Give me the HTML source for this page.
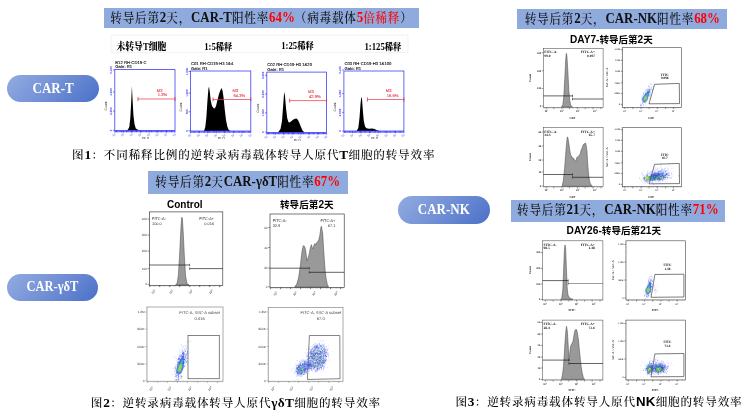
<!DOCTYPE html>
<html><head><meta charset="utf-8"><title>CAR transduction efficiency</title>
<style>
html,body{margin:0;padding:0;background:#fff;}
body{width:747px;height:420px;position:relative;overflow:hidden;font-family:"Liberation Serif","Noto Serif CJK SC",serif;}
svg{position:absolute;left:0;top:0;}
.sh{filter:blur(0.3px);}
.tx{filter:blur(0.15px);}
.ts{font-family:"Liberation Serif","Noto Serif CJK SC",serif;}
svg text{text-rendering:geometricPrecision;}
.tn{font-family:"Liberation Sans","Noto Sans CJK SC",sans-serif;}
.band{position:absolute;background:#8faadc;color:#111;text-align:center;white-space:nowrap;font-family:"Liberation Serif","Noto Serif CJK SC",serif;font-weight:500;}
.band b{font-weight:bold;letter-spacing:0;font-size:12.9px;}
.bt{display:inline-block;transform:scale(1,1.12);transform-origin:50% 55%;}
.r{color:#ff0000;}
.pill{position:absolute;border-radius:14px;background:linear-gradient(135deg,#92abe0 0%,#7592d6 45%,#4a70c8 100%);color:#fff;font-weight:bold;text-align:center;white-space:nowrap;font-family:"Liberation Serif","Noto Serif CJK SC",serif;}
.pt{display:inline-block;transform:scale(1,1.1);}
.sl{position:absolute;white-space:nowrap;font-family:"Liberation Serif","Noto Serif CJK SC",serif;font-weight:900;color:#000;line-height:14px;}
.sl i{font-style:normal;font-size:8.7px;font-weight:bold;}
.sl{transform:scale(1,1.1);transform-origin:0 50%;}
.bl i{font-style:normal;font-size:106%;}
.bl{position:absolute;white-space:nowrap;font-family:"Liberation Sans","Noto Sans CJK SC",sans-serif;font-weight:bold;color:#000;line-height:14px;}
.cap{position:absolute;white-space:nowrap;font-family:"Liberation Serif","Noto Serif CJK SC",serif;color:#000;line-height:16px;letter-spacing:0.8px;font-weight:500;}
.cap b{letter-spacing:0.3px;font-size:13.3px;font-weight:bold;}
.sn{font-family:"Liberation Sans","Noto Sans CJK SC",sans-serif;}
</style></head>
<body>
<svg width="747" height="420" viewBox="0 0 747 420">
<defs><filter id="bl" x="-50%" y="-50%" width="200%" height="200%"><feGaussianBlur stdDeviation="0.35"/></filter></defs>
<g class="sh">
<rect x="111" y="35" width="297" height="17.5" fill="#fefefe" stroke="#eeeef2" stroke-width="0.7"/>
<path d="M126.5 130.4L128 129.6L129.3 127L130.3 118L131.2 102L131.9 86L132.6 100L133.4 115L134.5 124L135.8 128.6L138 129.8L141 130.4Z" fill="#000" stroke="none" stroke-width="1" stroke-linejoin="round"/>
<rect x="114.8" y="69.6" width="60.2" height="60.8" stroke="#4040f3" stroke-width="0.8" fill="none"/>
<path d="M114.8 130.4L114.8 132.6M123.4 130.4L123.4 132.6M132 130.4L132 132.6M140.6 130.4L140.6 132.6M149.2 130.4L149.2 132.6M157.8 130.4L157.8 132.6M166.4 130.4L166.4 132.6M175 130.4L175 132.6" stroke="#4040f3" stroke-width="0.7" fill="none"/>
<path d="M114.8 131.5L175 131.5" stroke="#2a2af8" stroke-width="1.5" stroke-dasharray="0.9 0.35"/>
<path d="M113 130.4L114.8 130.4M113 111.1L114.8 111.1M113 91.9L114.8 91.9M113 69.9L114.8 69.9" stroke="#4040f3" stroke-width="0.7" fill="none"/>
<path d="M138 99L175 99" stroke="#e63548" stroke-width="0.7" fill="none"/>
<path d="M138 96.9L138 101.1M175 96.9L175 101.1" stroke="#e63548" stroke-width="0.8" fill="none"/>
<path d="M204 131L205.3 127L206.4 117L207.5 100L208.4 89L209 86.5L209.8 92L210.8 101L212 106L213.5 108L214.8 108.5L216 106L217.5 100L219 94L220.5 90L221.6 88L222.6 91L223.6 98L224.8 110L226 120L227.3 126.5L228.8 130L230.5 131Z" fill="#000" stroke="none" stroke-width="1" stroke-linejoin="round"/>
<rect x="190.4" y="71" width="60.4" height="60" stroke="#4040f3" stroke-width="0.8" fill="none"/>
<path d="M190.4 131L190.4 133.2M199.03 131L199.03 133.2M207.66 131L207.66 133.2M216.29 131L216.29 133.2M224.91 131L224.91 133.2M233.54 131L233.54 133.2M242.17 131L242.17 133.2M250.8 131L250.8 133.2" stroke="#4040f3" stroke-width="0.7" fill="none"/>
<path d="M190.4 132.1L250.8 132.1" stroke="#2a2af8" stroke-width="1.5" stroke-dasharray="0.9 0.35"/>
<path d="M188.6 130.8L190.4 130.8M188.6 111.8L190.4 111.8M188.6 93.1L190.4 93.1M188.6 71.5L190.4 71.5" stroke="#4040f3" stroke-width="0.7" fill="none"/>
<path d="M213 99.5L250.8 99.5" stroke="#e63548" stroke-width="0.7" fill="none"/>
<path d="M213 97.4L213 101.6M250.8 97.4L250.8 101.6" stroke="#e63548" stroke-width="0.8" fill="none"/>
<path d="M278 132.5L280.5 129L282 121L283.2 105L284.2 91.8L285 96L286 108L287.2 118L288.4 122L289.5 122.6L291 121.5L293 119.8L295 118.8L296.6 118.6L298 120L299.6 123.5L301 127L302.5 130.5L304.5 132.5Z" fill="#000" stroke="none" stroke-width="1" stroke-linejoin="round"/>
<rect x="266.8" y="72.1" width="59.7" height="60.4" stroke="#4040f3" stroke-width="0.8" fill="none"/>
<path d="M266.8 132.5L266.8 134.7M275.33 132.5L275.33 134.7M283.86 132.5L283.86 134.7M292.39 132.5L292.39 134.7M300.91 132.5L300.91 134.7M309.44 132.5L309.44 134.7M317.97 132.5L317.97 134.7M326.5 132.5L326.5 134.7" stroke="#4040f3" stroke-width="0.7" fill="none"/>
<path d="M266.8 133.6L326.5 133.6" stroke="#2a2af8" stroke-width="1.5" stroke-dasharray="0.9 0.35"/>
<path d="M265 132.1L266.8 132.1M265 112.8L266.8 112.8M265 94L266.8 94M265 75.3L266.8 75.3" stroke="#4040f3" stroke-width="0.7" fill="none"/>
<path d="M289.7 100.6L326.5 100.6" stroke="#e63548" stroke-width="0.7" fill="none"/>
<path d="M289.7 98.5L289.7 102.7M326.5 98.5L326.5 102.7" stroke="#e63548" stroke-width="0.8" fill="none"/>
<path d="M356.5 131L358.3 128L359.5 118L360.5 104L361.3 96.8L362 99L362.8 110L363.8 121L365 126.5L366.5 128.3L369 128.8L372 128.5L374.5 129L377 130.2L379.5 131Z" fill="#000" stroke="none" stroke-width="1" stroke-linejoin="round"/>
<rect x="343.9" y="71" width="60" height="60" stroke="#4040f3" stroke-width="0.8" fill="none"/>
<path d="M343.9 131L343.9 133.2M352.47 131L352.47 133.2M361.04 131L361.04 133.2M369.61 131L369.61 133.2M378.19 131L378.19 133.2M386.76 131L386.76 133.2M395.33 131L395.33 133.2M403.9 131L403.9 133.2" stroke="#4040f3" stroke-width="0.7" fill="none"/>
<path d="M343.9 132.1L403.9 132.1" stroke="#2a2af8" stroke-width="1.5" stroke-dasharray="0.9 0.35"/>
<path d="M342.1 131L343.9 131M342.1 112.4L343.9 112.4M342.1 93.6L343.9 93.6M342.1 70L343.9 70" stroke="#4040f3" stroke-width="0.7" fill="none"/>
<path d="M367.4 99.5L403.9 99.5" stroke="#e63548" stroke-width="0.7" fill="none"/>
<path d="M367.4 97.4L367.4 101.6M403.9 97.4L403.9 101.6" stroke="#e63548" stroke-width="0.8" fill="none"/>
<path d="M175.5 284.9L177 283.5L178.3 276L179.6 255L180.7 232L181.5 219L181.9 217.2L182.4 219L183.2 232L184.3 255L185.6 276L187 283.5L189 284.9Z" fill="#999999" stroke="#444" stroke-width="0.5" stroke-linejoin="round"/>
<rect x="149.3" y="211.9" width="73.5" height="73.5" stroke="#222" stroke-width="0.6" fill="none"/>
<path d="M149.3 265L189.6 265" stroke="#111" stroke-width="0.65" fill="none"/>
<path d="M189.6 268.6L222.8 268.6" stroke="#111" stroke-width="0.65" fill="none"/>
<path d="M189.6 263.8L189.6 266.2M189.6 267.4L189.6 269.8" stroke="#222" stroke-width="0.6" fill="none"/>
<path d="M147.6 219L149.3 219M147.6 235L149.3 235M147.6 251L149.3 251M147.6 268.6L149.3 268.6M147.6 284.3L149.3 284.3" stroke="#222" stroke-width="0.55" fill="none"/>
<path d="M149.7 285.4L149.7 287.1M159.7 285.4L159.7 287.1M169.7 285.4L169.7 287.1M179.7 285.4L179.7 287.1M189.7 285.4L189.7 287.1M199.7 285.4L199.7 287.1M209.7 285.4L209.7 287.1M219.7 285.4L219.7 287.1" stroke="#222" stroke-width="0.55" fill="none"/>
<path d="M149.3 285.95L222.8 285.95" stroke="#222" stroke-width="0.9" stroke-dasharray="0.4 0.85" opacity="0.65"/>
<path d="M294.71 287.07L296.85 283.85L298.57 277.85L299.85 269.28L301.14 258.57L302.21 250L303.28 245.71L304.35 246.14L305.42 248.93L306.28 255.35L307.14 260.71L308.21 257.5L309.28 253.85L310.35 247.85L311.42 244.64L312.28 247.43L313.14 248.93L314 245.28L314.85 243.57L315.71 244.85L316.78 242.5L317.85 241.85L318.92 239.28L319.78 235.43L320.42 231.14L320.85 227.71L321.28 226.21L321.71 227.71L322.14 230.28L322.78 233.93L323.42 245.71L324.28 258.57L325.14 270.35L325.99 277.85L327.28 284.28L328.57 287.07Z" fill="#999999" stroke="#444" stroke-width="0.5" stroke-linejoin="round"/>
<rect x="270" y="214" width="74.2" height="73.5" stroke="#222" stroke-width="0.6" fill="none"/>
<path d="M270 268.2L309.3 268.2" stroke="#111" stroke-width="0.65" fill="none"/>
<path d="M309.3 272.3L344.2 272.3" stroke="#111" stroke-width="0.65" fill="none"/>
<path d="M309.3 267L309.3 269.4M309.3 271.1L309.3 273.5" stroke="#222" stroke-width="0.6" fill="none"/>
<path d="M268.3 227.5L270 227.5M268.3 247.5L270 247.5M268.3 268L270 268M268.3 286.8L270 286.8" stroke="#222" stroke-width="0.55" fill="none"/>
<path d="M270.4 287.5L270.4 289.2M280.4 287.5L280.4 289.2M290.4 287.5L290.4 289.2M300.4 287.5L300.4 289.2M310.4 287.5L310.4 289.2M320.4 287.5L320.4 289.2M330.4 287.5L330.4 289.2M340.4 287.5L340.4 289.2" stroke="#222" stroke-width="0.55" fill="none"/>
<path d="M270 288.05L344.2 288.05" stroke="#222" stroke-width="0.9" stroke-dasharray="0.4 0.85" opacity="0.65"/>
<path d="M561.5 107L562.8 105L563.8 96L564.8 78L565.7 60L566.3 53.3L566.9 56L567.8 70L568.8 90L569.8 101L570.8 105.5L572.5 107Z" fill="#999999" stroke="#444" stroke-width="0.5" stroke-linejoin="round"/>
<rect x="543.4" y="48.4" width="59.7" height="59.1" stroke="#4a4a4a" stroke-width="0.55" fill="none"/>
<path d="M543.4 95.9L572.5 95.9" stroke="#111" stroke-width="0.65" fill="none"/>
<path d="M572.5 99L603.1 99" stroke="#111" stroke-width="0.65" fill="none"/>
<path d="M572.5 94.7L572.5 97.1M572.5 97.8L572.5 100.2" stroke="#222" stroke-width="0.6" fill="none"/>
<path d="M541.7 52.7L543.4 52.7M541.7 70.7L543.4 70.7M541.7 88.5L543.4 88.5M541.7 106.1L543.4 106.1" stroke="#4a4a4a" stroke-width="0.55" fill="none"/>
<path d="M546.2 107.5L546.2 109.2M554 107.5L554 109.2M561.8 107.5L561.8 109.2M569.6 107.5L569.6 109.2M577.4 107.5L577.4 109.2M585.2 107.5L585.2 109.2M593 107.5L593 109.2M600.8 107.5L600.8 109.2" stroke="#4a4a4a" stroke-width="0.55" fill="none"/>
<path d="M543.4 108.05L603.1 108.05" stroke="#4a4a4a" stroke-width="0.9" stroke-dasharray="0.4 0.85" opacity="0.65"/>
<path d="M562.17 186.27L563.37 180.24L564.58 168.19L565.54 156.14L566.27 146.51L566.99 139.28L567.47 136.87L567.95 138.07L568.92 144.1L569.88 150.84L570.6 154.94L571.81 156.14L572.53 158.55L573.49 158.07L574.7 160.48L575.9 160.96L576.87 157.35L577.83 156.63L579.04 155.66L580.24 153.73L581.2 150.12L582.17 147.71L583.13 145.06L583.86 144.1L584.82 143.61L585.54 142.89L586.27 146.02L586.99 151.33L587.71 163.37L588.43 173.01L589.4 180.24L590.36 183.86L592.29 186.27Z" fill="#999999" stroke="#444" stroke-width="0.5" stroke-linejoin="round"/>
<rect x="543.4" y="127.7" width="59.7" height="59" stroke="#4a4a4a" stroke-width="0.55" fill="none"/>
<path d="M543.4 174.5L572.5 174.5" stroke="#111" stroke-width="0.65" fill="none"/>
<path d="M572.5 177.3L603.1 177.3" stroke="#111" stroke-width="0.65" fill="none"/>
<path d="M572.5 173.3L572.5 175.7M572.5 176.1L572.5 178.5" stroke="#222" stroke-width="0.6" fill="none"/>
<path d="M541.7 132L543.4 132M541.7 146L543.4 146M541.7 160L543.4 160M541.7 172L543.4 172M541.7 186L543.4 186" stroke="#4a4a4a" stroke-width="0.55" fill="none"/>
<path d="M546.2 186.7L546.2 188.4M554 186.7L554 188.4M561.8 186.7L561.8 188.4M569.6 186.7L569.6 188.4M577.4 186.7L577.4 188.4M585.2 186.7L585.2 188.4M593 186.7L593 188.4M600.8 186.7L600.8 188.4" stroke="#4a4a4a" stroke-width="0.55" fill="none"/>
<path d="M543.4 187.25L603.1 187.25" stroke="#4a4a4a" stroke-width="0.9" stroke-dasharray="0.4 0.85" opacity="0.65"/>
<path d="M560.6 299.4L561.8 298L562.8 290L563.6 270L564.4 250L565 244.9L565.6 248L566.4 268L567.2 288L568 295L569.4 297.8L571.5 298.8L573 299.4Z" fill="#999999" stroke="#444" stroke-width="0.5" stroke-linejoin="round"/>
<rect x="542.6" y="240.8" width="60.3" height="59.1" stroke="#4a4a4a" stroke-width="0.55" fill="none"/>
<path d="M542.6 280.6L568.2 280.6" stroke="#111" stroke-width="0.65" fill="none"/>
<path d="M568.2 283.5L602.9 283.5" stroke="#666" stroke-width="0.65" fill="none"/>
<path d="M568.2 279.4L568.2 281.8M568.2 282.3L568.2 284.7" stroke="#222" stroke-width="0.6" fill="none"/>
<path d="M540.9 252.5L542.6 252.5M540.9 268.5L542.6 268.5M540.9 284L542.6 284M540.9 299.4L542.6 299.4" stroke="#4a4a4a" stroke-width="0.55" fill="none"/>
<path d="M545.4 299.9L545.4 301.6M553.2 299.9L553.2 301.6M561 299.9L561 301.6M568.8 299.9L568.8 301.6M576.6 299.9L576.6 301.6M584.4 299.9L584.4 301.6M592.2 299.9L592.2 301.6M600 299.9L600 301.6" stroke="#4a4a4a" stroke-width="0.55" fill="none"/>
<path d="M542.6 300.45L602.9 300.45" stroke="#4a4a4a" stroke-width="0.9" stroke-dasharray="0.4 0.85" opacity="0.65"/>
<path d="M561.45 379.4L562.41 375.06L563.37 367.83L564.34 353.37L565.06 341.33L565.78 331.69L566.51 326.39L567.23 330.48L567.71 336.51L568.43 349.76L568.92 361.08L569.4 356.99L569.88 351.45L570.6 346.14L571.81 343.73L573.01 341.33L573.98 335.3L574.94 330.48L575.9 329.28L576.63 329.76L577.35 332.89L578.31 338.92L579.28 348.55L580.24 358.19L581.2 366.63L582.17 372.65L583.37 377.47L584.58 379.4Z" fill="#999999" stroke="#444" stroke-width="0.5" stroke-linejoin="round"/>
<rect x="542.6" y="320.1" width="60.3" height="59.8" stroke="#4a4a4a" stroke-width="0.55" fill="none"/>
<path d="M542.6 360.1L568.9 360.1" stroke="#111" stroke-width="0.65" fill="none"/>
<path d="M568.9 363.5L602.9 363.5" stroke="#111" stroke-width="0.65" fill="none"/>
<path d="M568.9 358.9L568.9 361.3M568.9 362.3L568.9 364.7" stroke="#222" stroke-width="0.6" fill="none"/>
<path d="M540.9 322.5L542.6 322.5M540.9 334L542.6 334M540.9 345.5L542.6 345.5M540.9 357L542.6 357M540.9 368L542.6 368M540.9 379.5L542.6 379.5" stroke="#4a4a4a" stroke-width="0.55" fill="none"/>
<path d="M545.4 379.9L545.4 381.6M553.2 379.9L553.2 381.6M561 379.9L561 381.6M568.8 379.9L568.8 381.6M576.6 379.9L576.6 381.6M584.4 379.9L584.4 381.6M592.2 379.9L592.2 381.6M600 379.9L600 381.6" stroke="#4a4a4a" stroke-width="0.55" fill="none"/>
<path d="M542.6 380.45L602.9 380.45" stroke="#4a4a4a" stroke-width="0.9" stroke-dasharray="0.4 0.85" opacity="0.65"/>
<rect x="147" y="307" width="76" height="74.25" stroke="#888" stroke-width="0.7" fill="none"/>
<path d="M145.3 312L147 312M145.3 329L147 329M145.3 346.5L147 346.5M145.3 364L147 364M145.3 380.8L147 380.8" stroke="#888" stroke-width="0.55" fill="none"/>
<path d="M147.4 381.25L147.4 382.95M157.4 381.25L157.4 382.95M167.4 381.25L167.4 382.95M177.4 381.25L177.4 382.95M187.4 381.25L187.4 382.95M197.4 381.25L197.4 382.95M207.4 381.25L207.4 382.95M217.4 381.25L217.4 382.95" stroke="#888" stroke-width="0.55" fill="none"/>
<path d="M147 381.8L223 381.8" stroke="#888" stroke-width="0.9" stroke-dasharray="0.4 0.85" opacity="0.65"/>
<path d="M146.45 307L146.45 381.25" stroke="#888" stroke-width="0.9" stroke-dasharray="0.4 1.3" opacity="0.5"/>
<path d="M179.9 365.44h0.7M182 355.53h0.7M181.79 354.57h0.7M177.61 373.99h0.7M180.82 357.58h0.7M180.99 366.27h0.7M183.04 355.47h0.7M178.9 368.66h0.7M178.31 358.3h0.7M178.87 351.1h0.7M176.55 359.76h0.7M176.8 364.31h0.7M181.43 361.58h0.7M175.57 356.79h0.7M180.21 363.89h0.7M177.9 358h0.7M180.05 355.69h0.7M185.14 357.16h0.7M178.45 370.2h0.7M179.4 361.67h0.7M180.73 363.6h0.7M177.36 362.74h0.7M187.62 351.33h0.7M182.47 364.59h0.7M174.31 378.89h0.7M185.31 353.75h0.7M179.44 367.77h0.7M178.53 368.44h0.7M178.87 368.4h0.7M185.78 358.51h0.7M182.19 359.36h0.7M183.7 353.39h0.7M179.61 360.98h0.7M180.16 373h0.7M179.15 355.56h0.7M186.88 347.18h0.7M179.67 361.87h0.7M182.13 369.53h0.7M180.65 359.75h0.7M176.41 375.27h0.7M180.24 360.21h0.7M181.76 362.27h0.7M182.72 353.76h0.7M181.61 359.37h0.7M181.98 369.17h0.7M178.97 368.44h0.7M177.29 371.35h0.7M179.22 367.76h0.7M176.56 364.91h0.7M181.15 345.16h0.7M181.95 355.43h0.7M179.98 357.31h0.7M179.96 367.18h0.7M180.64 361.19h0.7M181.14 367.75h0.7M178.2 361.61h0.7M183.16 354.41h0.7M183.26 356.18h0.7M182.58 365.27h0.7M182.21 358.23h0.7M184.98 346.59h0.7M176.92 365.15h0.7M173.3 368.39h0.7M174.46 367.93h0.7M176.66 368.76h0.7M184.53 350.54h0.7M180.34 375.68h0.7M181.08 360.71h0.7M182.49 354.92h0.7M184.62 359.35h0.7M182.33 356.48h0.7M182.03 352.11h0.7M184.1 362.64h0.7M182.98 363.8h0.7M179.63 359.83h0.7M179.18 362.66h0.7M180.36 360.28h0.7M179.04 355.42h0.7M186.31 358.7h0.7M177.18 365h0.7M187.52 352.13h0.7M181.56 357.69h0.7M174.48 367.74h0.7M180.37 363.57h0.7M177.65 366.18h0.7M179.59 361.45h0.7M180.68 352.27h0.7M185.13 359.81h0.7M181.41 362.93h0.7M180.69 358.53h0.7M182.88 360.99h0.7M180.17 363.07h0.7M181.95 369.4h0.7M182.88 358.67h0.7M174.92 369.77h0.7M183.35 362.54h0.7M180.12 369.77h0.7M180.52 371.12h0.7M175.91 375.05h0.7M175.47 369.15h0.7M179.79 370.49h0.7M181.82 376.48h0.7M181.69 348.38h0.7M185.02 355.29h0.7M178.6 369.85h0.7M181.44 344.58h0.7M181.14 363.55h0.7M179.9 363.14h0.7M182 350.02h0.7M182.46 354.94h0.7M175.31 365.95h0.7M179.49 366.28h0.7M179.67 356.91h0.7M180.18 355.04h0.7M182.92 356.74h0.7M180.69 366.03h0.7M188.92 353.07h0.7M183.03 362.91h0.7M183.96 351.14h0.7M177.71 368.74h0.7M180.2 363.6h0.7M177.17 372.23h0.7M185.7 345.01h0.7M183.48 346.42h0.7M173.72 356.34h0.7M183.82 364.34h0.7M179.87 354.47h0.7M183.06 365.1h0.7M180.85 362.6h0.7M178.81 369.61h0.7M181.48 365.16h0.7M176.8 366.43h0.7M176.33 371.45h0.7M177.75 360.96h0.7M183.69 352.17h0.7M181.48 376.17h0.7M177.63 368.97h0.7M187.67 341.92h0.7M181.37 362.68h0.7M183.33 354.26h0.7M180.34 361.35h0.7M182.79 366.58h0.7M177 375.49h0.7M180.12 359.42h0.7M172.38 374.52h0.7M180.86 371.18h0.7M182.01 364.38h0.7M181.73 361.1h0.7M179.96 363.3h0.7M183.08 368.62h0.7M181.81 358.22h0.7M175.26 375.64h0.7M181.71 363.92h0.7M182.33 353.69h0.7M178.39 370.09h0.7M180.15 360.86h0.7M179.79 363.74h0.7M177.17 359.93h0.7M176.39 369.62h0.7M177.32 367.16h0.7M185.14 361.53h0.7M178.65 364.13h0.7M182.92 354.88h0.7M177.03 379.8h0.7M180.43 361.16h0.7M177.24 364.86h0.7M180.08 353.06h0.7M185.92 356.52h0.7M179.73 376.23h0.7M179.95 367.71h0.7M185.94 362.79h0.7M182.29 351.52h0.7M177.24 375.12h0.7M185.21 355.99h0.7M179.64 358.27h0.7M181.81 361.53h0.7M180.44 365.58h0.7M179.95 362.46h0.7M181.31 362.46h0.7M177.48 378.65h0.7M181.95 363.88h0.7M175.48 364.96h0.7M179.04 350.09h0.7M181.08 369.38h0.7M184.23 348.92h0.7M181.26 357.19h0.7M182.97 356.79h0.7M177.81 361.7h0.7M182.86 353.46h0.7M183.59 353.68h0.7M180.89 372.48h0.7M184.42 359.9h0.7M182.2 362.29h0.7M180.42 359.95h0.7M180.73 350.27h0.7M183.03 362.01h0.7M178.79 371.34h0.7M178.11 355.35h0.7M180.12 366.33h0.7M177.25 371.14h0.7M183.97 353.24h0.7M176.39 368.91h0.7M186.21 347.82h0.7M182.57 368.85h0.7M184.86 360.83h0.7M182.5 353.58h0.7M187.35 363.38h0.7M186.08 358.85h0.7M184.93 349.46h0.7M177.34 370.76h0.7M174.96 370.86h0.7M183.89 354.71h0.7M180.42 358.89h0.7M181.73 358.58h0.7M179.25 359.92h0.7M181.05 351.73h0.7M178.41 370.18h0.7M176.77 361.93h0.7M181.26 354.55h0.7M183.95 359.38h0.7M186.17 357.7h0.7M182.1 361.42h0.7M177.34 367.26h0.7M178.8 367.82h0.7M183.03 354.09h0.7M180.22 363.35h0.7M185.12 356.28h0.7M184.54 348.9h0.7M184.76 354.63h0.7M176.22 361.22h0.7M186.94 351.34h0.7M179.62 356.15h0.7M176.89 365.29h0.7M180.27 356.53h0.7M183.83 357.24h0.7M183.96 355.37h0.7M181.87 347.13h0.7M186 361.72h0.7M181.28 362.92h0.7M180.88 363.52h0.7M187.8 355.88h0.7M179.08 353.62h0.7M175.51 368.15h0.7M184.9 355.73h0.7M177.96 359.1h0.7M190.68 340.96h0.7M184.44 354.59h0.7M185.73 354.94h0.7M183.42 350.49h0.7M174.91 373.62h0.7M183.59 360.31h0.7M182.86 346.9h0.7M179.69 362.47h0.7M180.61 362.17h0.7M177.95 361.65h0.7M177.48 373.52h0.7M185.59 363.22h0.7M178.84 361.92h0.7M180.82 356.5h0.7M182.9 354.43h0.7M182.36 362.59h0.7M181.65 361.68h0.7M181 354.73h0.7M181.29 358.35h0.7M181.19 363.13h0.7M177.04 362.57h0.7M178.69 357h0.7M184.73 345.83h0.7M180.47 364.3h0.7M181.2 359.42h0.7M181.95 354.75h0.7M181.22 358.29h0.7M183.65 353.23h0.7M180.85 364.34h0.7M181.28 359.31h0.7M185.88 349.79h0.7M181.18 365.32h0.7M180.41 366.34h0.7M179.57 360.41h0.7M181.18 366.98h0.7M184.66 350.78h0.7M179.2 372.94h0.7M182.58 365.63h0.7M174.5 369.58h0.7M186.17 342.2h0.7M185.04 351.08h0.7M178.85 356.88h0.7M184.65 360.88h0.7M177.18 377.48h0.7M184.83 363.3h0.7M182.95 352.52h0.7M177.87 365.98h0.7M181.33 364.18h0.7M184.9 357.4h0.7M178.75 368.93h0.7M179.55 372.17h0.7M182.32 360.76h0.7M183.85 355.07h0.7M175.14 366.57h0.7M179.74 365.48h0.7M177.21 358.8h0.7M181.13 355.51h0.7M175.75 358.65h0.7M181.95 366.76h0.7M179.13 362.45h0.7M188.96 340.99h0.7M179.02 367.35h0.7M178.32 377.39h0.7M182.7 366.37h0.7M179.51 369.65h0.7M179.35 362.29h0.7M178.28 379.64h0.7M180.32 362.49h0.7M177.95 374.12h0.7M177.08 374.98h0.7M178.62 360.79h0.7M178.26 369.28h0.7M186.75 351.42h0.7M177.52 365.1h0.7M182.52 350.09h0.7M182.04 367.78h0.7M182.95 359.47h0.7M183.73 361.78h0.7M185.48 356.34h0.7M177.99 364.06h0.7M177.26 368.02h0.7M183.41 355.65h0.7M181.61 360.18h0.7" stroke="#6a86f2" stroke-width="0.7" fill="none" opacity="0.5"/>
<path d="M183.02 362.33h0.7M177.49 372.26h0.7M181.08 378.2h0.7M180.05 366.8h0.7M183.31 365.59h0.7M178.32 365.66h0.7M182.5 360.95h0.7M179.67 356.35h0.7M182.77 361.47h0.7M179.69 366.65h0.7M181.98 363.89h0.7M182.68 360.63h0.7M181.33 359.4h0.7M182.41 365.94h0.7M179.53 363.08h0.7M178.74 369.42h0.7M179.1 358.68h0.7M175.42 379.91h0.7M182.23 365.36h0.7M178.2 377.74h0.7M180.48 363.26h0.7M181.7 368.98h0.7M182.37 362.92h0.7M180.99 376.37h0.7M180.2 369.74h0.7M175.54 368.12h0.7M179.23 367.9h0.7M182.11 363.89h0.7M176.6 366.74h0.7M179.49 363.21h0.7M179.76 363.21h0.7M174.07 371.31h0.7M178.92 372.04h0.7M183.88 366.67h0.7M178.49 359.4h0.7M178.93 361.97h0.7M183.76 353.99h0.7M183.42 356.97h0.7M181.02 365.02h0.7M179.85 364.91h0.7M180.33 361.68h0.7M177.28 364.45h0.7M180.4 377.89h0.7M181.55 370.26h0.7M176.68 373.47h0.7M180.31 365.07h0.7M179.62 365.88h0.7M179.64 364.79h0.7M178.94 362.78h0.7M184.58 366.29h0.7M178.98 368.45h0.7M183.44 359.45h0.7M178.4 370.69h0.7M180.59 366.34h0.7M184.26 362.4h0.7M181.31 362.54h0.7M186.25 355.02h0.7M179.95 362.1h0.7M180.51 369.34h0.7M185.45 357.15h0.7M182.16 364.2h0.7M178.19 368.26h0.7M182.05 353.04h0.7M182.1 356.67h0.7M178.5 367.3h0.7M178.25 374.82h0.7M182.47 356.55h0.7M180.44 359.8h0.7M177.36 367.37h0.7M182.39 353.76h0.7M181.76 365.22h0.7M180.78 366.3h0.7M181.39 366.05h0.7M181.85 368.6h0.7M180.34 368.07h0.7M177.91 363.79h0.7M179.48 366.56h0.7M175.12 374.21h0.7M182.49 358.57h0.7M177.64 362.98h0.7M181.32 361.31h0.7M181.53 361.85h0.7M182.51 361.61h0.7M178.61 371.13h0.7M186.66 361.04h0.7M180.84 360.41h0.7M183.63 359.29h0.7M179.46 365.08h0.7M180.1 359.47h0.7M182.91 353.14h0.7M178.34 362.36h0.7M180.88 364.51h0.7M177.83 361.9h0.7M180.84 369.12h0.7M181.62 360.34h0.7M182.41 362.49h0.7M179.49 360.26h0.7M182.58 367.53h0.7M183.21 363.34h0.7M183.01 362.52h0.7M175.9 379.76h0.7M182.53 363.01h0.7M179.61 367.34h0.7M183.32 363.31h0.7M177.58 362.98h0.7M180.15 366.14h0.7M182.18 368.02h0.7M183.61 359.57h0.7M178.42 378.04h0.7M181.29 367.37h0.7M177.63 375.89h0.7M178.79 364.37h0.7M179.91 370.03h0.7M178.99 367.04h0.7M179.59 366.05h0.7M181.95 358.85h0.7M178.81 370.55h0.7M178.93 363.6h0.7M183.28 359.68h0.7M182.39 359.48h0.7M178.55 379.43h0.7M184.36 365.29h0.7M181.45 366.59h0.7M177.93 374.48h0.7M176.15 370.9h0.7M177.88 373.6h0.7M181.75 361.72h0.7M179.59 369.89h0.7M179.56 368.33h0.7M182.88 352.92h0.7M180.79 370h0.7M180.46 365.97h0.7M182.95 363.41h0.7M179.32 364.04h0.7M184.77 358.12h0.7M183.53 362.44h0.7M176.21 372.19h0.7M182.27 357.95h0.7M178.11 370.68h0.7M183.18 363.66h0.7M179.86 369.83h0.7M178.54 367.21h0.7M181.13 362.39h0.7M179.29 365.63h0.7M181.29 362.25h0.7M177.68 371.7h0.7M179.23 370.72h0.7M181.52 369.53h0.7M185.81 361.93h0.7M182.3 364.09h0.7M180.88 376.28h0.7M178.33 358.89h0.7M180.21 370.4h0.7M181.76 365.48h0.7M180.05 369.5h0.7M178.46 371.38h0.7M175.13 367.97h0.7M176.83 370.49h0.7M181.35 360.25h0.7M182.49 360.44h0.7M181.22 355.98h0.7M179.43 368.35h0.7M182.4 365.22h0.7M182.18 366.15h0.7M179.18 368.76h0.7M182.8 364.09h0.7M180.12 364.44h0.7M181.94 360.35h0.7M182.84 363.73h0.7M182.51 360.98h0.7M180.31 367.95h0.7M176.19 376.94h0.7M178.04 375.94h0.7M183.15 362.18h0.7M178.88 367.82h0.7M180.33 365.82h0.7M182.77 354.92h0.7M183.56 352.59h0.7M182.18 361.51h0.7M179.36 363.86h0.7M183.17 357.38h0.7M178.87 358.44h0.7M178.17 358.85h0.7M184.95 360.24h0.7M183.76 357.93h0.7M181.38 363.81h0.7M179.25 368.75h0.7M183.19 367.54h0.7M182.14 359.95h0.7M181.77 364.39h0.7M181.89 365.68h0.7M186.76 354.98h0.7M178.3 370.43h0.7M180.97 360.75h0.7M182.1 357.4h0.7M176.48 379.64h0.7M184.23 359.7h0.7M179.37 362.71h0.7M183.49 361.29h0.7M177.58 370.24h0.7M182.5 363.8h0.7M180.82 355.98h0.7M182.71 352.27h0.7M182.71 362.26h0.7M178.09 376.53h0.7M184.35 359.48h0.7M179.97 372.63h0.7M180.51 359.61h0.7M182.75 356.21h0.7M186.96 352.4h0.7M178.72 363.37h0.7M179.61 366.34h0.7M181.15 364.41h0.7M185.91 353.76h0.7M181.48 361.38h0.7M180.18 366.84h0.7M179.69 361.33h0.7M181.17 367.93h0.7M175.68 376.91h0.7M186.94 358.27h0.7M176.7 380.13h0.7M181.37 367.19h0.7M180.82 362.27h0.7M180.82 362.21h0.7M182.32 363.59h0.7M181.48 358.34h0.7M181.69 360.32h0.7M178.25 371.41h0.7M180.13 368.6h0.7M180.85 366.03h0.7M180.58 363.66h0.7M183.48 359.64h0.7M182.69 366.4h0.7M179.74 362.29h0.7M178.8 366.07h0.7M177.1 371.71h0.7M182.63 351.98h0.7M182.29 353.53h0.7M178.48 371.59h0.7M183.7 358.12h0.7M175.97 375.36h0.7M180.87 365.69h0.7M178.17 380.2h0.7M182.44 366.98h0.7M179.93 369.24h0.7M180.93 359.07h0.7M181.96 360.06h0.7M180.03 366.02h0.7M185.98 361.82h0.7M180.35 364.49h0.7M179.37 371.77h0.7M180.76 360.51h0.7M178.84 359.3h0.7M181.2 366.04h0.7M179.06 362.82h0.7M179.52 368.42h0.7M179.63 363.74h0.7M178.88 357.91h0.7M186.87 353.73h0.7M179.32 366.59h0.7M180.95 360.64h0.7M180.2 365.44h0.7M183.26 354.63h0.7M181.44 360.49h0.7M178.92 366.52h0.7M179.99 371.01h0.7M177.87 370.57h0.7M180.56 372.67h0.7M183.08 365.39h0.7M178.62 370.17h0.7M177.46 365.99h0.7M179.94 363.1h0.7M178.59 359.45h0.7M178.79 370.61h0.7M182.24 365.56h0.7M181.33 360.61h0.7M181.44 364.28h0.7M178.51 375.92h0.7M182.72 356.85h0.7M181.14 356.64h0.7M175.95 372.4h0.7M183.23 356.85h0.7M179.41 373.11h0.7M180.76 361.41h0.7M179.21 366.96h0.7M179.51 372.65h0.7M180.55 372.97h0.7M181.69 370.03h0.7M177.72 363.94h0.7M181.51 363.45h0.7M182.56 363.9h0.7M176.22 373.35h0.7M181.15 367.11h0.7M180.24 372.11h0.7M184.99 351.5h0.7M179.82 362.51h0.7M178.17 366.13h0.7M183.28 363.33h0.7M174.87 376.6h0.7M181.51 358.15h0.7" stroke="#2b35d8" stroke-width="0.7" fill="none" opacity="0.75"/>
<g transform="translate(180.1 367.8) rotate(16.5)" filter="url(#bl)"><path d="M0 -13.5C1.05 -8.1 3 -2.02 3 0.65C3 4.55 1.65 6.5 0 6.5C-1.65 6.5 -3 4.55 -3 0.65C-3 -2.02 -1.05 -8.1 0 -13.5Z" fill="#3346e6" opacity="0.9" transform="translate(0 0) scale(1.0)"/><path d="M0 -13.5C1.05 -8.1 3 -2.02 3 0.65C3 4.55 1.65 6.5 0 6.5C-1.65 6.5 -3 4.55 -3 0.65C-3 -2.02 -1.05 -8.1 0 -13.5Z" fill="#38b8e8" opacity="0.95" transform="translate(0 0.13) scale(0.82)"/><path d="M0 -13.5C1.05 -8.1 3 -2.02 3 0.65C3 4.55 1.65 6.5 0 6.5C-1.65 6.5 -3 4.55 -3 0.65C-3 -2.02 -1.05 -8.1 0 -13.5Z" fill="#35c86a" opacity="1" transform="translate(0 0.33) scale(0.64)"/><path d="M0 -13.5C1.05 -8.1 3 -2.02 3 0.65C3 4.55 1.65 6.5 0 6.5C-1.65 6.5 -3 4.55 -3 0.65C-3 -2.02 -1.05 -8.1 0 -13.5Z" fill="#e8e040" opacity="1" transform="translate(0 0.52) scale(0.38)"/><path d="M0 -13.5C1.05 -8.1 3 -2.02 3 0.65C3 4.55 1.65 6.5 0 6.5C-1.65 6.5 -3 4.55 -3 0.65C-3 -2.02 -1.05 -8.1 0 -13.5Z" fill="#f04a20" opacity="0.9" transform="translate(0 0.65) scale(0.16)"/></g>
<rect x="188" y="335.5" width="31.25" height="43.25" stroke="#444" stroke-width="0.65" fill="none"/>
<rect x="268.25" y="307.5" width="74.75" height="73.75" stroke="#888" stroke-width="0.7" fill="none"/>
<path d="M266.55 312L268.25 312M266.55 329L268.25 329M266.55 346.5L268.25 346.5M266.55 364L268.25 364M266.55 380.8L268.25 380.8" stroke="#888" stroke-width="0.55" fill="none"/>
<path d="M268.65 381.25L268.65 382.95M278.65 381.25L278.65 382.95M288.65 381.25L288.65 382.95M298.65 381.25L298.65 382.95M308.65 381.25L308.65 382.95M318.65 381.25L318.65 382.95M328.65 381.25L328.65 382.95M338.65 381.25L338.65 382.95" stroke="#888" stroke-width="0.55" fill="none"/>
<path d="M268.25 381.8L343 381.8" stroke="#888" stroke-width="0.9" stroke-dasharray="0.4 0.85" opacity="0.65"/>
<path d="M267.7 307.5L267.7 381.25" stroke="#888" stroke-width="0.9" stroke-dasharray="0.4 1.3" opacity="0.5"/>
<path d="M327.06 349.64h0.7M322.1 352.12h0.7M309.7 365.77h0.7M318.46 346.77h0.7M310.4 354.86h0.7M314.52 372.16h0.7M310.68 362.92h0.7M327.63 353.89h0.7M311.02 361.02h0.7M311.46 346.79h0.7M325.5 352.86h0.7M311.04 368.61h0.7M322.28 351.28h0.7M322.62 366.03h0.7M316.6 347.96h0.7M324.26 348.83h0.7M326.06 346.64h0.7M321.17 356.68h0.7M319.21 352.65h0.7M324.53 361.57h0.7M314.77 371.07h0.7M309.36 352.12h0.7M316 363.06h0.7M322.89 363.39h0.7M313.58 354.77h0.7M318.84 344.11h0.7M321.62 345.47h0.7M324.9 361.46h0.7M323.71 354.04h0.7M309.9 360.98h0.7M313.29 365.85h0.7M319.75 346.56h0.7M326.44 350.91h0.7M320.76 348.4h0.7M315.17 362.42h0.7M309.08 356.6h0.7M322.85 350.02h0.7M308.65 366.73h0.7M322.4 344.92h0.7M318.32 350.03h0.7M306.89 354.94h0.7M324.33 355.25h0.7M308.76 365.95h0.7M320.86 348.98h0.7M314.27 351.26h0.7M312.33 364.21h0.7M310.34 352.67h0.7M313.29 347.27h0.7M311.06 354.73h0.7M322.6 366.56h0.7M322.76 357.21h0.7M324.93 355.46h0.7M325.57 361.79h0.7M325.11 355.27h0.7M310.77 352.09h0.7M323.15 369.28h0.7M320.16 356.29h0.7M310.85 359.91h0.7M316.42 352.74h0.7M325.79 352.52h0.7M315.61 355.5h0.7M325.33 363.36h0.7M324.33 343.92h0.7M314.73 346.97h0.7M319.23 350.66h0.7M314.28 370.16h0.7M320.65 349.04h0.7M325.54 349.97h0.7M312.61 358.55h0.7M309.04 358.19h0.7M311.43 364.38h0.7M318.22 357.85h0.7M317.73 366.51h0.7M314.75 366.48h0.7M327.38 367.67h0.7M322.59 345.07h0.7M310.23 358.33h0.7M308.41 350.92h0.7M309.33 360.99h0.7M309.76 363.21h0.7M319.25 347.47h0.7M313.41 357.54h0.7M312.31 348.61h0.7M309.22 361.98h0.7M314.83 353.61h0.7M324.26 352.28h0.7M315.94 371.4h0.7M306.36 349.77h0.7M315.92 344.84h0.7M321.11 367.83h0.7M331.87 351.62h0.7M311.08 354.48h0.7M316.29 369.93h0.7M317.64 347.06h0.7M320.92 354.26h0.7M314.17 342.99h0.7M327.01 354.51h0.7M320.39 364.82h0.7M311.94 355.92h0.7M317.17 354.33h0.7M327.46 353.62h0.7M315.41 347.26h0.7M310.85 349.16h0.7M312.89 358.61h0.7M310.28 349.75h0.7M311.36 353.45h0.7M324.28 350.74h0.7M321.29 351.46h0.7M318.03 348.06h0.7M324.35 350.11h0.7M322.12 362.75h0.7M316.69 353.06h0.7M311.89 355.33h0.7M319.67 350.22h0.7M309.56 366.62h0.7M306.34 356.17h0.7M323.59 345.6h0.7M324.8 360.24h0.7M310.5 368.84h0.7M314.44 355.54h0.7M324.36 349.48h0.7M314.44 368.84h0.7M322.59 348.19h0.7M315.92 368.06h0.7M310.6 367.39h0.7M313.04 351.27h0.7M315.46 347.64h0.7M324 352.83h0.7M321.34 355.82h0.7M313.27 366.97h0.7M318.68 351.89h0.7M314.91 348.29h0.7M310.89 362.24h0.7M319.07 347.81h0.7M327.06 353.53h0.7M312.69 359.33h0.7M325.75 351.09h0.7M323.19 367.53h0.7M318.75 365.78h0.7M315.56 346.65h0.7M315.77 360.47h0.7M311.14 353.11h0.7M309.92 354.96h0.7M318.19 360.1h0.7M319.06 343.61h0.7M320.04 340.18h0.7M320.15 367.54h0.7M313.62 367.18h0.7M321.55 347.48h0.7M321.43 351.87h0.7M323.3 351.91h0.7M314.27 356.13h0.7M315.79 362.77h0.7M313.37 355.81h0.7M319.79 370.54h0.7M314.05 353.79h0.7M318.24 364.78h0.7M322.94 371.08h0.7M315.75 360.38h0.7M324.56 367.98h0.7M307.82 358.47h0.7M317.04 346.77h0.7M315.58 348.98h0.7M322.54 356.72h0.7M318.83 355.9h0.7M311.8 354.28h0.7M322.63 350.46h0.7M306.62 359.88h0.7M323.07 345.57h0.7M313.28 368.49h0.7M304.7 352.69h0.7M328.05 355.39h0.7M316.84 351.42h0.7M309.35 358.18h0.7M322.36 352.76h0.7M319.9 357.64h0.7M322.57 346.16h0.7M325.09 358.97h0.7M317.89 360.15h0.7M319.58 357.49h0.7M316.83 365.89h0.7M323.29 355.37h0.7M317.42 357.16h0.7M310.99 367.13h0.7M312.01 352.99h0.7M316.91 345.47h0.7M318.78 343.18h0.7M308.61 361.84h0.7M318.02 365.46h0.7M324.78 346.55h0.7M323.55 367.54h0.7M321.47 362.9h0.7M315.64 360.01h0.7M309.65 353.16h0.7M322.8 354.71h0.7M316.13 355.74h0.7M315.78 352.15h0.7M313.06 351.99h0.7M316.59 343.72h0.7M312.85 348h0.7M311.19 368.26h0.7M322.77 362.9h0.7M319.14 367.14h0.7M321.66 347.38h0.7M315.07 347.06h0.7M320.89 348.94h0.7M324.23 360.91h0.7M327.79 352.93h0.7M316.18 360.64h0.7M323.61 354.79h0.7M313.87 352.23h0.7M310.23 352.05h0.7M324.9 349.4h0.7M313.53 344.65h0.7M313.69 349.03h0.7M320.79 364.42h0.7M314.61 348.82h0.7M310.81 361.22h0.7M323.83 364.08h0.7M320.65 367.76h0.7M312.53 356.68h0.7M317.06 362.18h0.7M317.76 344.37h0.7M322.77 369.01h0.7M325.42 364.17h0.7M328.73 359.23h0.7M311.57 363.81h0.7M307.17 355.62h0.7M316.54 371.61h0.7M316.97 368.04h0.7M310.72 360.73h0.7M316.09 350.11h0.7M318.43 358.44h0.7M323.23 353.84h0.7M323.42 358.66h0.7M312.92 351.02h0.7M307.55 366.36h0.7M321.27 360.48h0.7M319.29 364.36h0.7M310.64 367.15h0.7M326.35 348.96h0.7M321.4 355.77h0.7M319.09 351.09h0.7M316.73 346.33h0.7M325.18 357.57h0.7M319.24 363.63h0.7M322.14 350.23h0.7M314.53 344.42h0.7M311.71 365.09h0.7M325.46 349.56h0.7M314.31 367.16h0.7M312.24 356.71h0.7M319.28 362.25h0.7M314.75 357.23h0.7M321.51 357.12h0.7M320.1 363.69h0.7M319.01 348.65h0.7M312.84 354.08h0.7M317.26 346.86h0.7M316.46 347.44h0.7M317.04 354.89h0.7M315.11 364.85h0.7M318.71 345.63h0.7M322.31 365.39h0.7M314.42 366.99h0.7M309.27 358.89h0.7M321.39 367.21h0.7M318.81 362.41h0.7M315.39 345.61h0.7M319.39 344.31h0.7M310.22 364.07h0.7M317.18 359.94h0.7M318.85 368.94h0.7M311.26 353.43h0.7M313.22 350.91h0.7M326.94 352.32h0.7M325.2 361.31h0.7M327.51 349.92h0.7M323.47 357.2h0.7M308.83 367.15h0.7M317.71 348.95h0.7M323.86 351.6h0.7M316.82 352.33h0.7M313.84 364.43h0.7M314.44 353.19h0.7M325.57 351.14h0.7M320.2 361.98h0.7M314.86 356.3h0.7M325 354.72h0.7M327.34 350.48h0.7M322.45 344.14h0.7M323.29 365.89h0.7M322.91 341.06h0.7M315.22 348.22h0.7M321.12 366.02h0.7M306.83 354.87h0.7M319.49 344.37h0.7M318.38 358.12h0.7M309.63 354.38h0.7M324.44 358.58h0.7M319.08 354.38h0.7M312 353.65h0.7M323.35 363.4h0.7M320.39 367.61h0.7M317.2 357.15h0.7M320.1 352.33h0.7M325.09 348.58h0.7M308 348.5h0.7M312.41 348.04h0.7M310.49 350.87h0.7M316.42 352.31h0.7M310.79 369.05h0.7M307.64 355.38h0.7M307.17 356.03h0.7M314.29 351.34h0.7M320.14 364.36h0.7M320.81 358.54h0.7M322.16 361.23h0.7M318.08 364.43h0.7M324.03 351.44h0.7M316.02 345.88h0.7M318.94 346.99h0.7M311.3 357.52h0.7M322.22 364.49h0.7M309.42 358.67h0.7M322.5 348.84h0.7M312.04 355.35h0.7M317.36 351.58h0.7M310.11 362.81h0.7M318.41 368.21h0.7M314.57 349.91h0.7M307.79 360.69h0.7M311.97 365.06h0.7M311.97 369.23h0.7M316.76 345.9h0.7M311.49 366.33h0.7M309.39 346.96h0.7M316.69 360.97h0.7M320.13 345.37h0.7M311.81 361.73h0.7M312.76 356.85h0.7M318.18 356.76h0.7M317.52 349.7h0.7M318.34 355.71h0.7M311.39 365.94h0.7M326.36 347.63h0.7M306.52 364.29h0.7M318.16 358.46h0.7M325.79 351.67h0.7M315.27 345.96h0.7M322.71 355.08h0.7M315.03 352.12h0.7M317.22 347.49h0.7M322.03 366.51h0.7M320.08 357.95h0.7M318.63 349.84h0.7M324.36 365.37h0.7M315.6 370.19h0.7M312.49 353.49h0.7M321.19 347.39h0.7M322.64 362.91h0.7M326.96 355.64h0.7M312.38 366.64h0.7M324.76 356.35h0.7M315.6 353.61h0.7M309.31 358.48h0.7M313.36 363.81h0.7M321.07 365.82h0.7M322.63 362.7h0.7M314.27 348.21h0.7M319.51 346.46h0.7M325.47 353.36h0.7M313.74 362.72h0.7M324.7 355.17h0.7M312.26 371.5h0.7M326.07 356.34h0.7M320.14 357.15h0.7M321 365.6h0.7M319.86 349.82h0.7M318.32 355.45h0.7M321.43 342.29h0.7M320.5 352.64h0.7M310.36 352.97h0.7M312.28 358.6h0.7M316.7 360.75h0.7M326.79 349.99h0.7M324.24 350.53h0.7M319.47 363.24h0.7M317.92 348.82h0.7M312.78 366.66h0.7M319.2 361.62h0.7M317.1 369.24h0.7M310.89 354.61h0.7M318.73 369.81h0.7M316.8 368.57h0.7M319.81 357.37h0.7M312.85 359.7h0.7M319.07 349.03h0.7M323.69 360.13h0.7M309.8 356.94h0.7M310.51 352.95h0.7M323.41 367.07h0.7M316.49 357.36h0.7M320.54 355.35h0.7M320.25 358.47h0.7M323.31 347.06h0.7M319.13 364.44h0.7M318.36 353.96h0.7M311.71 361.62h0.7M320.83 369.36h0.7M312.54 357.3h0.7M327.73 355.17h0.7M318.72 354.36h0.7M312.96 364.74h0.7M322.72 361.05h0.7M325.84 353.89h0.7M319.87 357.89h0.7M309.53 354.26h0.7M313.15 367.94h0.7M311.58 353.1h0.7M318.94 351.14h0.7M309.42 356.77h0.7M310.38 364.36h0.7M317.85 363.59h0.7M310.38 368.09h0.7M323.68 362.64h0.7M314.1 367.06h0.7M323.74 353.59h0.7M324.55 361.37h0.7M316.89 346.27h0.7M323.38 350.25h0.7M311.24 358.25h0.7M317.41 352.68h0.7M314.56 365.47h0.7M315.88 347.41h0.7M315.28 352.11h0.7M316.39 347.91h0.7M310.37 354.86h0.7M324.88 355.41h0.7M319.68 351.75h0.7M315.32 349.31h0.7M314.9 347.11h0.7M313.64 369.42h0.7M328.65 354.05h0.7M314.67 346.45h0.7M321.12 350.1h0.7M317.17 363.95h0.7M325.42 356.48h0.7M319.27 363.99h0.7M305.93 353.72h0.7M316.15 358.38h0.7M315 364.94h0.7M321.67 345.3h0.7M322.52 365.46h0.7M310.14 361.61h0.7M317.48 369.58h0.7M325.29 352.48h0.7M322.85 362.4h0.7M314.34 358.46h0.7M328.56 345.71h0.7M317.74 353.16h0.7M317.45 348h0.7M326.17 357.95h0.7M324.27 359.82h0.7M312.29 346.44h0.7M319.16 343.12h0.7M318.68 348.78h0.7M317.67 356.77h0.7M323.16 365.21h0.7M319.52 359.95h0.7M322.8 340.57h0.7M315.32 354.59h0.7M311.2 365.24h0.7M321.02 358.19h0.7M314.04 358.78h0.7M321.73 361.04h0.7M317.47 354.17h0.7M307.78 365.64h0.7M320.3 348.55h0.7M321.37 362.8h0.7M307.7 357.35h0.7M322.33 364.62h0.7M321.61 346.98h0.7M309.66 348.29h0.7M313.89 369.36h0.7M326.27 354.3h0.7M319.37 351.63h0.7M308.23 369.56h0.7M327.79 348.36h0.7M314.58 360.48h0.7M323.22 356.48h0.7M310.73 367.53h0.7M328.98 360.95h0.7M321.5 361.18h0.7M318.28 346.98h0.7M314.06 363.51h0.7M309.14 358.08h0.7M315.17 348.56h0.7M321.49 357.68h0.7M319.26 361.11h0.7M319.79 362.96h0.7M318.19 340.98h0.7M318.42 363.32h0.7M311.08 358.64h0.7M312.27 367.02h0.7M315.68 356.16h0.7M325.16 355.04h0.7M309.34 353.37h0.7M319.56 352.95h0.7M314.99 343.77h0.7M323.68 349.31h0.7M316.12 359.04h0.7M320.47 363.03h0.7M308.17 357.37h0.7M321.34 368.5h0.7M322.07 358.7h0.7M322.73 353.06h0.7M316.08 353.37h0.7M313.72 359.47h0.7M321.05 362.24h0.7" stroke="#6a86f2" stroke-width="0.7" fill="none" opacity="0.5"/>
<path d="M314.04 350.06h0.7M309.45 356.19h0.7M311 353.69h0.7M315.84 359.88h0.7M317.13 357.06h0.7M310.9 356.5h0.7M313.1 364.95h0.7M323.37 345.14h0.7M315.19 360.92h0.7M315.55 366.3h0.7M315.88 364.18h0.7M318.07 347.63h0.7M323.38 349.19h0.7M316.71 353.9h0.7M310.33 366.48h0.7M313.47 345.93h0.7M323.64 347.77h0.7M318.83 355.75h0.7M316.85 349.75h0.7M316.52 347.5h0.7M310.25 364.12h0.7M318.9 363.7h0.7M316.91 354.18h0.7M318.78 368.57h0.7M312.81 362.07h0.7M313.61 356.15h0.7M320.72 356.84h0.7M322.11 366.56h0.7M323.26 362.14h0.7M310.66 354.11h0.7M328.22 356.77h0.7M316.59 357.36h0.7M314.63 349.44h0.7M324.85 359.08h0.7M310.25 351.64h0.7M321.19 367.88h0.7M317.7 350.23h0.7M312.9 359.3h0.7M313.74 348.2h0.7M313.43 365.44h0.7M322.94 361.1h0.7M317.76 368.09h0.7M314.94 366.04h0.7M318.37 365.05h0.7M317.3 366.7h0.7M313.22 353.36h0.7M309.49 358.58h0.7M322.22 350.76h0.7M313.75 355.43h0.7M309.45 352.73h0.7M315.9 345.61h0.7M324.65 351.18h0.7M315.16 353.65h0.7M320.6 357.01h0.7M306.57 356.53h0.7M323.4 360.81h0.7M311.71 353.94h0.7M321.76 363.34h0.7M317.73 356.2h0.7M319.77 365.49h0.7M323.93 348.85h0.7M320.83 363.61h0.7M316.11 346.92h0.7M316.84 346.47h0.7M316.26 362.54h0.7M312.74 350.17h0.7M310.77 363.2h0.7M315.94 361.05h0.7M317.18 364.74h0.7M322.58 360.66h0.7M314.52 351.06h0.7M322.46 364.16h0.7M316.85 358.2h0.7M320.45 358.32h0.7M322.21 347.66h0.7M310.53 352.09h0.7M306.81 356.14h0.7M312.89 353.03h0.7M320.49 345.64h0.7M311.58 351.3h0.7M311.48 356.61h0.7M315.49 362.12h0.7M307.83 353.44h0.7M322.9 356.42h0.7M315.76 353.26h0.7M309.36 357.59h0.7M325.78 352.36h0.7M319.43 360.53h0.7M319.84 360.91h0.7M317.67 351.92h0.7M323.12 355.47h0.7M325.43 360.77h0.7M318.79 358.33h0.7M322 360.71h0.7M311.13 353.27h0.7M318.97 360.29h0.7M311.87 352.26h0.7M316.87 353.22h0.7M319.93 360.64h0.7M324.14 347.69h0.7M316.1 360.38h0.7M313.04 354.21h0.7M310.19 365.3h0.7M313.47 362.25h0.7M318.21 359.28h0.7M324.93 358.85h0.7M312.43 361.92h0.7M316.69 365.89h0.7M309.5 365.01h0.7M318.81 367.98h0.7M309.43 367.48h0.7M317.51 350.42h0.7M326.05 356.73h0.7M317.55 368.77h0.7M321.25 352.3h0.7M314.25 347.44h0.7M320.5 358.82h0.7M322.99 357.86h0.7M321.61 353.23h0.7M316.96 361.94h0.7M320.06 361.49h0.7M314.24 347.37h0.7M316.73 352.5h0.7M325.29 350.17h0.7M311.51 357.07h0.7M314.56 361.03h0.7M314.39 359.67h0.7M317.72 370.5h0.7M314.83 354.68h0.7M325.11 355.98h0.7M319.72 361.13h0.7M308.28 362h0.7M311.96 364.44h0.7M320 361.77h0.7M313.92 350.54h0.7M319.86 356.46h0.7M315.26 363.21h0.7M315.89 353.54h0.7M323.75 353.56h0.7M313.8 366.9h0.7M323.01 353.86h0.7M318.14 354.7h0.7M314.09 346.13h0.7M318.42 362.48h0.7M315.55 362.72h0.7M318.92 358.67h0.7M324.1 351.31h0.7M321.15 349.04h0.7M321.43 363.55h0.7M312.89 356.09h0.7M316.91 362.03h0.7M321.07 345.9h0.7M314.9 354.8h0.7M323.74 355.73h0.7M317.97 347.94h0.7M318.63 362.2h0.7M310.42 363.91h0.7M315.02 356.5h0.7M323.49 355.8h0.7M311.9 361.48h0.7M317.62 363.25h0.7M314.23 368.05h0.7M315.65 362.91h0.7M319.25 363.38h0.7M314.29 365.15h0.7M317.18 366.99h0.7M313.82 357.42h0.7M325.37 352.22h0.7M325.19 355.31h0.7M319.19 363.94h0.7M314.47 355.09h0.7M315.76 348.41h0.7M318.49 362.93h0.7M313.53 355.03h0.7M317.27 360.41h0.7M311.19 365.89h0.7M312.72 368.58h0.7M323.53 346.5h0.7M314.19 366.01h0.7M311.18 353.05h0.7M309.34 349.18h0.7M311.08 365.37h0.7M326.3 356.7h0.7M312.8 363.35h0.7M311.08 366.74h0.7M316.99 347.79h0.7M313.46 356h0.7M316.32 350.59h0.7M316.58 359.25h0.7M319.4 367.73h0.7M320.58 346.57h0.7M309.62 360.24h0.7M321.45 355.88h0.7M318.41 361.59h0.7M315.39 367.29h0.7M322.02 352.79h0.7M312.93 362.24h0.7M318.71 360.76h0.7M317.11 368.73h0.7M320.6 346.82h0.7M317.86 359.62h0.7M314.47 355.12h0.7M321.25 353.01h0.7M313.45 353.08h0.7M319.91 345.49h0.7M323.63 357.25h0.7M310.98 368.63h0.7M323.2 351.44h0.7M313.5 354.03h0.7M315.95 370.33h0.7M323.21 368.98h0.7M310.4 365.35h0.7M317.51 363.14h0.7M319.05 353.55h0.7M309.91 353.65h0.7M323.95 362.67h0.7M321.92 351.65h0.7M311.87 349.39h0.7M312.09 358.16h0.7M321.08 368.89h0.7M314.7 357.99h0.7M324.51 356.4h0.7M313.66 350.85h0.7M310.38 355.83h0.7M312.17 348.6h0.7M313.89 354.48h0.7M314.36 352.52h0.7M316.91 369.35h0.7M321.68 364.9h0.7M322.45 360.81h0.7M320.22 353.01h0.7M325.89 360.28h0.7M315.74 368.42h0.7M311.33 349.68h0.7M311.42 357.84h0.7M323.64 349.59h0.7M317.19 368.59h0.7M320.2 364.87h0.7M321.24 367.33h0.7M309.46 356.77h0.7M312.27 366.9h0.7M311.03 357.92h0.7M314.98 354.52h0.7M312.3 365.63h0.7M315.98 346.84h0.7M326.18 359.45h0.7M312.26 353.93h0.7M319.75 356.3h0.7M325.06 355.59h0.7M311.52 351.06h0.7M321.37 356.98h0.7M314.26 367.52h0.7M315.76 361.24h0.7M307.49 358.94h0.7M312.43 355.58h0.7M319.77 353.52h0.7M309.99 359.66h0.7M321.01 359.41h0.7M317.59 348.57h0.7M315.14 363.66h0.7M320.25 353.94h0.7M317.53 363.41h0.7M314.73 363.09h0.7M318.05 366.09h0.7M313.24 364.07h0.7M312.52 351.65h0.7M315.21 371.88h0.7M324.4 361.5h0.7M317.16 356.53h0.7M316.97 344.77h0.7M320.4 357.3h0.7M312.94 358.17h0.7M322.82 362.42h0.7M324.33 360.71h0.7M312.5 360.94h0.7M316.1 366.77h0.7M325.13 353.47h0.7M323.11 358.83h0.7M314.09 353.02h0.7M320.38 352.03h0.7M311.03 360.56h0.7M314.23 355.48h0.7M317.32 369.08h0.7M314.31 365.68h0.7M322.56 360.71h0.7M324.27 352.99h0.7M325.46 360.51h0.7M320.47 367.18h0.7M320.09 351.56h0.7M308.84 360.33h0.7M314.41 357.16h0.7M314.43 366.82h0.7M318.65 364.5h0.7M319.93 351.34h0.7M324.14 366.57h0.7M311.6 369.67h0.7M319.48 344.94h0.7M312.75 367.12h0.7M318.93 357.82h0.7M315.85 366.07h0.7M311.37 354.15h0.7M314.19 355.57h0.7M310.11 356.35h0.7M320.58 346.52h0.7M319.75 360.62h0.7M313.51 354.96h0.7M319.94 351.81h0.7M324.36 362.26h0.7M313.89 355.63h0.7M312.97 355.73h0.7M307.81 360.85h0.7M311.78 353.1h0.7M312.62 349.18h0.7M318.18 353.74h0.7M319.03 356.94h0.7M314.58 347.18h0.7M322.46 358.27h0.7M314.45 346.1h0.7M313 365.97h0.7M320.74 365.52h0.7M321.18 363.06h0.7M314.48 362.51h0.7M318.14 360.3h0.7M316.21 346.88h0.7M317.24 353.59h0.7M315.88 352.1h0.7M313.99 360.33h0.7M312.17 359.19h0.7M315.14 366.11h0.7M323.4 354.86h0.7M319.87 359.75h0.7M313.38 365.13h0.7M310.63 351.43h0.7M316.09 359.86h0.7M324.69 349.14h0.7M311.02 356.66h0.7M310.5 364.29h0.7M319.22 358.24h0.7M313.82 358.47h0.7M315.65 353.34h0.7M315.23 370.51h0.7M323.37 360.67h0.7M313.07 350.82h0.7M313 366.35h0.7M317.76 354.39h0.7M315.57 349.86h0.7M318.72 350.52h0.7M324.34 352.41h0.7M321.15 349.02h0.7M315.31 359.35h0.7M310.74 352.09h0.7M313.63 363.05h0.7M317.28 363.45h0.7M318.91 369.2h0.7M322.6 362.64h0.7M315.69 366.98h0.7M318.63 366.26h0.7M315.72 347.95h0.7M315.19 362.58h0.7M318.72 356.63h0.7M310.23 360.93h0.7M317.2 365.8h0.7M319.38 350.77h0.7M316.62 369.38h0.7M310.76 350.66h0.7M315.46 363.51h0.7M310.21 356.58h0.7M318.35 353.95h0.7M313.55 363.12h0.7M310.13 356.63h0.7M313.85 358.95h0.7M323.48 361.73h0.7M323.33 359.03h0.7M322.34 350.05h0.7M311.6 366.93h0.7M317.46 345.84h0.7M313.37 361.48h0.7M322.74 353h0.7M318.05 364.04h0.7M310.63 357.83h0.7M312.6 353.78h0.7M317.88 348.47h0.7M322.82 362.44h0.7M311.25 365.04h0.7M308.53 358.87h0.7M310.86 349.88h0.7M320.01 362.87h0.7M307.53 352.68h0.7M316.62 346.4h0.7M318.33 353.8h0.7M316.79 370.76h0.7M311.86 358.61h0.7M314.05 367.51h0.7M312.4 363.94h0.7M309.56 364.63h0.7M325.46 356.69h0.7M324.05 359.6h0.7M317.12 357.09h0.7M319.86 357.27h0.7M320.26 360.79h0.7M317.39 367.23h0.7M313.89 363.78h0.7M319.26 354.43h0.7M321.55 352.8h0.7M326.1 356.26h0.7M311.91 360.53h0.7M322.72 360.18h0.7M315.48 352.66h0.7M326.04 352.59h0.7M323.11 363.6h0.7M322.04 350.61h0.7M325.06 360.4h0.7M318.24 351.36h0.7M312.85 358.09h0.7M320.25 354.62h0.7M321.4 353.34h0.7M319.85 359.17h0.7M311.35 355.6h0.7M317.09 361.3h0.7M307.92 359.9h0.7M324.43 363.38h0.7M313.63 360.15h0.7M311.84 359.84h0.7M322.02 358.63h0.7M312.17 357.58h0.7M324.33 351.45h0.7M321.35 359.35h0.7M320.76 355.46h0.7M312.12 356.76h0.7M317.26 365.17h0.7" stroke="#2b35d8" stroke-width="0.7" fill="none" opacity="0.62"/>
<path d="M317.28 353.62h0.7M319.18 359.91h0.7M311.75 356.98h0.7M311.72 365.61h0.7M316.13 355.84h0.7M317.72 357.17h0.7M315.43 365.62h0.7M317.12 362.34h0.7M322 354.12h0.7M322.14 362.66h0.7M321.32 354.55h0.7M319.53 360.7h0.7M313.08 368.89h0.7M319.38 357.33h0.7M316.94 362.69h0.7M320.4 361.75h0.7M319.76 366.16h0.7M313.64 354.86h0.7M314.02 357.92h0.7M321.37 362.32h0.7M314.07 355.94h0.7M321.22 356.24h0.7M316.61 359.53h0.7M310.38 360.64h0.7M317.79 361.13h0.7M314.79 353.66h0.7M315 358.92h0.7M317.35 358.79h0.7M321.85 365.76h0.7M315.53 354.41h0.7M323.28 357.77h0.7M320.17 366.91h0.7M315.72 356.41h0.7M318.42 353.95h0.7M314.41 355.46h0.7M320.55 356.52h0.7M317.04 355.69h0.7M311.16 364.41h0.7M310.14 353.26h0.7M320.55 351.68h0.7M317.96 364.66h0.7M314.17 358.52h0.7M313.03 359.81h0.7M317.31 359.23h0.7M321.3 361.38h0.7M321.06 362.16h0.7M312.98 358.54h0.7M320.38 351.38h0.7M321.61 359.38h0.7M319.4 353.98h0.7M317.17 359.63h0.7M316.08 358.27h0.7M308.78 363.27h0.7M315.81 346.65h0.7M314.92 353.34h0.7M320 354.02h0.7M319.19 353.61h0.7M324.02 362.33h0.7M324.8 354.52h0.7M320.44 353.89h0.7M318.46 361.82h0.7M313.12 351.41h0.7M314.92 349.92h0.7M315.8 352.88h0.7M312.33 357.54h0.7M320.42 352.04h0.7M315.37 357.73h0.7M317.19 354.49h0.7M319.05 362.79h0.7M319.71 357.53h0.7" stroke="#2b35d8" stroke-width="0.7" fill="none" opacity="0.62"/>
<path d="M321.38 362.97h0.7M323.08 359.15h0.7M318.74 362.02h0.7M311.06 359.92h0.7M312.27 364.48h0.7M322.39 357.15h0.7M319.96 357.71h0.7M320.34 364.72h0.7M320.93 349.2h0.7M311.96 355.04h0.7M318.85 355.07h0.7M310.32 364.47h0.7M316.75 356.31h0.7M320.1 358.75h0.7M310.73 358.37h0.7M312.08 362.86h0.7M315.16 364.34h0.7M313.79 366.34h0.7M310.87 360.21h0.7M313.96 358.01h0.7M315.28 357.32h0.7M319.65 347.87h0.7M319.92 351.07h0.7M317.74 357.6h0.7M316.44 351.11h0.7M314.16 365.68h0.7M313.88 356h0.7M314.72 359.74h0.7M316.18 365.89h0.7M310.42 364.25h0.7M314.33 365.56h0.7M313.27 356.81h0.7M322.57 361.99h0.7M312.45 354.2h0.7M312.46 358.46h0.7M320.33 360.44h0.7M316.08 362.92h0.7M320.95 358.03h0.7M313.95 354.59h0.7M320.09 360.48h0.7M313.67 352.49h0.7M317.17 349.99h0.7M319.4 363.3h0.7M310.48 363.38h0.7M316.3 365.62h0.7M310.98 353.37h0.7M321.22 351.62h0.7M315.46 365.68h0.7M318.78 365.37h0.7M319.98 365.2h0.7M314.78 349.83h0.7M322.16 363.58h0.7M312.53 354.97h0.7M319.83 353.76h0.7M318.15 351.92h0.7M315.49 347.55h0.7M322.18 360.02h0.7M313.46 360.42h0.7M316.48 364.45h0.7M314.41 356.1h0.7M317.92 367.16h0.7M319.42 363.61h0.7M323.28 355.94h0.7M323.26 353.14h0.7M318.79 362.29h0.7M319.6 351.44h0.7M321.6 362.34h0.7M312.2 365.41h0.7M320.77 359.14h0.7M322.63 355.14h0.7M312.36 358.07h0.7M316.86 350.71h0.7M311.21 362.44h0.7M319.47 352.75h0.7M313.43 364.2h0.7" stroke="#35c86a" stroke-width="0.7" fill="none" opacity="0.85"/>
<path d="M320 361.92h0.7M311.48 363.52h0.7M319.17 355.88h0.7M317.57 354.92h0.7M316.18 365.69h0.7M318.43 361.36h0.7M318.89 350.16h0.7M317.18 357.67h0.7M321.91 358.88h0.7M313.72 354.53h0.7M317.17 361.47h0.7M314.82 365.5h0.7M317.31 360.52h0.7M321.59 357.6h0.7M313.73 359.22h0.7M315.48 352.67h0.7M317.43 360.38h0.7M312.93 360.36h0.7" stroke="#e8e040" stroke-width="0.7" fill="none" opacity="0.85"/>
<path d="M308.84 368.45h0.7M305.71 368.65h0.7M301.44 370.08h0.7M302.3 367.37h0.7M305.98 364.53h0.7M302.32 371.41h0.7M302.69 370.8h0.7M302.54 371.74h0.7M302.98 360.62h0.7M307.53 370.01h0.7M299.23 370.7h0.7M306.31 364.76h0.7M305.3 372.2h0.7M304.47 366.43h0.7M296.76 365.69h0.7M295.1 372.57h0.7M298.6 365.8h0.7M291.04 371.35h0.7M306.22 366.9h0.7M303.86 361.93h0.7M295.59 370.16h0.7M300.42 375.45h0.7M296.51 365.33h0.7M302.54 371.6h0.7M306.97 367.36h0.7M301.47 370.04h0.7M298.57 371.69h0.7M297.65 366.68h0.7M297.83 367.87h0.7M303.27 374.57h0.7M298.76 375.73h0.7M298.19 365.76h0.7M307.94 363.26h0.7M302.88 360.04h0.7M302.04 364.04h0.7M305.08 362.18h0.7M305.57 372.76h0.7M297.62 372.81h0.7M301.86 367.96h0.7M297.24 375.68h0.7M294.33 368.92h0.7M291.64 368.85h0.7M294.26 373.08h0.7M303.55 370.5h0.7M305.94 369.45h0.7M303.85 370.8h0.7M304.05 366.54h0.7M297.45 372.84h0.7M293.24 367.91h0.7M306.32 368.15h0.7M299.47 361.28h0.7M304.11 364.99h0.7M306.59 363.5h0.7M307.46 371.28h0.7M303.18 364.48h0.7M299.98 376.31h0.7M298.27 364.94h0.7M311.29 370.13h0.7M299.76 372.55h0.7M305.24 369.74h0.7M304.71 371.29h0.7M300.41 374.22h0.7M296.99 373.24h0.7M304.93 363.72h0.7M303.37 365.74h0.7M304.34 363.58h0.7M300.79 360.17h0.7M297.53 370.53h0.7M301.53 369.68h0.7M299.39 376.22h0.7M297.68 368.35h0.7M298.11 367.53h0.7M300.91 366.21h0.7M306.51 367.28h0.7M299.47 361.75h0.7M299.74 362.01h0.7M297.21 373.74h0.7M303.06 362.09h0.7M304.37 365.53h0.7M296.2 366.74h0.7M305.27 361.42h0.7M300.57 365.16h0.7M300.51 368.02h0.7M301.39 366.69h0.7M301.19 372.33h0.7M300.81 369.27h0.7M301.37 376.47h0.7M298.97 364.02h0.7M302.84 360.07h0.7M304.59 361.01h0.7M300.17 369.48h0.7M294.47 372.8h0.7M297.7 379.39h0.7M305.34 360.97h0.7M301.77 367.67h0.7M297 373.52h0.7M298.13 374.99h0.7M306.77 369.39h0.7M299.49 367.68h0.7M309.12 371.39h0.7M297.84 371.94h0.7M299.38 370.63h0.7M300.36 364.92h0.7M306.78 368.12h0.7M301.37 372.11h0.7M304.63 365.18h0.7M299.3 366.51h0.7M306.29 369.77h0.7M305.16 368.43h0.7M297.59 367.76h0.7M308.82 373.17h0.7M302.41 373.59h0.7M297.02 365.46h0.7M296.55 368.98h0.7M300.11 373.79h0.7M298.99 368.55h0.7M308.4 367.09h0.7M301.47 370.6h0.7M296.54 364.85h0.7M299.68 364.49h0.7M299.89 373.87h0.7M300.79 365.7h0.7M299.35 371.39h0.7M300.78 368.27h0.7M300.97 361.66h0.7M305.31 363.72h0.7M309.33 370.74h0.7M301.09 369.91h0.7M299.74 367.66h0.7M296.4 373.53h0.7M297.24 374.89h0.7M306.93 364.53h0.7M306.07 364.23h0.7M302.93 368.34h0.7M306.67 365.78h0.7M298 367h0.7M303.92 370.4h0.7M301.98 363.6h0.7M300.26 365.67h0.7M307.94 364.19h0.7M301.24 362.68h0.7M304.97 365.34h0.7M305.96 370.57h0.7M296.77 369.17h0.7M302.92 365.7h0.7M300.77 368.95h0.7M296.15 366.11h0.7M297.62 367.37h0.7M304.28 369.75h0.7M303.11 368.9h0.7M303.43 364.77h0.7M306.08 364.82h0.7M305.61 368.61h0.7M300.78 360.13h0.7M296.37 376.01h0.7M304.33 372.55h0.7M305.14 362.24h0.7M304.1 362.43h0.7M306.41 362.99h0.7M299.62 365.23h0.7M303.41 366.06h0.7M307.44 364.41h0.7M298.21 365.57h0.7M304.29 362.05h0.7M298.44 373.33h0.7M297.81 364.84h0.7M302.15 361.3h0.7M299.51 362.09h0.7M302.23 372.52h0.7M299.42 370.38h0.7M303.49 361.41h0.7M302.15 373.98h0.7M306.54 365.39h0.7M300.39 369.44h0.7M306.34 363.67h0.7M295.04 370.59h0.7M305.39 368.87h0.7M295.94 376.86h0.7M300.83 372.42h0.7M301.16 365.37h0.7M303.93 368.11h0.7M296.26 369.17h0.7M297.72 367.72h0.7M301.77 361.84h0.7M295.79 374.58h0.7M296.78 368.23h0.7M299.11 364.29h0.7M299.78 368.18h0.7M300.33 371.35h0.7M304.58 369.37h0.7M300.95 371.6h0.7M305.45 369.74h0.7M309.15 367.1h0.7M295.49 366.94h0.7M305.63 366.48h0.7M299.72 370.33h0.7M296.64 360.84h0.7M295.49 369.72h0.7M296.82 371.03h0.7M304.02 368.93h0.7M302.4 371.6h0.7M309.6 366.9h0.7M299.56 372.08h0.7M302.2 360.13h0.7M300.53 373.81h0.7M301.02 364.77h0.7M304.89 370.35h0.7M302.94 369.05h0.7M300.56 371.01h0.7M301.02 371.9h0.7M295.42 364.03h0.7M304.13 360.82h0.7M304.46 369.9h0.7M304.18 367.46h0.7M309.18 367.73h0.7M301.96 370.53h0.7M299.35 371.36h0.7M298.48 375.15h0.7M308.24 365.73h0.7M298.04 367.81h0.7M299.17 372.55h0.7M304.18 372.71h0.7M297.06 374.26h0.7M303.89 362.22h0.7M305.47 365.11h0.7M296.45 368.2h0.7M305.35 368.35h0.7M299.33 363.27h0.7M298.46 365.97h0.7M297.13 367.86h0.7M299.46 367.35h0.7M295.63 369.26h0.7M304.35 368.05h0.7M295.84 365.52h0.7M301.43 374.35h0.7M299.05 367.46h0.7M308.89 370.43h0.7M299.76 365.51h0.7M302.12 373.08h0.7M297.79 369.93h0.7M298.9 366.71h0.7M304.55 373.51h0.7M305.05 370.59h0.7M309.65 370.01h0.7M303.1 372.26h0.7M301.3 366.72h0.7M293.02 371.68h0.7M299.8 369.91h0.7M296.84 374.2h0.7M304.18 373.25h0.7M305.14 360.11h0.7M299.49 370.57h0.7M303.26 364.38h0.7M306.4 367.51h0.7M297.26 360.74h0.7M295.91 371.94h0.7M301.93 374.88h0.7M300.14 363.21h0.7M301.96 361.55h0.7M307.46 364.52h0.7" stroke="#6a86f2" stroke-width="0.7" fill="none" opacity="0.5"/>
<path d="M306.13 372.59h0.7M299.97 364.86h0.7M303.27 369.53h0.7M297.84 373.79h0.7M298.79 366.52h0.7M303.7 370.32h0.7M304.33 371.14h0.7M302.32 367.33h0.7M306.18 371.57h0.7M301.78 372.32h0.7M298.4 366.83h0.7M298.07 367.37h0.7M299.36 373.03h0.7M302.06 365.44h0.7M298.77 364.34h0.7M303.93 370.05h0.7M302.12 370.05h0.7M300.58 370.26h0.7M301.06 373.4h0.7M298.66 375.17h0.7M297.95 369.87h0.7M297.56 370.72h0.7M304.97 369.85h0.7M300.5 370.09h0.7M297.57 367.36h0.7M301.34 370.44h0.7M297.36 373.82h0.7M299.86 373.72h0.7M300.94 366.17h0.7M299.23 374.04h0.7M297.44 372.6h0.7M299.7 369.79h0.7M302.27 371.55h0.7M303.08 367.66h0.7M300.66 370.63h0.7M296.79 367.86h0.7M304.22 371.4h0.7M300.34 372.86h0.7M302.58 370.06h0.7M296.96 367.96h0.7M302.41 364.73h0.7M298.16 369.35h0.7M299.75 372.06h0.7M304.53 365.44h0.7M300.52 370.13h0.7M298.55 369.93h0.7M301.98 365.69h0.7M304.46 368.35h0.7M300.29 365.91h0.7M297.5 368.98h0.7M301.27 365.91h0.7M299.14 367.31h0.7M303.13 374.23h0.7M306.04 368.42h0.7M300.62 371.49h0.7M303.27 366.16h0.7M296.88 368.69h0.7M302.68 369.5h0.7M298.18 367.1h0.7M305.46 366.48h0.7M301.48 369.04h0.7M298.65 371.55h0.7M306.78 365.23h0.7M307.01 367.16h0.7M298.26 366.29h0.7M305.85 369.27h0.7M303.84 363.83h0.7M304.14 369.72h0.7M299.34 370.58h0.7M304.54 368.7h0.7M305.61 365.55h0.7M305.26 370.3h0.7M298.43 369.9h0.7M298.1 365.85h0.7M303.6 368.73h0.7M301.95 366.76h0.7M296.21 371.43h0.7M298.3 369.54h0.7M305.4 369.79h0.7M302.25 365.11h0.7M301.34 370.59h0.7M297.97 372.83h0.7M300.14 368.26h0.7M301.39 374.23h0.7M296.26 367.41h0.7M303.16 364.74h0.7M304.56 374.39h0.7M298.05 373.2h0.7M307.29 368.48h0.7M300.03 369.92h0.7M303.08 371.39h0.7M305.43 367.17h0.7M299.45 367.94h0.7M297.39 368.11h0.7M304.78 368.84h0.7M299.89 374.51h0.7M304.83 371.97h0.7M305.93 366.02h0.7M301.94 363.24h0.7M298.12 370.33h0.7M299.7 365.25h0.7M303.89 372.54h0.7M297.22 371.29h0.7M299.73 366.16h0.7M305.17 368.67h0.7M297.27 371.67h0.7M303.62 374.4h0.7M304.26 372.24h0.7M296.4 371.51h0.7M300.05 364.95h0.7M304.22 361.88h0.7M302.1 364.69h0.7M304.88 369.23h0.7M302.15 364.14h0.7M302.25 363.96h0.7M300.51 364.26h0.7M304.19 363.73h0.7M303.81 365.05h0.7M304.88 371.82h0.7M300.91 373.8h0.7M303 363.47h0.7M301.89 373.63h0.7M300.79 372.36h0.7M304.5 369.29h0.7M297 369.4h0.7M299.66 365.91h0.7M301.76 371.1h0.7M301.64 365.77h0.7M302.85 372.43h0.7M300.84 368.98h0.7M301.85 367.68h0.7M304.65 364.46h0.7M302.75 364.22h0.7M298.07 365.32h0.7M295.56 371.63h0.7M304.03 366.59h0.7M297.42 369.7h0.7M296.34 371.06h0.7M299.45 366.26h0.7M302.99 369.43h0.7M302.15 367.99h0.7M302.41 365.2h0.7M299.13 373.09h0.7M306.71 366.03h0.7M296.49 368.9h0.7M300.28 363.43h0.7M299.94 367.61h0.7M303.37 366.74h0.7M303.71 370.59h0.7M301.12 373.53h0.7M298.32 373.74h0.7M301.44 372.13h0.7M303.97 366.59h0.7M301.49 375.74h0.7M301.76 372.78h0.7M300.32 368.1h0.7M303.26 374.44h0.7M303.69 368.78h0.7M297.23 372.2h0.7M296.82 372.22h0.7M300.38 362.65h0.7M306.13 371.85h0.7M297.31 373.46h0.7M298.75 370.83h0.7M300.17 369.42h0.7M305.08 367.05h0.7M304.79 370.02h0.7M301 373.02h0.7M304.08 370.17h0.7M297.9 369.62h0.7M297.98 371.13h0.7M304.11 366.68h0.7M302.96 366.91h0.7M304.46 367.63h0.7M296.5 368.16h0.7M296.55 368.72h0.7M305.64 370.22h0.7M303.93 371.94h0.7M305.67 373.85h0.7M304.17 370.49h0.7M306.99 364.8h0.7M298.13 367.93h0.7M304.37 364.45h0.7M300.49 364.89h0.7M305.21 368.28h0.7M300.51 368.06h0.7M299.67 370.93h0.7M299.3 369.43h0.7M299.3 367.89h0.7M299.82 373.67h0.7M304.53 368.19h0.7M303.65 366.58h0.7M298.68 371.97h0.7M300.67 368.63h0.7M299.92 370.44h0.7M301.65 368.16h0.7M303.2 370.25h0.7M297.8 372.58h0.7M300.88 367.44h0.7M299.07 366.11h0.7" stroke="#2b35d8" stroke-width="0.7" fill="none" opacity="0.62"/>
<path d="M299.3 370.86h0.7M303.3 366.9h0.7M302.59 367.13h0.7M301.09 370.52h0.7M298.18 371.93h0.7M299.68 370.41h0.7M302.16 367.68h0.7M301.06 373.79h0.7M304.06 370.75h0.7M300.3 372.74h0.7M298.77 365.57h0.7M301.8 368.28h0.7M303.24 370.41h0.7M301.07 368.23h0.7M303.3 369.88h0.7M300.08 371.48h0.7M300.71 370.91h0.7M299.18 370.16h0.7M302.36 367.35h0.7M298.89 368.28h0.7M303.19 368.16h0.7M299.8 368.42h0.7M299.85 369.47h0.7M299.59 368.41h0.7M299.33 367.28h0.7M302.06 371.59h0.7M297.61 371.03h0.7M301.55 367.87h0.7M301.72 368.15h0.7M299.62 369.39h0.7M304.71 366.86h0.7M299.17 368.76h0.7M300.72 369.7h0.7M298.81 372.22h0.7M302.98 369.56h0.7" stroke="#35c86a" stroke-width="0.7" fill="none" opacity="0.85"/>
<path d="M308.93 366.46h0.7M308.93 364.17h0.7M306.85 363.41h0.7M309.18 365.84h0.7M306.72 365.77h0.7M312.72 363.47h0.7M305.67 361.43h0.7M305.68 365.32h0.7M307.05 359.52h0.7M305.36 364.3h0.7M307.96 366.05h0.7M309.68 366.71h0.7M310.43 362.63h0.7M308.33 366.42h0.7M309.95 363.02h0.7M309.68 366.77h0.7M303.51 365.03h0.7M307.97 365.4h0.7M303.43 367.21h0.7M311.12 364.56h0.7M306.05 366.93h0.7M307.33 363.42h0.7M304.23 365.93h0.7M308.45 366.58h0.7M306.69 359.66h0.7M311.21 361.93h0.7M303.79 367.05h0.7M305.51 364.55h0.7M309.51 362.73h0.7M310.95 368.37h0.7M308.66 365.51h0.7M308.45 368.98h0.7M309.28 364.19h0.7M303.89 363.66h0.7M307.6 365.77h0.7M305.02 363.13h0.7M311.68 369.9h0.7M310.64 363.36h0.7M303.34 363.93h0.7M305.46 360.85h0.7M310.1 368.21h0.7M302.35 363.5h0.7M307.87 362.54h0.7M305.55 368.54h0.7M307.99 366.08h0.7M303.52 363.73h0.7M309.69 363.06h0.7M306.77 366.17h0.7M310.43 363.4h0.7M307.18 361.1h0.7M312.25 362.56h0.7M307.56 365.75h0.7M305.31 362.52h0.7M304.25 362.29h0.7M306.84 363.5h0.7M309.67 363.71h0.7M308.74 366.85h0.7M305.53 365.21h0.7M304.44 368.46h0.7M307.89 364.35h0.7M307.15 359.11h0.7M309.18 367.84h0.7M308.58 365.61h0.7M307.5 364.99h0.7M309.83 368.18h0.7M309.33 364.92h0.7M309.1 362.2h0.7M307.68 360.07h0.7M306.07 368.67h0.7M306.79 363.32h0.7M304.24 363.56h0.7M307.96 365.2h0.7M310.96 366.15h0.7M310.18 365.68h0.7M305.22 364.79h0.7M310.31 368.73h0.7M309.56 365.42h0.7M309.59 363.01h0.7M310.42 363.33h0.7M308.91 366.41h0.7M306.73 366.47h0.7M306.26 368.36h0.7M303.84 360.24h0.7M308.97 365.56h0.7M303.61 365.83h0.7M310.31 360.96h0.7M309.51 361.94h0.7M311.16 363.48h0.7M308.58 365.35h0.7M304.45 366.4h0.7M312.98 364.94h0.7M309.87 366.56h0.7M305.47 366.3h0.7M307.05 363.95h0.7M307.39 363.2h0.7M305.78 368.33h0.7M309 365.93h0.7M309.47 365.34h0.7M308.53 365.48h0.7M306.25 363.68h0.7M306.81 364.28h0.7M305.21 363.24h0.7M302.65 364.87h0.7M311.76 365.95h0.7M305.13 367.34h0.7M304.07 365.92h0.7M306.67 362.25h0.7M309.73 363.75h0.7M309.32 360.5h0.7M310.35 363.75h0.7" stroke="#6a86f2" stroke-width="0.7" fill="none" opacity="0.5"/>
<path d="M309.2 365.25h0.7M306.63 368.83h0.7M309.66 366.19h0.7M304.52 361.97h0.7M305.63 364.69h0.7M308.97 364.81h0.7M308.29 365.81h0.7M307.22 361.69h0.7M308.03 364.85h0.7M310.06 364.54h0.7M304.64 364.68h0.7M309.48 368.11h0.7M308.67 362.35h0.7M309.52 366.84h0.7M308.77 366.65h0.7M308.06 366h0.7M307.62 368.16h0.7M308.74 364.12h0.7M306.43 367.66h0.7M308.46 363.71h0.7M307.67 367.86h0.7M308.43 364.72h0.7M306.37 362.82h0.7M308.55 362.27h0.7M310.97 366.38h0.7M306.15 365.92h0.7M307.05 365.46h0.7M311.11 370.26h0.7M309.26 368.88h0.7M309.52 368.73h0.7M309.94 364.87h0.7M304.62 363.26h0.7M307.12 369.44h0.7M304 364.42h0.7M310.97 366.41h0.7M308.23 368.38h0.7M304.52 362.81h0.7M306.76 362.39h0.7M309.05 363.6h0.7M309.22 364.58h0.7M310.01 364.44h0.7M310.19 362.36h0.7M303.43 366.87h0.7M307.44 364.11h0.7M307.01 369.23h0.7M308.9 361.54h0.7M308.32 367.97h0.7M309.87 363.66h0.7M308.89 365.44h0.7M308.02 362.46h0.7M305.95 364.45h0.7M307.8 362.3h0.7M304.08 363.77h0.7M307.97 364.48h0.7M306.1 361.34h0.7M305.69 361.93h0.7M308.45 365.17h0.7M310.44 368.37h0.7M309.04 364.96h0.7M305.11 363.57h0.7" stroke="#2b35d8" stroke-width="0.7" fill="none" opacity="0.6"/>
<path d="M309.4 335.5L339.8 335.5L340 378.7L307.4 379.5Z" fill="none" stroke="#444" stroke-width="0.65" stroke-linejoin="round"/>
<rect x="622.4" y="47.7" width="59" height="59.6" stroke="#444" stroke-width="0.6" fill="none"/>
<path d="M620.7 49.6L622.4 49.6M620.7 60.5L622.4 60.5M620.7 71.3L622.4 71.3M620.7 82.9L622.4 82.9M620.7 93.6L622.4 93.6M620.7 104.4L622.4 104.4" stroke="#444" stroke-width="0.55" fill="none"/>
<path d="M624.7 107.3L624.7 109M632.85 107.3L632.85 109M641 107.3L641 109M649.15 107.3L649.15 109M657.3 107.3L657.3 109M665.45 107.3L665.45 109M673.6 107.3L673.6 109" stroke="#444" stroke-width="0.55" fill="none"/>
<path d="M622.4 107.85L681.4 107.85" stroke="#444" stroke-width="0.9" stroke-dasharray="0.4 0.85" opacity="0.65"/>
<path d="M621.85 47.7L621.85 107.3" stroke="#444" stroke-width="0.9" stroke-dasharray="0.4 1.3" opacity="0.5"/>
<path d="M646.58 94.32h0.6M643.95 100.2h0.6M643.59 96.03h0.6M644.4 98.63h0.6M647.44 93.4h0.6M650.26 84.11h0.6M650.75 89.81h0.6M641.61 102.77h0.6M643.98 98.06h0.6M644.08 98.6h0.6M647.18 93.39h0.6M648.55 95.46h0.6M644.77 93.18h0.6M649.29 91.08h0.6M645.39 99.64h0.6M650.53 94.36h0.6M650.73 88.69h0.6M645.13 95.8h0.6M646.7 95.7h0.6M647.24 92.84h0.6M644.64 96.67h0.6M645.34 98.9h0.6M644.73 101.67h0.6M644.54 91.98h0.6M647.2 92.65h0.6M645.8 99.74h0.6M645.55 96.1h0.6M648.6 95.03h0.6M643.47 99.43h0.6M643.45 102.3h0.6M644.82 99.24h0.6M647.31 91.06h0.6M651.97 83.85h0.6M644.37 100.25h0.6M646.59 94.72h0.6M647.65 96.26h0.6M642.44 106.1h0.6M644.91 100.34h0.6M646.13 97.12h0.6M646.22 96.15h0.6M651.19 89.29h0.6M644.11 98.36h0.6M644.99 94.55h0.6M643.98 97.08h0.6M643.95 102.72h0.6M648.33 92.83h0.6M645.06 98.35h0.6M652.86 87.18h0.6M650.64 87.82h0.6M646.01 98.14h0.6M644.7 99.93h0.6M647.99 93.06h0.6M643.78 101.22h0.6M645.75 95.68h0.6M641.61 99.88h0.6M646.92 91.98h0.6M647.27 91.5h0.6M642.74 101.1h0.6M643.91 102.53h0.6M650.15 92.78h0.6M643.29 102.63h0.6M652.49 91.08h0.6M642.86 96.66h0.6M647.73 91h0.6M648.31 92.43h0.6M642.75 93.86h0.6M644.72 98.54h0.6M646.93 97.13h0.6M647.14 92.51h0.6M644.59 92.47h0.6M645.95 99.24h0.6M649.29 96.46h0.6M641.54 97.96h0.6M650.11 91.22h0.6M643.31 95.1h0.6M649.54 91.18h0.6M647.24 91.93h0.6M647.24 88.92h0.6M647.03 94.06h0.6M650.89 83.57h0.6M650.64 92.71h0.6M648.35 90.46h0.6M649.93 89.2h0.6M646.55 94.83h0.6M649.79 91.41h0.6M645.58 94.06h0.6M652.34 90.6h0.6M647.89 92.89h0.6M644.97 98.69h0.6M645.6 96.83h0.6M647.72 93.17h0.6M649.41 88.07h0.6M647.21 91.9h0.6M643.96 98.63h0.6M645.48 97.92h0.6M652.96 85.82h0.6M646.67 95.76h0.6M648.8 89.69h0.6M644.2 101.02h0.6M647.67 95.92h0.6M644.84 100.08h0.6M645.87 102.3h0.6M645.99 96.06h0.6M645.73 96.66h0.6M643.54 98.58h0.6M646.8 91.47h0.6M647.8 93.25h0.6M650.32 86.16h0.6M647.16 96.08h0.6M644.77 97.47h0.6M647.88 92.58h0.6M649.91 95h0.6M643.28 104.33h0.6M644.89 95.47h0.6M642.45 99.56h0.6M647.99 90.41h0.6M645.83 100.54h0.6M642.05 100.09h0.6M649.73 94.32h0.6M647.58 91.44h0.6M646.08 95.82h0.6M646.87 96.43h0.6M645.7 90.84h0.6M645.44 101.66h0.6M646.07 94.79h0.6M645.71 95.48h0.6M641.56 98.23h0.6M644.72 95.67h0.6M641.82 94.68h0.6M652.97 86.6h0.6M647.13 98.71h0.6M648.51 87.95h0.6M647.09 97.51h0.6M647.47 94.74h0.6M642.89 98.76h0.6M642.59 98.78h0.6M645.67 90.17h0.6M640.95 100.23h0.6M646.04 89.17h0.6M646.44 97h0.6M645.02 105.27h0.6M645.34 99.01h0.6M645.35 90.25h0.6M645.93 94.47h0.6M646.11 90.36h0.6M642.37 99.58h0.6M647.37 94.34h0.6M644.94 96.59h0.6M645.58 93.82h0.6M641.99 97.2h0.6M646.57 97.81h0.6M645.87 97.47h0.6M648.5 97.91h0.6M646.45 89.87h0.6M644.62 100.75h0.6M645.22 99.79h0.6M649.63 89.03h0.6M649.06 86.94h0.6M648.52 89.16h0.6M646.53 94.8h0.6M641.52 97.3h0.6M650.25 89.87h0.6M644.59 98.77h0.6M643.64 99.06h0.6M643.85 100.38h0.6M646.65 94.87h0.6M644.97 99.33h0.6M647.39 93.64h0.6M645.71 93.21h0.6M644.71 95.94h0.6M646.45 95.19h0.6M645.62 96.2h0.6M645.56 101.96h0.6M644.21 96.88h0.6M645.75 94.75h0.6M647.08 92.46h0.6M649.62 83.43h0.6M643.62 100.85h0.6M643.54 97h0.6M644.81 96.37h0.6M645.36 93.78h0.6M651.27 84.7h0.6M646.64 94.95h0.6M640.91 96.45h0.6M645.5 96.28h0.6M647.49 93.8h0.6M645.46 92.6h0.6M640.33 105h0.6M649.83 94.57h0.6M644.68 96.51h0.6M648.43 92.69h0.6M640.14 103.29h0.6M651.12 89.19h0.6M645.32 90.34h0.6M645.09 97.98h0.6M649.22 87.85h0.6M644.97 98.22h0.6M647.16 93.12h0.6M647 95.52h0.6M644.16 94.93h0.6M641.91 98.71h0.6M649 91.21h0.6M643.47 101.13h0.6M643.19 93.1h0.6M652.01 89.58h0.6M649.05 88.79h0.6M651.45 84.45h0.6M644.87 91.69h0.6M645.36 97.15h0.6M644.01 100.85h0.6M645.36 99.2h0.6M644.94 93.89h0.6M645.55 99.31h0.6M648.42 94.25h0.6M649.8 95.11h0.6M640.87 105.15h0.6M642.1 95.41h0.6" stroke="#6a86f2" stroke-width="0.6" fill="none" opacity="0.5"/>
<path d="M645.12 93.59h0.6M646.32 95.46h0.6M647.3 94.22h0.6M647.72 92.68h0.6M647.77 91.86h0.6M648.71 92.72h0.6M647.25 95.67h0.6M643.5 100.45h0.6M649.15 90.42h0.6M651.28 87.27h0.6M646.78 95.49h0.6M644.21 96.19h0.6M642.08 103.22h0.6M642.05 102.94h0.6M648.32 95.38h0.6M642.7 100.66h0.6M645.4 97.14h0.6M647.62 92.49h0.6M647.07 93.26h0.6M644.7 94.87h0.6M644.95 103.07h0.6M645.52 97.1h0.6M644.04 101.53h0.6M646.98 95.25h0.6M643.46 100.28h0.6M649.66 95.99h0.6M642.25 98.3h0.6M645.5 97.11h0.6M647.02 97.58h0.6M647.78 89.35h0.6M647.76 92.76h0.6M648.32 92.55h0.6M647.97 91.54h0.6M646.2 94.98h0.6M644.14 101.54h0.6M647.11 93.68h0.6M647.28 98.98h0.6M645.42 99.08h0.6M645.63 100.89h0.6M645.22 99.65h0.6M645.95 94.17h0.6M645.54 96.95h0.6M645.31 97.75h0.6M646.58 95.27h0.6M642.65 98.64h0.6M647.96 94.05h0.6M645.67 98.3h0.6M649.06 90.53h0.6M645.56 94.01h0.6M649.02 94.68h0.6M647.36 92.76h0.6M644.7 97.59h0.6M648.49 85.98h0.6M646.46 97.18h0.6M643.5 99.64h0.6M650.46 90.14h0.6M643.73 100.35h0.6M645.64 95.27h0.6M647.3 96.31h0.6M645.72 93.73h0.6M643.45 97.85h0.6M642.25 99.15h0.6M643.98 95.95h0.6M644.8 94.83h0.6M644.97 101.05h0.6M647.36 97.11h0.6M645.53 97.54h0.6M647.16 95.68h0.6M646.43 98.4h0.6M646.22 98.94h0.6M647.8 94.59h0.6M647.6 92.1h0.6M645.8 95.94h0.6M648.88 92.89h0.6M649.49 98.05h0.6M645.37 100.9h0.6M643.58 94.44h0.6M651.58 89.29h0.6M648.22 94.01h0.6M644.93 97.2h0.6M643.49 96.34h0.6M646.42 93.8h0.6M645.23 98.75h0.6M647.01 94.22h0.6M643.48 101.97h0.6M644.48 99.81h0.6M641.23 105.1h0.6M643.05 97.77h0.6M645.94 97.88h0.6M646.59 92.22h0.6M645.4 96.89h0.6M646.36 92.41h0.6M644.64 100.47h0.6M646.43 94h0.6M640.77 104.66h0.6M646.46 96.71h0.6M642.94 104.99h0.6M649.54 92.46h0.6M646.43 95.24h0.6M647.56 92.35h0.6M647.28 92.77h0.6M646.11 96.99h0.6M647.26 90.09h0.6M644.19 98.59h0.6M646.47 96.69h0.6M643.14 93.16h0.6M645.61 95.1h0.6M645.27 94.51h0.6M640.42 105.49h0.6M646.91 96.37h0.6M645.98 96.21h0.6M646.73 95.37h0.6M644.03 100.12h0.6M646.18 98.15h0.6M646.87 98.13h0.6M647.8 90.17h0.6M645.19 96.05h0.6M644.39 100.52h0.6M646.6 93.59h0.6M644.62 101.06h0.6M644.73 97.53h0.6M646.75 98.48h0.6M649.36 89.55h0.6M646.13 99.55h0.6M646.77 95.13h0.6M644.66 95.62h0.6M643.81 100.31h0.6M642.03 100.87h0.6M643.81 100.69h0.6M644.19 97.29h0.6M646.94 97.7h0.6M644.82 94.72h0.6M648.82 92.19h0.6M643.87 96.65h0.6M643.63 98.43h0.6M647.74 89.77h0.6M642.41 101.28h0.6M644.91 96.15h0.6M647.73 93.56h0.6M646.69 97.84h0.6M649.21 91.18h0.6M648.71 86.34h0.6M646.02 95.77h0.6M644.03 102.08h0.6M646.02 95.6h0.6M643.67 102.08h0.6M643.86 98.32h0.6M646.14 95.38h0.6M648.06 94.42h0.6M643.53 98.33h0.6M646.25 95.75h0.6M644.82 98.27h0.6M644.11 99.05h0.6M643.71 101.91h0.6M645.7 100.25h0.6M645.4 96.95h0.6M640.27 106h0.6M644.63 98.42h0.6M649.63 92.79h0.6" stroke="#2b35d8" stroke-width="0.6" fill="none" opacity="0.75"/>
<g transform="translate(645.4 98.3) rotate(27)" filter="url(#bl)"><path d="M0 -9.6C0.88 -5.76 2.5 -1.44 2.5 0.36C2.5 2.52 1.38 3.6 0 3.6C-1.38 3.6 -2.5 2.52 -2.5 0.36C-2.5 -1.44 -0.88 -5.76 0 -9.6Z" fill="#3346e6" opacity="0.9" transform="translate(0 0) scale(1.0)"/><path d="M0 -9.6C0.88 -5.76 2.5 -1.44 2.5 0.36C2.5 2.52 1.38 3.6 0 3.6C-1.38 3.6 -2.5 2.52 -2.5 0.36C-2.5 -1.44 -0.88 -5.76 0 -9.6Z" fill="#38b8e8" opacity="0.95" transform="translate(0 0.07) scale(0.82)"/><path d="M0 -9.6C0.88 -5.76 2.5 -1.44 2.5 0.36C2.5 2.52 1.38 3.6 0 3.6C-1.38 3.6 -2.5 2.52 -2.5 0.36C-2.5 -1.44 -0.88 -5.76 0 -9.6Z" fill="#35c86a" opacity="1" transform="translate(0 0.18) scale(0.64)"/><path d="M0 -9.6C0.88 -5.76 2.5 -1.44 2.5 0.36C2.5 2.52 1.38 3.6 0 3.6C-1.38 3.6 -2.5 2.52 -2.5 0.36C-2.5 -1.44 -0.88 -5.76 0 -9.6Z" fill="#e8e040" opacity="1" transform="translate(0 0.29) scale(0.38)"/><path d="M0 -9.6C0.88 -5.76 2.5 -1.44 2.5 0.36C2.5 2.52 1.38 3.6 0 3.6C-1.38 3.6 -2.5 2.52 -2.5 0.36C-2.5 -1.44 -0.88 -5.76 0 -9.6Z" fill="#f04a20" opacity="0.9" transform="translate(0 0.36) scale(0.16)"/></g>
<path d="M654.6 84.3L679.3 83.4L679.5 103.6L649 103.8Z" fill="none" stroke="#444" stroke-width="0.7" stroke-linejoin="round"/>
<rect x="622.4" y="127.7" width="59" height="59" stroke="#444" stroke-width="0.6" fill="none"/>
<path d="M620.7 129.6L622.4 129.6M620.7 140.5L622.4 140.5M620.7 151.3L622.4 151.3M620.7 162.9L622.4 162.9M620.7 173.6L622.4 173.6M620.7 184.4L622.4 184.4" stroke="#444" stroke-width="0.55" fill="none"/>
<path d="M624.7 186.7L624.7 188.4M632.85 186.7L632.85 188.4M641 186.7L641 188.4M649.15 186.7L649.15 188.4M657.3 186.7L657.3 188.4M665.45 186.7L665.45 188.4M673.6 186.7L673.6 188.4" stroke="#444" stroke-width="0.55" fill="none"/>
<path d="M622.4 187.25L681.4 187.25" stroke="#444" stroke-width="0.9" stroke-dasharray="0.4 0.85" opacity="0.65"/>
<path d="M621.85 127.7L621.85 186.7" stroke="#444" stroke-width="0.9" stroke-dasharray="0.4 1.3" opacity="0.5"/>
<path d="M651.52 175.08h0.6M649.89 172.88h0.6M654.57 179.37h0.6M661.16 173.97h0.6M655.78 170.24h0.6M661.27 175.11h0.6M650.41 177.16h0.6M655.26 173.79h0.6M650.36 174.54h0.6M651.44 177.67h0.6M659.21 175.32h0.6M655.41 174.09h0.6M667.78 166.65h0.6M664.24 174.16h0.6M656.85 173.42h0.6M654.65 171.95h0.6M648.37 176.73h0.6M647.42 179.81h0.6M661.09 163.61h0.6M647.65 178.06h0.6M658.16 174.96h0.6M659.87 176.43h0.6M663.27 178.7h0.6M657.58 177.35h0.6M646.96 177.03h0.6M650.46 180.71h0.6M671.25 172.99h0.6M648.92 176.6h0.6M657.14 175.48h0.6M664.05 176.02h0.6M641.85 182.79h0.6M653.45 174.14h0.6M665.17 172.09h0.6M647.66 173.29h0.6M657.82 177.44h0.6M665.75 172.24h0.6M655.16 180.24h0.6M655.11 179.76h0.6M658.42 175.29h0.6M655.64 176.16h0.6M653.57 173.76h0.6M655.58 173.34h0.6M658.74 174.75h0.6M655.13 174.8h0.6M656.69 180.21h0.6M656.37 173.31h0.6M655.53 177.28h0.6M655.53 174.85h0.6M655.42 175.82h0.6M659.5 175.63h0.6M646.26 174.42h0.6M641.6 181.16h0.6M664.42 176.96h0.6M658.51 177.98h0.6M656.53 174.68h0.6M647.03 175.08h0.6M653.92 178.44h0.6M666.48 171.16h0.6M659.27 175.19h0.6M650.98 171.29h0.6M651.3 172.06h0.6M654.84 175.04h0.6M655.63 174.77h0.6M659.08 171.62h0.6M660.99 168.94h0.6M657.47 175.96h0.6M650.95 171.67h0.6M660.18 172.12h0.6M662.05 175.95h0.6M656.78 174.97h0.6M663.01 174.54h0.6M651.33 176.83h0.6M660.28 174.7h0.6M657.85 174.27h0.6M655.45 172.52h0.6M649.02 180.26h0.6M653.15 176.54h0.6M647.93 177.65h0.6M653.93 184.52h0.6M650.04 173.78h0.6M663.26 176.74h0.6M644.38 178.82h0.6M661.22 170.23h0.6M660.54 172.47h0.6M650.59 175.47h0.6M653.08 171.76h0.6M669.88 170.35h0.6M652.94 178.46h0.6M657.3 178.8h0.6M655.45 176.34h0.6M657.48 175.29h0.6M655.49 174.98h0.6M666.35 170.56h0.6M653.3 174.82h0.6M660.49 175.23h0.6M661.46 169.83h0.6M658.23 174.08h0.6M655.21 175.85h0.6M645.24 178.65h0.6M656.67 170.76h0.6M657.32 179.43h0.6M654.9 177.19h0.6M654.9 173.03h0.6M651.04 175.22h0.6M665.13 175.31h0.6M653.29 178.8h0.6M655.56 173.23h0.6M658.74 171.78h0.6M648.35 180.9h0.6M646.3 179.19h0.6M647.71 177.15h0.6M655.33 174.03h0.6M643.72 177.91h0.6M655.97 172.52h0.6M657.1 177.83h0.6M652.72 176.75h0.6M650.24 177.73h0.6M662.34 180.91h0.6M662.51 174.83h0.6M664.51 170.12h0.6M662.82 171.87h0.6M653.91 178.93h0.6M659.14 178.3h0.6M648.43 177.87h0.6M653.54 175h0.6M646.18 180.39h0.6M657.42 171.93h0.6M648.27 174.55h0.6M665.07 172.63h0.6M655.23 176.83h0.6M657.1 175.6h0.6M661.51 174.8h0.6M661.26 170.38h0.6M657.02 173.91h0.6M657.5 174.71h0.6M652.91 174.96h0.6M662.13 172.06h0.6M649.98 178.46h0.6M662.49 172.81h0.6M657.12 172.49h0.6M656.51 178.34h0.6M661.79 174.22h0.6M654.22 170.9h0.6M659.14 175.79h0.6M664.58 179h0.6M659.86 177.08h0.6M651.23 179.96h0.6M663.04 177.48h0.6M661.28 175.26h0.6M665.25 171h0.6M661.54 177.04h0.6M651.6 172.99h0.6M659.66 174.71h0.6M661.05 175.89h0.6M652.77 177.06h0.6M663.43 172.38h0.6M654.61 172.33h0.6M663.19 179.18h0.6M649.56 179.11h0.6M661.99 172.16h0.6M654.18 172.69h0.6M652.6 176.62h0.6M661 174.39h0.6M662.25 174.33h0.6M651.24 180.71h0.6M663.57 171.34h0.6M667.83 173.72h0.6M659.21 180.09h0.6M641.38 174.27h0.6M661.13 173.31h0.6M652.62 180.55h0.6M659.13 170.82h0.6M653.86 178.32h0.6M666.26 166.93h0.6M658.37 173.62h0.6M646.81 177.13h0.6M647.41 175.91h0.6M667.02 174.08h0.6M662.18 175.54h0.6M659.94 177.19h0.6M650.12 175.76h0.6M661.71 171.8h0.6M655.47 179h0.6M665.81 171.14h0.6M652.84 177.84h0.6M658.37 172.8h0.6M661.12 175.7h0.6M659.74 183h0.6M665.79 175.3h0.6M665.3 181.69h0.6M663.22 171.47h0.6M659.2 174.78h0.6M654.11 176.6h0.6M658.71 174.53h0.6M654.98 178.04h0.6M648.46 179.66h0.6M657.52 175.8h0.6M644.47 183.16h0.6M646.51 175.21h0.6M660.65 172.44h0.6M653.35 169.51h0.6M654.86 176.28h0.6M661.08 173.27h0.6M658.88 175.94h0.6M652.81 173.98h0.6M668.25 169.84h0.6M664.6 173.44h0.6M665.53 171.14h0.6M660.57 175.21h0.6M656.18 176.25h0.6M652.72 175.97h0.6M655.47 177.74h0.6M655.81 171.35h0.6M655.04 175.33h0.6M652.89 180.06h0.6M660.27 176.79h0.6M652.52 175.08h0.6M662.26 169.63h0.6M659.53 174.77h0.6M654.42 176.04h0.6M651.11 177.26h0.6M649.25 173.33h0.6M665.08 171.06h0.6M645.5 180.86h0.6M650.32 166.47h0.6M657.6 177.71h0.6M660.57 179.29h0.6M656.98 176.9h0.6M651.47 177h0.6M666.71 174.2h0.6M656.91 169.35h0.6M654.19 172.05h0.6M661.4 171.87h0.6M658.76 171.76h0.6M667.66 169.03h0.6M659.94 182.14h0.6M657.98 172.33h0.6M661.64 176.9h0.6M661.11 168.32h0.6M657.13 168.85h0.6M668.61 172.46h0.6M655.05 177.61h0.6M659.39 171.06h0.6M666.79 171.99h0.6M647.86 181.55h0.6M667.29 176.28h0.6M659.96 171.77h0.6M664.18 178.84h0.6M663.28 178.31h0.6M653.43 179.05h0.6M661.87 169.53h0.6M647.16 175.48h0.6M658.14 176.21h0.6M655.95 175.22h0.6M656.73 175.48h0.6M661.17 175.58h0.6M657.2 175.87h0.6M655.21 177.96h0.6M655.49 180.4h0.6M657.4 175.87h0.6M652.58 175.24h0.6M658.35 174.88h0.6M652.84 172.75h0.6M657.7 175.44h0.6M661.5 177.73h0.6M654.1 169.96h0.6M655.22 170.13h0.6M650.4 179.86h0.6M660.3 172.43h0.6M653.5 175.77h0.6M647.21 179.03h0.6M656.56 180.74h0.6M651.73 179.46h0.6M654 178.94h0.6M652.03 178.59h0.6M654.16 173.42h0.6M656.81 176.63h0.6M660.9 178.89h0.6M660.45 166.47h0.6M653.59 170.09h0.6M655.51 177.39h0.6M648.54 173.76h0.6M658.04 174.05h0.6M667.09 173.61h0.6M661.79 179.18h0.6M654.38 175.82h0.6M651.62 177.28h0.6M664.54 177.37h0.6M656.67 173.14h0.6M651.82 172.31h0.6M659.07 178.71h0.6M641.65 172.52h0.6M664.68 168.46h0.6M658.5 171.05h0.6M662.65 176.11h0.6M659 177.15h0.6M658.11 176.59h0.6M669.14 175.44h0.6M652.91 173.81h0.6M655.84 174.8h0.6M657.44 173.28h0.6M661.38 174.22h0.6M659.62 174.57h0.6M660.3 170.8h0.6M667.19 173.7h0.6M660.59 176.14h0.6M664.48 175.54h0.6M658.77 174.23h0.6M647.74 178.16h0.6M655.39 174.68h0.6M670.64 166.26h0.6M658.68 178.42h0.6M664.15 177.14h0.6M649.21 174.3h0.6M661.02 173.34h0.6M667.97 173.18h0.6M659.01 176.05h0.6M655.98 175.85h0.6M653.45 176.01h0.6M654.82 176.55h0.6M647.98 173.04h0.6M660.48 175.06h0.6M651.6 175.92h0.6M652.69 182.42h0.6M649.37 182.27h0.6M652.92 177.53h0.6M655.73 174.44h0.6M663.78 176.01h0.6M655.2 172.99h0.6M671.04 175.96h0.6M658.23 174.07h0.6M659.41 174.91h0.6M664.11 170.61h0.6M657.17 172.88h0.6M666.72 178.23h0.6M657.43 176.77h0.6M665.85 172.17h0.6M652.72 179.44h0.6M660.5 173.78h0.6M666.56 173.59h0.6M647.14 178.76h0.6M658.57 180.5h0.6M657.37 174.56h0.6M660.41 175.15h0.6M649.23 177.57h0.6M656.63 179.56h0.6M671.27 168.38h0.6M651.22 174.2h0.6M653.18 174.16h0.6M658.71 178.1h0.6M648.71 172.74h0.6M647.31 181h0.6M664.53 168.81h0.6M647.9 177.94h0.6M664.91 176.34h0.6M659.27 176.75h0.6M659.21 173.07h0.6M669.11 172.26h0.6M650.61 175.48h0.6M648.37 177.48h0.6M663.34 169.92h0.6M665.89 179.32h0.6M659.1 171.3h0.6M652.27 175.46h0.6M649.04 173.53h0.6M655.95 175.01h0.6M660.44 170.84h0.6M669.65 175.3h0.6M662.54 171.96h0.6M667.87 171.55h0.6M669.32 175.42h0.6M651.92 175.19h0.6M669.6 175.14h0.6M656.85 175.93h0.6M658.29 172.65h0.6M655.97 173.57h0.6M655.39 177.08h0.6M652.39 178.61h0.6M658.84 177.11h0.6M663.87 177.3h0.6M661.92 176.17h0.6M656.96 177h0.6M652.04 175.78h0.6M662.12 173.85h0.6M659.58 171.48h0.6M665.48 171.44h0.6M660.01 174.47h0.6M662.99 172.64h0.6M650.28 171.28h0.6M654.95 172.22h0.6M661.88 178.39h0.6M643.31 174.83h0.6M660.37 178.14h0.6M659.71 175.58h0.6M661.09 175.99h0.6M667.98 174.38h0.6M649.82 175.66h0.6M658.33 172.52h0.6M655.69 174.03h0.6M653.89 178.14h0.6M654.51 172.62h0.6M653.34 176.31h0.6M670.58 172.67h0.6M666.95 174.29h0.6M644.91 179.43h0.6M651.53 172.58h0.6M652.38 181.81h0.6M647.65 175.75h0.6M665.11 175.26h0.6M647.2 177.39h0.6M654.37 175.35h0.6M661.77 172.36h0.6M656.72 179.74h0.6M646.2 176.85h0.6M659.59 170.88h0.6M652.87 172.35h0.6M658.12 173.12h0.6M663.11 176.83h0.6M657.63 173.97h0.6M659.23 174.89h0.6M650.99 180h0.6M659.54 177.01h0.6M649.98 179.66h0.6M670.81 173.68h0.6M648.84 177.41h0.6M657.4 175.83h0.6M656.54 176.88h0.6M654.94 176.47h0.6M653.49 176.44h0.6M663.29 172.22h0.6M661.01 171.59h0.6M655.17 175.01h0.6M664.61 171.05h0.6M663.94 169.11h0.6M657.27 177.94h0.6M661.09 171.19h0.6M650.78 179.46h0.6M650.33 178.67h0.6M654.4 175.87h0.6M672.74 176.01h0.6M661.7 169.93h0.6M659.55 174.78h0.6M657.91 179.06h0.6M647.34 178.62h0.6M657.8 172.78h0.6M667.16 168.89h0.6M657.78 175.29h0.6M643.21 174.36h0.6M652.21 178.82h0.6M663.73 175.36h0.6M657.45 168.48h0.6M658.5 173.32h0.6M665.63 177.16h0.6M671.67 173.73h0.6M661.77 170.93h0.6M657.14 171.47h0.6M662.15 170.34h0.6M655.64 173.09h0.6M655 177.12h0.6M654.24 176.59h0.6M652.4 180.61h0.6M654.31 178.97h0.6M668.82 164.9h0.6M651.32 176.02h0.6M664.3 171.94h0.6M659.3 172.44h0.6M660.08 170.78h0.6M660.48 165.28h0.6M647.25 183.18h0.6M657.91 172.27h0.6M671.71 174.74h0.6M664.09 172.17h0.6M661.65 175.6h0.6M647.77 179.32h0.6M657.27 179.06h0.6M665.02 171.26h0.6M653.92 176.57h0.6M661.2 172.91h0.6M657.21 177.02h0.6M660.9 177.78h0.6M658.3 172.18h0.6M647.22 180.12h0.6M655.17 174.6h0.6M654.56 171.02h0.6M653.2 168.21h0.6M654.34 173.13h0.6M669.08 173.56h0.6M656.26 175.88h0.6M661.4 171.79h0.6M655.78 174.42h0.6M672.81 171.48h0.6M645.9 180.41h0.6M672.7 168.35h0.6M678.86 169.56h0.6M663.21 171.92h0.6M654.89 171.94h0.6M649.37 170.52h0.6M663.68 170h0.6M659.96 175.47h0.6M653.45 176.22h0.6M656.48 173.8h0.6M657.77 175.15h0.6M650.17 172.9h0.6M652.25 176.74h0.6M667.04 177.2h0.6M660.04 177.34h0.6M658.97 178.09h0.6M658.48 176.02h0.6M655.64 175.5h0.6M668.31 168.66h0.6M656.99 173.36h0.6M664.67 178.86h0.6M653.45 167.5h0.6M661.66 175.91h0.6M646.74 176.98h0.6M655.29 168.45h0.6M661.9 175.31h0.6M658.1 171.62h0.6M652.48 174.33h0.6M659.64 171.46h0.6M666.76 173.9h0.6M645.01 183.36h0.6M657.95 173.22h0.6M656.66 169.58h0.6M656.75 167.6h0.6M651.95 180.61h0.6M664.97 172.1h0.6M651.98 179.29h0.6M657.17 175.76h0.6M660.46 170.94h0.6M660.74 167.64h0.6M665.32 168.19h0.6M652.9 174.08h0.6M662.41 176.11h0.6M659.95 176.09h0.6M660.18 174.11h0.6M643.64 171.28h0.6M642.84 178.51h0.6M655.75 175h0.6M658.51 174.01h0.6M649.91 172.21h0.6M646.25 181.58h0.6M661.96 169.66h0.6M655.86 176.77h0.6M666.81 170.79h0.6M659.19 178.17h0.6M645.8 175.61h0.6M656.46 172.99h0.6M671.14 174.28h0.6M657.76 171.91h0.6M663.13 175.54h0.6M653.66 174.57h0.6M647.97 177.11h0.6M663.39 176.63h0.6M661.46 176.55h0.6M653.16 174.58h0.6M665.1 174.48h0.6M652.57 177.76h0.6M662.93 175.82h0.6M657.49 173.35h0.6" stroke="#6a86f2" stroke-width="0.6" fill="none" opacity="0.55"/>
<path d="M658.48 180.07h0.6M656.39 175.61h0.6M657.41 174.36h0.6M656.97 176.27h0.6M661.44 176.53h0.6M662.52 180.78h0.6M654.15 175.55h0.6M658.39 176.52h0.6M656.36 175.74h0.6M659 176.76h0.6M642.63 178.15h0.6M657.93 179.1h0.6M651.99 175.88h0.6M662.38 174.98h0.6M656.38 177.88h0.6M660.06 176.5h0.6M649.22 179.83h0.6M652.91 176.32h0.6M667.85 177.27h0.6M649.17 176.86h0.6M653.98 175.74h0.6M644.35 180.01h0.6M660.33 176.93h0.6M653.27 177.73h0.6M659.19 174.51h0.6M653.5 176.17h0.6M659.84 177.02h0.6M647.71 176.77h0.6M665.94 173.83h0.6M656.36 175.68h0.6M663.04 175.98h0.6M652.72 175.04h0.6M654.34 178.82h0.6M659.3 173.94h0.6M664.85 175.39h0.6M649.34 178.04h0.6M651.75 176.34h0.6M651.8 177.3h0.6M652.19 174.04h0.6M658.57 175.62h0.6M662.84 177.19h0.6M659.29 176.92h0.6M663.22 175.43h0.6M649.74 178.41h0.6M639.28 178.28h0.6M656.75 176.04h0.6M663.22 177.46h0.6M656.14 176.15h0.6M661.92 174.89h0.6M653.26 178.77h0.6M659.59 180.54h0.6M653.82 173.5h0.6M659.78 178.98h0.6M654.94 180.17h0.6M665.98 174.41h0.6M652.39 174.92h0.6M658.94 178.01h0.6M658.84 174.16h0.6M650.66 174.78h0.6M645.63 175.56h0.6M646.09 177.8h0.6M658.19 177.91h0.6M655.24 175.71h0.6M655.6 178.12h0.6M653.77 177.32h0.6M653.57 176.21h0.6M655.45 174.81h0.6M661.38 173.2h0.6M657.92 174.02h0.6M664.68 177.59h0.6M650.58 176.72h0.6M648.8 177.71h0.6M658.55 181.66h0.6M647.7 180.4h0.6M652.12 177.96h0.6M660.84 177.42h0.6M657.96 176.31h0.6M655.49 177.3h0.6M662.25 173.28h0.6M652.29 174.94h0.6M649.6 176.15h0.6M662.51 180.36h0.6M663.24 173.72h0.6M655.67 174.74h0.6M658.44 179.14h0.6M659.19 178.26h0.6M654.16 173.29h0.6M643.74 178.25h0.6M659.2 179.05h0.6M653.46 177.4h0.6M657.26 178.87h0.6M654.82 174.93h0.6M662 177.01h0.6M657.46 174.26h0.6M655.05 173.67h0.6M643.57 178h0.6M653.06 178.42h0.6M664.02 175.89h0.6M665.93 174.56h0.6M659.71 173.99h0.6M656.17 176.3h0.6M654.4 178.29h0.6M644.38 178.59h0.6M650.72 177.82h0.6M657.73 176h0.6M653.02 175.04h0.6M658.58 175.3h0.6M657.78 173.92h0.6M663.34 174.03h0.6M662.23 175.29h0.6M658.69 176.33h0.6M659.51 176.52h0.6M663.16 177.38h0.6M659.92 179.74h0.6M651.69 180.02h0.6M655.57 174.09h0.6M658.27 176.26h0.6M665.35 174.83h0.6M655.85 177.42h0.6M644.37 179.36h0.6M649.96 180.44h0.6M665.33 175.78h0.6M646.18 178.5h0.6M656.71 178.27h0.6M653.47 174.91h0.6M654.44 175.31h0.6M665.79 174.35h0.6M651.64 177.38h0.6M648.07 177.04h0.6M654.58 176.15h0.6M654.31 179.58h0.6M657.74 174.1h0.6M653.14 178.75h0.6M651.68 177.63h0.6M655.45 178.04h0.6M654.41 176.86h0.6M650.52 178.32h0.6M650.43 181.02h0.6M655.33 176.58h0.6M660.13 176.26h0.6M656.01 176.83h0.6M651 175.74h0.6M651.64 179.69h0.6M651.7 176.67h0.6M653.02 178.67h0.6M666.96 173.78h0.6M658.76 176.83h0.6M653.83 178.2h0.6M648.2 179.53h0.6M656.56 174.91h0.6M665.1 177.49h0.6M662.01 173.35h0.6M653.78 176.19h0.6M659.51 179.16h0.6M644.28 178.42h0.6M654.99 179.02h0.6M654.96 174.57h0.6M654.11 175.14h0.6M650.93 177.64h0.6M652.73 177.89h0.6M647.11 182.57h0.6M663.1 177.47h0.6M647.37 173.77h0.6M650.36 177.18h0.6M668.94 177.91h0.6M652.69 179.71h0.6M662.71 176.15h0.6M662.74 176.76h0.6M651.37 175.21h0.6M655.01 179.01h0.6M647.14 174.87h0.6M658.09 171.36h0.6M666.12 174.83h0.6M660.25 180.06h0.6M646.71 176.02h0.6M668.63 174.83h0.6M654.8 177.53h0.6M662.03 178.79h0.6M656.07 176.27h0.6M655.36 177.61h0.6M663.24 176.31h0.6M666.01 174.03h0.6M659.05 180h0.6M663.16 176.71h0.6M650.14 176.26h0.6M654.65 177.71h0.6M653.69 174.37h0.6M651.28 178.53h0.6M660.08 173.7h0.6M652.96 174.04h0.6M653.02 184.24h0.6M655.79 176.29h0.6M651.75 175.09h0.6M644.55 178.26h0.6M654.22 180.05h0.6M645.97 179.02h0.6M662.93 172.26h0.6M658.99 173.42h0.6M658.92 179.47h0.6M655.55 177.56h0.6M651.49 178.06h0.6M662.12 175.83h0.6M654.77 177.85h0.6M659.96 173.25h0.6M655.69 175.64h0.6M658.67 178.64h0.6M657.64 179.27h0.6M649.57 176.93h0.6M649.69 177.83h0.6M656.02 176.55h0.6M648.35 177.73h0.6M653.07 178.48h0.6M654.19 179.44h0.6M656.43 173.25h0.6M654.15 174.37h0.6M661.55 179.07h0.6M655.45 177.88h0.6M646.46 173.71h0.6M652.18 176.91h0.6M646.61 178.27h0.6M657.5 178.02h0.6M664.83 177.44h0.6M653.38 177.47h0.6M658.8 174.55h0.6M663.54 177.78h0.6M654.03 175.94h0.6M678.13 175.87h0.6M661.48 179.79h0.6M661.35 176.7h0.6M659.45 174.73h0.6M659.37 173.52h0.6M658.15 177.78h0.6M646.8 181.84h0.6M649.01 179.86h0.6M652.5 177.99h0.6M652.26 182.3h0.6M662.07 179.76h0.6M660.35 177.79h0.6M656.41 176.45h0.6M659.21 176.89h0.6M654.38 174.47h0.6M653.94 178.41h0.6M652.92 178.04h0.6M654.54 175.13h0.6M650.12 176.25h0.6M653.85 176.73h0.6M661.97 174.12h0.6M643.74 179.83h0.6M652.92 177.13h0.6M671.04 178.01h0.6M659.35 178.43h0.6M656.59 178.8h0.6M651.89 176.1h0.6M653.28 180.43h0.6M664.71 174.73h0.6M662.49 175.88h0.6M661.94 175.64h0.6M661.3 176.13h0.6M653.99 177.2h0.6M656.49 175.8h0.6M648.02 181.31h0.6M652.94 173.81h0.6M641.63 173.26h0.6M652.41 180.12h0.6M645.98 177.6h0.6M645.11 180.51h0.6M657.95 177.4h0.6M664.1 179.25h0.6M661.68 175.18h0.6M647.64 175.98h0.6M645.79 181.82h0.6M654.64 177.43h0.6M657.38 180.82h0.6M652.69 179.75h0.6M657.5 176.53h0.6M644.6 180.23h0.6M651.23 176.7h0.6M657.11 177.07h0.6M662.25 174.93h0.6M656.79 177.47h0.6M656.07 178.35h0.6M654.53 179.57h0.6M651.21 174.77h0.6M655.79 179.37h0.6M652.55 176.21h0.6M653.74 177.62h0.6M654.79 177.78h0.6M645.93 181.21h0.6M659 174.96h0.6M663.99 176.93h0.6M664.2 173.7h0.6M665.6 175.93h0.6M643.74 180.01h0.6M653.73 175.3h0.6M654.02 173.44h0.6M659.17 176.21h0.6M654.49 179.99h0.6M655.81 175.74h0.6M650.1 177.62h0.6M661.93 175.15h0.6M649.82 179.6h0.6M656.1 176.96h0.6M667.83 173.17h0.6M656.51 173.46h0.6M654.11 178.41h0.6M662.12 173.76h0.6M660.89 177.96h0.6M655.61 181.92h0.6M655.55 175.34h0.6M657.83 173.12h0.6M665.23 177.83h0.6M653.53 178.53h0.6M659.39 180.42h0.6M651.79 174.99h0.6M643.62 177.96h0.6M646.41 177.85h0.6M658.08 175.89h0.6M650.43 180.05h0.6M654.62 177.65h0.6M661.08 173.82h0.6M650.88 182.57h0.6M654.56 175.14h0.6M654.1 176.12h0.6M648.36 177.15h0.6M655.62 177.04h0.6M658.52 173.29h0.6M647.07 179.67h0.6M653.41 179.73h0.6M657.21 174.09h0.6M658.68 174.69h0.6M657.58 179.25h0.6M668.25 175.38h0.6M659.95 177.12h0.6M659.82 171.52h0.6M653.51 177.9h0.6M658.35 175.25h0.6M660.9 178.59h0.6M656.11 176.56h0.6M653.67 177.58h0.6M663.09 179.1h0.6M652.75 175.59h0.6M651.29 179.53h0.6M657.13 177.47h0.6M658.69 177.43h0.6M654.78 175.12h0.6M652.13 177.73h0.6M657.98 176.05h0.6M653.62 180h0.6M653.05 177.82h0.6M653.67 175.62h0.6M646.66 177.11h0.6M651.11 179.28h0.6M648.87 177.08h0.6M659.59 176.36h0.6M658.87 178.3h0.6M645.87 177.45h0.6M650.41 180.35h0.6M655.17 178.09h0.6M665.67 175.13h0.6M656.28 177.78h0.6M654.47 179.66h0.6M660.79 178.39h0.6M655.95 176.35h0.6M653.57 176.6h0.6M646.18 178.93h0.6M660.52 176.44h0.6M652.84 177.48h0.6M657.14 177.51h0.6M666.08 174.11h0.6M658.04 178.11h0.6M656.14 176.54h0.6M649.6 176.64h0.6M660.21 179.32h0.6M652.01 178.42h0.6M659.01 178.6h0.6M657.27 177.72h0.6M660.69 174.18h0.6M655.59 173.64h0.6M644.03 176.88h0.6M646.87 179.12h0.6M661.45 175.75h0.6M654.86 176.7h0.6M654.23 177.49h0.6M657.66 175.91h0.6M651.02 176.61h0.6M660.28 175.67h0.6M664.1 175.55h0.6M663.39 173.79h0.6M651.79 178.45h0.6M658.52 176.39h0.6M667.57 175.72h0.6M657.26 175.75h0.6M665.52 177.49h0.6M657.72 173.64h0.6M657.7 175.9h0.6M658.2 178.49h0.6M651.42 177.99h0.6M660.83 176.72h0.6M653.55 175.26h0.6M651.53 175.11h0.6M661.44 176.53h0.6M648.67 177.89h0.6M647.47 171.73h0.6M662.96 178.4h0.6M647 176.73h0.6M656.79 176.17h0.6M650.63 176.67h0.6M654.17 176.16h0.6M656.85 176.45h0.6M651.3 177.62h0.6M646.43 180.95h0.6M645.62 178.11h0.6M657.74 177.58h0.6M657.48 179.24h0.6M649.17 177.7h0.6M656.4 175.99h0.6M652.55 179.88h0.6M651.45 176.63h0.6M654.03 176.83h0.6M656.55 176.53h0.6M657.84 177.02h0.6M658.74 179.28h0.6M651.18 180.74h0.6M653.23 178.6h0.6M656.51 176.36h0.6M644.74 181.45h0.6M651.11 176.08h0.6M661.77 176.42h0.6M666.96 178.85h0.6M659.77 177h0.6M659.72 174.01h0.6M656.66 177.18h0.6M652.99 177.84h0.6M647.47 179.75h0.6M662.72 173.69h0.6M656.82 179.83h0.6M657.8 174.8h0.6M650.17 179.32h0.6M665.89 173.7h0.6M655.66 175.54h0.6M654.07 177.8h0.6M655.23 175.77h0.6M667.63 175.25h0.6M654.84 179.23h0.6M655.65 176.64h0.6M660.81 174.42h0.6M660.13 178.43h0.6M659.36 176.22h0.6M655.18 173.82h0.6M654.94 177.66h0.6M660.6 176.68h0.6M653.2 175.73h0.6M655.39 177.31h0.6M662.52 176.19h0.6M652.73 177.17h0.6M652.81 176.92h0.6M642.67 175.59h0.6M648.91 178.73h0.6M655.2 177.35h0.6M661.99 174.26h0.6M662.21 176.94h0.6M651.88 180.3h0.6M647.23 175.92h0.6M654.51 177.92h0.6M654.03 173.17h0.6M653.89 177.07h0.6M670.4 177.8h0.6M656.05 174.9h0.6M657.28 174.61h0.6M656.84 177.56h0.6M653.38 177.76h0.6M653.59 176.19h0.6M664.46 177.03h0.6M653.68 175.8h0.6M656.74 177.95h0.6M660.77 179.17h0.6M657.96 174.61h0.6M667.4 177.76h0.6M660.62 178.93h0.6M647.05 177.36h0.6" stroke="#2b35d8" stroke-width="0.6" fill="none" opacity="0.8"/>
<path d="M653.6 178.87h0.6M650.02 177.59h0.6M663.9 177.19h0.6M654.33 179.54h0.6M649.35 178.51h0.6M654.97 177.98h0.6M654.57 176.55h0.6M657.01 175.77h0.6M658.74 176.68h0.6M660.72 176.33h0.6M652.69 178.1h0.6M662.13 174.41h0.6M656.74 177.92h0.6M648.72 177.12h0.6M659.25 176.07h0.6M653 179.5h0.6M651.16 176.88h0.6M644.14 177.36h0.6M649.98 179.81h0.6M662.12 175.29h0.6M666.16 177.08h0.6M655.23 178.27h0.6M657.91 176.28h0.6M646.98 177.27h0.6M655.98 176.92h0.6M652.39 178.75h0.6M650.72 178.84h0.6M653.6 177.68h0.6M650.33 177.9h0.6M651.86 175.84h0.6M655.94 177.26h0.6M660.3 177.17h0.6M650.8 177.19h0.6M643.25 177.43h0.6M662.83 178.24h0.6M659.96 177.22h0.6M659.09 177.51h0.6M647.09 177.29h0.6M662.21 177.94h0.6M657.22 176.84h0.6M654.01 176.92h0.6M651.09 175.72h0.6M656.74 176.74h0.6M655.13 179.27h0.6M658.97 176.23h0.6M658.82 175.37h0.6M661.43 177.02h0.6M655.1 178.02h0.6M663.41 176.02h0.6M651.22 180.12h0.6M656.28 178.91h0.6M652.62 178.08h0.6M652.82 178.33h0.6M654.54 176.73h0.6M664 176.84h0.6M645.61 178.14h0.6M651.19 176.48h0.6M652.98 177.1h0.6M656.1 176.42h0.6M646.42 177.72h0.6M660.37 175.35h0.6M659.24 177.47h0.6M653.75 177.88h0.6M652.13 177.27h0.6M650.83 178.36h0.6M662.96 175.83h0.6M661.91 174.34h0.6M651.35 176.68h0.6M664.78 175.73h0.6M659.78 174.65h0.6M656.66 177.85h0.6M655.5 174.36h0.6M657.01 178.09h0.6M662.85 177.02h0.6M647.29 177.99h0.6M660.56 175.92h0.6M658.86 176.47h0.6M656.57 178.08h0.6M652.68 180.81h0.6M656.82 177.59h0.6M652.19 177.77h0.6M654.45 175.85h0.6M648.14 178.44h0.6M655.25 174.48h0.6M644.89 178.13h0.6M655.72 178h0.6M649.67 178.62h0.6M654.35 176.91h0.6M655.38 178.45h0.6M658.98 177.97h0.6M652.41 177.36h0.6M649.93 177.33h0.6M653.9 177.01h0.6M659.74 177.38h0.6M659.94 177.03h0.6M661.56 176.84h0.6M661.05 177.33h0.6M659.79 176.83h0.6M649.43 176.39h0.6M666.17 176.66h0.6M658.27 176.88h0.6M653.96 180.69h0.6M650.2 177.84h0.6M655.6 176.09h0.6M649.34 177.22h0.6M654.17 176.96h0.6M660.07 175.57h0.6M658.26 178.69h0.6M660.49 175.57h0.6M640.82 179.83h0.6" stroke="#35c86a" stroke-width="0.6" fill="none" opacity="0.85"/>
<path d="M647.28 177.14h0.6M648.45 176.92h0.6M646.56 176.87h0.6M647.09 177.39h0.6M646.5 179.37h0.6M646.54 176.34h0.6M648.09 178.51h0.6M645.48 178.02h0.6M646.78 177.71h0.6M647.22 178.61h0.6M646.89 180.4h0.6M645.59 177.81h0.6M650.47 179.45h0.6M646.78 177.79h0.6M645.72 179.73h0.6M646.73 177.04h0.6M647.89 179.21h0.6M648.6 179.93h0.6M648.6 177.86h0.6M646.96 178.59h0.6M648.84 178.26h0.6M648.37 177.69h0.6M648.34 178.86h0.6M646.08 176.75h0.6M649.45 177.72h0.6M646.27 178.47h0.6M645.81 176.36h0.6M646.01 176.62h0.6M647.04 177.78h0.6M648.35 177.29h0.6M647.21 177.5h0.6M645.74 176.75h0.6M648.26 177.67h0.6M646.06 178.51h0.6M645.94 177.46h0.6M647.61 179.13h0.6M645.88 176.67h0.6M646.61 180.17h0.6M646.1 179.64h0.6M646.74 178.89h0.6M646.06 176.42h0.6M647.01 180.39h0.6M646.83 178.65h0.6M646.28 178.04h0.6M647.43 178.32h0.6M649.92 176.85h0.6M646.3 177.41h0.6M644.35 177.01h0.6M647.04 175.74h0.6M649.11 178.17h0.6M645.95 176.96h0.6M646.85 178.01h0.6M648.11 176.66h0.6M646.25 178.14h0.6M646.18 177.5h0.6M643.77 177.19h0.6M645.77 178.12h0.6M649.08 179.88h0.6M649.37 177.53h0.6M649.41 176.92h0.6" stroke="#35c86a" stroke-width="0.6" fill="none" opacity="0.95"/>
<path d="M646.81 179.68h0.6M645.7 178.06h0.6M646.83 179.04h0.6M646.39 178.7h0.6M646.07 177.32h0.6M646.94 178.04h0.6M645.52 177.79h0.6M646.26 178.88h0.6M647.15 178.02h0.6M647.01 177.54h0.6M646.96 177.46h0.6M645.41 177.95h0.6M646.91 178h0.6M647.2 176.57h0.6M646.61 178.33h0.6M645.95 178.46h0.6M646.09 177.39h0.6M647.32 176.74h0.6M647.45 177.42h0.6M645.7 177.71h0.6M645.88 177.67h0.6M646.49 176.69h0.6M647.96 178.17h0.6M647.65 176.93h0.6M644.6 178.31h0.6M646.64 178.25h0.6M646.25 178.11h0.6M646.46 176.94h0.6M647.97 176.71h0.6M647.19 178.63h0.6M646.05 178.25h0.6M648.02 177.32h0.6M647.66 177.87h0.6M647.08 178.41h0.6M646.47 177.94h0.6" stroke="#e8e040" stroke-width="0.6" fill="none" opacity="0.95"/>
<path d="M662.44 176.74h0.6M661.18 175.84h0.6M660.16 177.65h0.6M662.29 176.81h0.6M658.7 176.52h0.6M661.23 177.68h0.6M660.24 177.7h0.6M659.38 177.72h0.6M657.57 177.2h0.6M657.44 177.54h0.6" stroke="#e8e040" stroke-width="0.6" fill="none" opacity="0.9"/>
<path d="M654.6 164.3L679.3 163.4L679.5 183.6L649 183.8Z" fill="none" stroke="#444" stroke-width="0.7" stroke-linejoin="round"/>
<rect x="626" y="240.8" width="59.6" height="59.1" stroke="#444" stroke-width="0.6" fill="none"/>
<path d="M624.3 244.5L626 244.5M624.3 262L626 262M624.3 280L626 280M624.3 298L626 298" stroke="#444" stroke-width="0.55" fill="none"/>
<path d="M628.3 299.9L628.3 301.6M636.45 299.9L636.45 301.6M644.6 299.9L644.6 301.6M652.75 299.9L652.75 301.6M660.9 299.9L660.9 301.6M669.05 299.9L669.05 301.6M677.2 299.9L677.2 301.6" stroke="#444" stroke-width="0.55" fill="none"/>
<path d="M626 300.45L685.6 300.45" stroke="#444" stroke-width="0.9" stroke-dasharray="0.4 0.85" opacity="0.65"/>
<path d="M625.45 240.8L625.45 299.9" stroke="#444" stroke-width="0.9" stroke-dasharray="0.4 1.3" opacity="0.5"/>
<path d="M650.74 283.37h0.6M648.24 285.25h0.6M647.71 282.73h0.6M646.64 290.9h0.6M651.33 286.01h0.6M648.14 288.47h0.6M648.37 286.09h0.6M649.75 288.95h0.6M649.34 284.88h0.6M651.66 285.25h0.6M650.18 282.82h0.6M647.83 287.8h0.6M647.61 289.91h0.6M650.51 281.17h0.6M644.29 291.37h0.6M646.24 294.25h0.6M649.71 284.02h0.6M649.93 286.51h0.6M649.9 283.25h0.6M648.46 292.9h0.6M645.97 295.68h0.6M647.69 288.52h0.6M648.66 278.03h0.6M650.21 294.96h0.6M652.44 280.09h0.6M648.65 289.6h0.6M648.57 288.98h0.6M647.65 286.49h0.6M647.55 285.53h0.6M650.25 284.06h0.6M648.9 285.46h0.6M647.76 291.85h0.6M648.69 289.48h0.6M647.13 285.35h0.6M650.99 283.85h0.6M649.3 282.89h0.6M651.27 285.93h0.6M647.03 290.16h0.6M649.83 290.25h0.6M649.99 288.89h0.6M649.13 285.45h0.6M648.76 284.59h0.6M649.47 287.15h0.6M648.23 290.39h0.6M650.31 281.15h0.6M648.95 282.05h0.6M645.91 287.34h0.6M648.55 281.14h0.6M646.22 291.21h0.6M647.19 292.07h0.6M649.18 285.47h0.6M648.93 290.51h0.6M650.17 282.75h0.6M649.51 281.87h0.6M648.32 287.87h0.6M649.32 294.64h0.6M648.68 292.21h0.6M648.88 289.58h0.6M650.11 288.78h0.6M650.4 283.03h0.6M650.01 288.49h0.6M650.23 286.78h0.6M645.64 289.2h0.6M651.98 281.97h0.6M647.74 285.75h0.6M650.41 279.5h0.6M650.18 292.85h0.6M650.01 278.85h0.6M647.02 296.87h0.6M648.67 293.18h0.6M647.16 288.24h0.6M644.32 296.17h0.6M652.07 277.9h0.6M645.55 289.06h0.6M649.36 286.1h0.6M647.37 297.07h0.6M651.43 279.23h0.6M650.09 281.33h0.6M647.25 288.72h0.6M649.79 282.47h0.6M649.71 283.67h0.6M649.85 286.54h0.6M649.68 286.37h0.6M650.05 287.1h0.6M649.44 284.83h0.6M651.06 279.25h0.6M653.47 285.25h0.6M649.49 285.28h0.6M647.62 289.14h0.6M648.55 285.27h0.6M647.86 282.64h0.6M645 295.41h0.6M648.1 281.95h0.6M647.42 294.15h0.6M648.13 279.6h0.6M648.59 289.05h0.6M648.83 278.52h0.6M646.53 290.55h0.6M647.87 290.87h0.6M648.68 287.22h0.6M649.83 287.08h0.6M650.2 283.25h0.6M647.38 289.37h0.6M649.31 283.84h0.6M649.12 290.19h0.6M649.67 283.86h0.6M649.39 279.92h0.6M648.74 282.77h0.6M648.33 281.43h0.6M649.03 291.7h0.6M650.08 291.4h0.6M646.84 292.26h0.6M648.31 285.54h0.6M645.66 292.67h0.6M650.8 285.59h0.6M648.3 287.43h0.6M648.1 291.38h0.6M648.42 289.26h0.6M646.96 285.42h0.6M644.11 295.02h0.6M649.99 291.2h0.6M648.08 297.1h0.6M652.01 280.28h0.6M651.22 276.32h0.6M649.05 281.26h0.6M648.33 289.16h0.6M647.77 285.69h0.6M649.38 286.71h0.6M651.32 276.08h0.6M647.23 290.86h0.6M650.89 280.52h0.6M648.08 288.47h0.6M646.59 290.11h0.6M648.01 285.49h0.6M646.05 297.65h0.6M648.99 284.54h0.6M650.38 285.38h0.6M651.69 276.89h0.6M649.25 287.33h0.6M645.34 293.17h0.6M648.67 286.32h0.6M648.76 279.27h0.6M649.73 280.02h0.6M648.49 291.54h0.6M649.73 279.59h0.6M649.45 282.23h0.6M648.82 288.21h0.6M648.08 287.49h0.6M648.33 295.62h0.6M647.19 290.48h0.6M649.67 282.29h0.6M650.2 289.59h0.6M648.58 289h0.6M649.77 282.33h0.6M650.33 292.13h0.6M648.05 291.89h0.6M650.89 286.83h0.6M650.02 286h0.6M650.02 286.34h0.6M652.75 286.51h0.6M649 289.64h0.6M647.21 291.53h0.6M649.14 285.34h0.6M649.66 283.8h0.6M649.8 290.64h0.6M651.79 281.36h0.6M650.07 283.81h0.6M647.43 293.26h0.6M649.37 286.57h0.6M649.24 292.41h0.6M653.64 279.3h0.6M649.75 285.47h0.6M647.38 287.51h0.6M649.69 276.47h0.6M647.78 285.75h0.6M652.34 284.61h0.6M649.38 277.66h0.6M648.55 286.05h0.6M650.68 280.61h0.6M650.31 276.46h0.6M650.85 280.04h0.6M643.44 291.7h0.6M649.12 289.11h0.6M650.5 282.6h0.6M651.57 282.8h0.6M651.31 289.04h0.6M645.09 290.67h0.6M651.96 286.83h0.6M650.59 286.7h0.6M650.87 275.04h0.6M651.1 285.67h0.6M650.66 282.16h0.6M646.17 292.18h0.6M648.69 285.29h0.6M646.71 287.82h0.6M650.46 285.44h0.6M649.93 281.55h0.6" stroke="#6a86f2" stroke-width="0.6" fill="none" opacity="0.5"/>
<path d="M650.63 286.67h0.6M646.96 294.31h0.6M649.7 282.97h0.6M647.92 286.96h0.6M650.3 289.72h0.6M647.63 291.31h0.6M650.65 286.16h0.6M649.38 291.87h0.6M651.14 280.3h0.6M647.58 293.42h0.6M646.28 296.52h0.6M649.56 284.94h0.6M648.97 289.68h0.6M649.68 287.93h0.6M650.48 286.89h0.6M649.83 284.15h0.6M647.56 289h0.6M648.28 286.74h0.6M648.15 289.34h0.6M648.74 291.41h0.6M649.52 289.5h0.6M649.4 282.77h0.6M648.92 285.61h0.6M645.19 293.83h0.6M646.3 289.27h0.6M649.4 287.84h0.6M651.37 289.28h0.6M646.22 294.53h0.6M649 283.23h0.6M648.08 285.98h0.6M648.35 289.72h0.6M646.64 289.34h0.6M651.64 286.59h0.6M647.84 290.94h0.6M650.49 286.48h0.6M648.45 284.68h0.6M648.99 292h0.6M648.14 280.35h0.6M648.58 282.87h0.6M648.84 289.4h0.6M650.02 291.86h0.6M647.68 292.73h0.6M648.86 283.32h0.6M647.8 291.85h0.6M646.05 291.25h0.6M649.97 286.97h0.6M649.02 287.59h0.6M647.97 291.4h0.6M646.81 291.99h0.6M648.74 291.97h0.6M648.11 281.38h0.6M649.86 286.62h0.6M648.52 285.62h0.6M647.39 287.14h0.6M648.39 285.99h0.6M650.16 284.45h0.6M651.78 280.93h0.6M652.52 284.37h0.6M648.42 291.91h0.6M647.93 291.16h0.6M650.04 282.23h0.6M647.96 292.67h0.6M649.5 282.33h0.6M647.65 289.51h0.6M647.94 292.52h0.6M648.75 290.47h0.6M644.45 295.89h0.6M647.88 291.6h0.6M648.35 287.88h0.6M647.26 294.14h0.6M649.7 291.13h0.6M651.1 287.65h0.6M649.56 287.04h0.6M649.97 289.01h0.6M648.13 294.94h0.6M644.41 295.71h0.6M649.23 287.49h0.6M646.78 286.94h0.6M646.01 288.23h0.6M646.79 295h0.6M647.29 292.29h0.6M648.03 296.23h0.6M647.65 291.2h0.6M647.93 284.18h0.6M648.32 288.4h0.6M647.64 286.75h0.6M649.77 287.12h0.6M649.22 285.34h0.6M648.52 295.31h0.6M648.92 288.21h0.6M649.99 290.74h0.6M649.07 283.56h0.6M645.99 296.27h0.6M645.37 298.76h0.6M648.79 287.8h0.6M650.27 288.06h0.6M649.94 284.96h0.6M647.9 285.6h0.6M649.44 286.26h0.6M646.02 289.75h0.6M648.67 287.54h0.6M649.94 280.35h0.6M650.77 287.3h0.6M647.93 293.72h0.6M649.65 289.62h0.6M648.34 289.69h0.6M649.08 290.91h0.6M647.71 290.08h0.6M648.39 291.19h0.6M647.6 293.56h0.6M648.03 291.83h0.6M649.16 286.55h0.6M647.71 287.77h0.6M648.05 293.28h0.6M648.97 286.71h0.6M646.89 293.08h0.6M649.16 286.83h0.6M650.59 284.06h0.6M648.77 288.47h0.6M649.48 284.42h0.6M648.17 294.89h0.6M647.04 288.67h0.6M647.29 296.86h0.6M648.99 285.09h0.6M646.8 295.81h0.6M648.44 289.57h0.6M652.45 281.43h0.6M645.42 291.26h0.6M650.69 283.84h0.6M649.13 288.89h0.6M649.56 285.78h0.6M648.89 285.33h0.6M648.86 287.79h0.6M649.88 291.31h0.6M646.51 289.66h0.6M649.92 290h0.6M649.82 288.77h0.6M650.21 285.44h0.6M650.69 283.88h0.6M651.37 283.53h0.6M645.81 289.92h0.6M648.31 288.96h0.6M649.09 288.62h0.6M647.44 289.11h0.6M648.54 290.46h0.6M651.43 286.51h0.6M648.17 290.62h0.6M649.18 284.18h0.6M647.03 292.26h0.6M647.76 290.72h0.6" stroke="#2b35d8" stroke-width="0.6" fill="none" opacity="0.75"/>
<path d="M654.02 290.19h0.6M654.1 286.75h0.6M655.15 289.14h0.6M656.96 284.67h0.6M655.68 293.3h0.6M656.82 287.98h0.6M654.09 287.68h0.6M655.4 289.5h0.6M655.47 290.6h0.6M653.57 285.99h0.6M653.36 285.42h0.6M654.87 289.83h0.6M658.38 290.42h0.6M655.02 292.78h0.6M654.02 289.91h0.6M656.3 291.1h0.6M655.54 288.07h0.6M653.34 288.59h0.6M654.21 290.84h0.6M654.82 290.5h0.6M652.85 291.59h0.6M653.86 284.83h0.6M653.17 287.33h0.6M656.5 290.9h0.6" stroke="#6a86f2" stroke-width="0.6" fill="none" opacity="0.55"/>
<g transform="translate(648.3 290) rotate(13)" filter="url(#bl)"><path d="M0 -8.2C0.89 -4.92 2.55 -1.23 2.55 0.38C2.55 2.66 1.4 3.8 0 3.8C-1.4 3.8 -2.55 2.66 -2.55 0.38C-2.55 -1.23 -0.89 -4.92 0 -8.2Z" fill="#3346e6" opacity="0.9" transform="translate(0 0) scale(1.0)"/><path d="M0 -8.2C0.89 -4.92 2.55 -1.23 2.55 0.38C2.55 2.66 1.4 3.8 0 3.8C-1.4 3.8 -2.55 2.66 -2.55 0.38C-2.55 -1.23 -0.89 -4.92 0 -8.2Z" fill="#38b8e8" opacity="0.95" transform="translate(0 0.08) scale(0.82)"/><path d="M0 -8.2C0.89 -4.92 2.55 -1.23 2.55 0.38C2.55 2.66 1.4 3.8 0 3.8C-1.4 3.8 -2.55 2.66 -2.55 0.38C-2.55 -1.23 -0.89 -4.92 0 -8.2Z" fill="#35c86a" opacity="1" transform="translate(0 0.19) scale(0.64)"/><path d="M0 -8.2C0.89 -4.92 2.55 -1.23 2.55 0.38C2.55 2.66 1.4 3.8 0 3.8C-1.4 3.8 -2.55 2.66 -2.55 0.38C-2.55 -1.23 -0.89 -4.92 0 -8.2Z" fill="#e8e040" opacity="1" transform="translate(0 0.3) scale(0.38)"/><path d="M0 -8.2C0.89 -4.92 2.55 -1.23 2.55 0.38C2.55 2.66 1.4 3.8 0 3.8C-1.4 3.8 -2.55 2.66 -2.55 0.38C-2.55 -1.23 -0.89 -4.92 0 -8.2Z" fill="#f04a20" opacity="0.9" transform="translate(0 0.38) scale(0.16)"/></g>
<path d="M654.9 274.5L683.9 274.2L683.9 297L651 297.3Z" fill="none" stroke="#444" stroke-width="0.7" stroke-linejoin="round"/>
<rect x="626" y="320.1" width="59.6" height="59.8" stroke="#444" stroke-width="0.6" fill="none"/>
<path d="M624.3 323.5L626 323.5M624.3 341L626 341M624.3 359L626 359M624.3 377.5L626 377.5" stroke="#444" stroke-width="0.55" fill="none"/>
<path d="M628.3 379.9L628.3 381.6M636.45 379.9L636.45 381.6M644.6 379.9L644.6 381.6M652.75 379.9L652.75 381.6M660.9 379.9L660.9 381.6M669.05 379.9L669.05 381.6M677.2 379.9L677.2 381.6" stroke="#444" stroke-width="0.55" fill="none"/>
<path d="M626 380.45L685.6 380.45" stroke="#444" stroke-width="0.9" stroke-dasharray="0.4 0.85" opacity="0.65"/>
<path d="M625.45 320.1L625.45 379.9" stroke="#444" stroke-width="0.9" stroke-dasharray="0.4 1.3" opacity="0.5"/>
<path d="M649.31 367.87h0.6M654.95 361.93h0.6M649.75 360.84h0.6M650.27 358.77h0.6M651.18 364.34h0.6M651.21 364.71h0.6M662.51 365.28h0.6M657.59 369.35h0.6M661.34 368.77h0.6M652.52 363.69h0.6M651.42 365.85h0.6M656 366.72h0.6M662.23 366.12h0.6M666.53 369.47h0.6M653.49 370.05h0.6M639.97 372.93h0.6M658.46 368.09h0.6M647.1 376.06h0.6M654.51 366.66h0.6M662.37 365.8h0.6M651.33 369.57h0.6M650.42 369.93h0.6M657.11 370.61h0.6M649.44 371.67h0.6M658.24 373.29h0.6M652.81 373.38h0.6M660.24 369.22h0.6M652.01 369.18h0.6M659.58 363.96h0.6M649.18 365.06h0.6M664.39 366.78h0.6M661.43 367.47h0.6M656.73 367.67h0.6M654 371.19h0.6M657.05 367.65h0.6M648.19 368.7h0.6M652 365.7h0.6M661.6 362.92h0.6M655.04 369.15h0.6M662.42 364.73h0.6M657.9 367.77h0.6M648.95 360.59h0.6M645.17 369.92h0.6M656.2 362.58h0.6M652.23 366.01h0.6M653.95 367.08h0.6M668.36 363.35h0.6M656.59 364.42h0.6M652.16 364.44h0.6M654.52 365.31h0.6M658.05 367.52h0.6M651.45 373.69h0.6M649.43 368.74h0.6M668.15 363.59h0.6M663.96 370.96h0.6M657.4 360.81h0.6M664.12 366.59h0.6M653.24 371.43h0.6M652.17 370.83h0.6M653.02 369.02h0.6M649.75 366.24h0.6M650.57 365.14h0.6M657.01 366.35h0.6M657.43 371.08h0.6M654.81 361h0.6M654.38 367.4h0.6M662.09 369.86h0.6M661.34 365.78h0.6M659.26 361.98h0.6M663.49 367.78h0.6M658.78 365.51h0.6M656.12 364.79h0.6M658.84 362.39h0.6M661.69 368.28h0.6M667.52 365.86h0.6M655.52 367.67h0.6M656.18 366.63h0.6M649.4 363.95h0.6M652.69 366.33h0.6M648.9 363.81h0.6M654.59 369.55h0.6M655.1 369.3h0.6M661.76 369.02h0.6M653.48 365.89h0.6M645.18 365.7h0.6M658.36 363.23h0.6M664.12 370.99h0.6M654.16 370.19h0.6M647.62 364.29h0.6M653.88 367.21h0.6M654.69 364.29h0.6M667.28 366.97h0.6M657.83 369.07h0.6M656.93 366.16h0.6M652.36 361.95h0.6M664.25 363.26h0.6M646.3 365.2h0.6M647.44 374.29h0.6M658.48 371.4h0.6M664.45 368.13h0.6M659.06 364.36h0.6M655.35 365.08h0.6M656.04 364.7h0.6M663.43 368.86h0.6M654.92 361.62h0.6M660.15 369.54h0.6M655.25 362.93h0.6M658.76 370.2h0.6M645.25 369.8h0.6M645.69 368.16h0.6M665.97 366.43h0.6M658.64 365.72h0.6M656.63 374.65h0.6M663.5 365.31h0.6M653.84 367.25h0.6M668.54 366.59h0.6M662.23 365.26h0.6M649.14 371.94h0.6M655.34 364.49h0.6M651.87 365.16h0.6M652.11 362.3h0.6M662.94 367.64h0.6M661.44 365.4h0.6M658.02 367.37h0.6M662.9 369.06h0.6M657.85 364.71h0.6M648.95 365h0.6M652.25 365.57h0.6M649.45 373h0.6M656.96 360.33h0.6M649.42 363.2h0.6M657.66 370.34h0.6M650.58 369.5h0.6M654.76 370.86h0.6M663.83 367.33h0.6M660.07 366.63h0.6M653.55 363.42h0.6M657.83 366.61h0.6M653.8 366.94h0.6M654.66 363.73h0.6M653.33 370.96h0.6M655.08 371.63h0.6M649.09 363.19h0.6M656.94 369.45h0.6M652.46 369.35h0.6M661.58 370.01h0.6M655.36 366.89h0.6M646.67 367.89h0.6M657.99 371.42h0.6M648.58 364.9h0.6M650.6 370.4h0.6M641.4 364.76h0.6M667.83 368.1h0.6M648.48 367.46h0.6M660.93 368.36h0.6M654.53 364.55h0.6M660.7 366.57h0.6M660.68 367.88h0.6M653.77 371.88h0.6M653.31 368.63h0.6M652.37 366.57h0.6M654.41 364.99h0.6M657.71 371.1h0.6M666.88 370.71h0.6M655.44 371.78h0.6M658.87 372.58h0.6M649.33 372.39h0.6M652.96 371.02h0.6M653.63 370.17h0.6M653.89 361.09h0.6M650.49 366.7h0.6M655.51 359.79h0.6M649.05 365.24h0.6M654.87 367.81h0.6M650.96 362.53h0.6M657.61 365.78h0.6M660.85 364.87h0.6M659.38 363.82h0.6M657.53 367.16h0.6M658.27 363.78h0.6M655.08 364.34h0.6M655.27 369.08h0.6M672.78 365.65h0.6M660.05 367.01h0.6M662.5 367.93h0.6M661.97 367.63h0.6M669.87 370.24h0.6M646.53 368.8h0.6M655.83 359.89h0.6M651.05 365.95h0.6M651.93 367.78h0.6M646.16 370.28h0.6M660.46 367.76h0.6M654.17 367.19h0.6M653.74 370.91h0.6M659.42 373.15h0.6M654.37 371.84h0.6M652.75 366.75h0.6M650.33 369.2h0.6M655.87 369.03h0.6M664.37 366.11h0.6M658.42 369.71h0.6M655.55 365.29h0.6M658.18 368.45h0.6M660.64 369.3h0.6M652.42 368.77h0.6M662.8 364.93h0.6M657.9 364.86h0.6M657.46 372.49h0.6M656.74 363.85h0.6M658.03 367.54h0.6M661.9 362.09h0.6M650.89 367.22h0.6M647.67 371.41h0.6M644.48 365.36h0.6M647.6 365.65h0.6M660.69 368.55h0.6M661.39 368.5h0.6M644.76 368.98h0.6M645.58 366.32h0.6M653.7 365.47h0.6M658.57 364.19h0.6M665.9 368.09h0.6M662.86 368.87h0.6M661.03 366.45h0.6M666.74 362.7h0.6M658.63 366.81h0.6M654.89 368.15h0.6M652.1 370.17h0.6M660.47 366.95h0.6M659.88 363.34h0.6M645.77 366.05h0.6M655.42 375.1h0.6M655.06 370.43h0.6M661.37 373.35h0.6M656.89 369.05h0.6M654.73 364.36h0.6M650.22 365.01h0.6M664.12 367.24h0.6M655.2 367.16h0.6M652.89 367.19h0.6M656.01 369.13h0.6M660.69 361.36h0.6M657.74 371.3h0.6M650.28 366.73h0.6M657.31 370.46h0.6M659.33 366.03h0.6M659.14 370.09h0.6M658.76 372.77h0.6M658.13 363.47h0.6M651.64 366.98h0.6M655.08 369.11h0.6M658.52 372.33h0.6M661.01 371.37h0.6M651.69 366.04h0.6M659.92 366.99h0.6M659.65 367.53h0.6M653.09 372.78h0.6M662.02 361.52h0.6M652.65 367.41h0.6M659.86 366.48h0.6M648.72 370.36h0.6M655.27 370.98h0.6M658.06 370.09h0.6M661.01 369.45h0.6M653.55 370.58h0.6M656.9 362.98h0.6M653.82 366.17h0.6M658.92 369.01h0.6M650.1 369.91h0.6M655.46 363.72h0.6M660.56 364.23h0.6M649.69 370.05h0.6M660.96 364.52h0.6M662.3 369.74h0.6M653.8 373.68h0.6M655.88 367.81h0.6M643.03 370.25h0.6M652.82 368.77h0.6M646.95 371.58h0.6M664.79 372.37h0.6M639.88 370.38h0.6M657.24 357.29h0.6M652.07 367.17h0.6M663.87 363.74h0.6M657.32 366.81h0.6M658.12 365.65h0.6M661.44 369.75h0.6M648.94 371.33h0.6M651.98 366.59h0.6M662.51 366.87h0.6M659.65 369.34h0.6M659.42 365.11h0.6M651.14 369.75h0.6M660.57 367.89h0.6M655.45 369.94h0.6M655.74 362.78h0.6M657.98 368.59h0.6M660.34 363.92h0.6M652.2 368.56h0.6M653.79 367.14h0.6M661.64 367.94h0.6M666.55 367.19h0.6M666.14 369.71h0.6M670.51 365.98h0.6M656.26 371.37h0.6M653.4 365.96h0.6M657.89 368.27h0.6M648.7 368.69h0.6M654.71 367.27h0.6M657.38 366.52h0.6M662.56 368.25h0.6M655.47 367.56h0.6M662.49 369.22h0.6M663.51 366.19h0.6M657.85 373.56h0.6M656.8 372.6h0.6M661.12 365.49h0.6M648.99 369.95h0.6M652.47 365.36h0.6M647.32 371.87h0.6M657.16 367.3h0.6M658.85 367.85h0.6M657.27 368.87h0.6M654.36 359.24h0.6M660.81 368.27h0.6M657.18 372.3h0.6M648.08 358.8h0.6M664.97 367.87h0.6M647.4 366.79h0.6M659.71 363.14h0.6M660.27 373.72h0.6M664.3 366.51h0.6M658.14 364.12h0.6M657.25 366.17h0.6M650.73 363.51h0.6M667.33 366.62h0.6M650.83 366.44h0.6M665.3 371.69h0.6M653.26 368.2h0.6M661.45 365.75h0.6M649.83 364.76h0.6M656.45 364.83h0.6M649.36 367.16h0.6M661.95 368.99h0.6M655.86 373.43h0.6M652.23 367.42h0.6M649.25 370.4h0.6M655.44 362.01h0.6M652.51 373.36h0.6M660.62 367.27h0.6M660.93 361.8h0.6M651.64 363.47h0.6M651.89 366.46h0.6M659.79 370.19h0.6M662.74 375.28h0.6M653.83 367.44h0.6M659.15 364.39h0.6M655.09 368.69h0.6M651.8 369.17h0.6M663.03 363.13h0.6M643.93 368.62h0.6M650.83 368.3h0.6M654.14 368.43h0.6M663.03 369.28h0.6M654.22 363.72h0.6M642.16 361.56h0.6M652.13 367.92h0.6M652.57 365.66h0.6M647.15 362.75h0.6M647.04 369.99h0.6M645.61 370.27h0.6M651.49 369.28h0.6M657.84 369.4h0.6M662.63 364.06h0.6M650.73 366.18h0.6M652.09 369.54h0.6M655.53 367.13h0.6M658.3 365.35h0.6M661.68 360.69h0.6M657.52 368.5h0.6M651.62 365.21h0.6M660.98 365.57h0.6M645.01 363.67h0.6M661.38 363.73h0.6M663.67 370.72h0.6M655.05 368.83h0.6M651.31 366.13h0.6M652.29 369.21h0.6M648.84 367.2h0.6M656.41 368.61h0.6M643.71 362.35h0.6M651.03 366.71h0.6M656.8 367.53h0.6M667.34 368.08h0.6M659.08 365.15h0.6M660.49 368.79h0.6M659.63 366.29h0.6M659.82 371.5h0.6M650.92 360.51h0.6M660.68 368.89h0.6M654.52 365.67h0.6M671.08 364.16h0.6M649.03 366.04h0.6M658.53 364.78h0.6M653.84 368.12h0.6M653.57 367.57h0.6M655.38 363.61h0.6M655.98 363.25h0.6M660.81 363.55h0.6M654.08 361.31h0.6M653.08 363.21h0.6M664.13 365.84h0.6M658.3 361.16h0.6M648.98 367.01h0.6M648.69 371.22h0.6M653.69 367.61h0.6M657.51 366.32h0.6M659.97 364.44h0.6M658.22 370.54h0.6M657.08 367.23h0.6M654.04 367.28h0.6M659.52 365.84h0.6M646.63 368.26h0.6M655.16 368.48h0.6M656.51 371.87h0.6M648.96 364.46h0.6M659.16 363.38h0.6M657.64 366.72h0.6M645.23 369.97h0.6M663.44 366.92h0.6M648.37 370.07h0.6M650.09 367.05h0.6M657.89 364.28h0.6M646.51 367.29h0.6M655.36 364.27h0.6M651.75 369.61h0.6M655.2 365.49h0.6M652.61 367.73h0.6M656.29 366.33h0.6M648.12 366.42h0.6M652.4 367.42h0.6M662.38 369.32h0.6M659.34 366.95h0.6M654.13 368.11h0.6M653.12 366.08h0.6M651.21 367.14h0.6M655.88 372.67h0.6M658.71 365.47h0.6M659.88 365.07h0.6M661.5 368.84h0.6M671.22 362.17h0.6M655.37 366.59h0.6M657.6 368.97h0.6M650.32 365.12h0.6M657.7 369.76h0.6M649.3 362.64h0.6M662.22 368.97h0.6M661.41 363.39h0.6M654.78 367.7h0.6M658.15 366.33h0.6M655.8 370.05h0.6M653.31 365.43h0.6M653.34 365.54h0.6M656.45 366.2h0.6M653.82 371.49h0.6M657.33 365.73h0.6M662.45 364.62h0.6M655.77 366.62h0.6M652.61 366h0.6M655.87 362.48h0.6M653.78 367.85h0.6M657.36 367.69h0.6M668.51 367.85h0.6M655 366.6h0.6M655.9 368.24h0.6M654.62 371.64h0.6M650.07 369.35h0.6M658.17 363.19h0.6M659.29 368.3h0.6M653 374.25h0.6M659.49 365.57h0.6M653.05 364.87h0.6M657.18 366.97h0.6M648.01 364.4h0.6M651.88 366.01h0.6M653.69 365.04h0.6M659.44 369.48h0.6M655.6 360.21h0.6M655.1 368.67h0.6M655.43 367.76h0.6M655.93 362.33h0.6M642.52 369.96h0.6M653.12 368.4h0.6M654.12 366.52h0.6M662.72 362.63h0.6M655.43 363.59h0.6M656.28 368.3h0.6M659.27 367.05h0.6M648.52 368.28h0.6M660.77 369.49h0.6M667.27 367.61h0.6M650.24 365.79h0.6M656.5 370.03h0.6M649.96 370.19h0.6M658.99 363.96h0.6M658.79 364.3h0.6M655.67 365.98h0.6M656.72 363.22h0.6M657.99 360.08h0.6M653.47 365.37h0.6M664.26 367.79h0.6M652.96 364.42h0.6M655.79 364.98h0.6M666.87 357.47h0.6M655.47 359.43h0.6M661.06 363.99h0.6M664.12 364.5h0.6M661.56 367.01h0.6M662.04 366.42h0.6M639.84 366.08h0.6M647.78 370.48h0.6M658.63 366.67h0.6M658.24 367.28h0.6M653.27 373.08h0.6M657 366.2h0.6M647.85 365.7h0.6M655.8 366.35h0.6M653.24 366.97h0.6M649.83 367.44h0.6M647.36 365.01h0.6M652.1 369.87h0.6M658.39 366.9h0.6M649.58 366.22h0.6M660.35 370.32h0.6M647.86 366.28h0.6M656.45 367.91h0.6M656.01 368.92h0.6M648.54 372.29h0.6M649.74 367.61h0.6M658.88 370.2h0.6M660.83 369.13h0.6M662.54 365.86h0.6M660.2 371.24h0.6M651.43 363.03h0.6M650.87 371.67h0.6M662.33 365.26h0.6M657.26 368.25h0.6M660.92 360.73h0.6M652.81 366.4h0.6M657.57 367.02h0.6M654.25 367.96h0.6M643.01 377.48h0.6M660.48 369.25h0.6M652.48 368.51h0.6M667.29 371.52h0.6M655.95 363.14h0.6M656.67 365.96h0.6M660.09 362.66h0.6M654.96 367.86h0.6" stroke="#6a86f2" stroke-width="0.6" fill="none" opacity="0.55"/>
<path d="M647.89 371.35h0.6M648.01 365.56h0.6M648.19 370.85h0.6M649 367.41h0.6M650.35 369.77h0.6M648.28 369.07h0.6M648.49 370.35h0.6M649.82 367.06h0.6M648.64 367.78h0.6M649.58 369.99h0.6M647.96 368.21h0.6M649.1 371.73h0.6M648.57 373.78h0.6M648.84 370.75h0.6M649.18 366.42h0.6M649.1 370.16h0.6M649.62 369.41h0.6M649.08 366.84h0.6M648.46 369.99h0.6M652.4 361.26h0.6M649.59 371.79h0.6M650.99 370.31h0.6M650.48 368.09h0.6M648.77 370.2h0.6M647.84 366.65h0.6M650.18 365.76h0.6M650.03 365.35h0.6M649.48 369.08h0.6M648.77 366.46h0.6M649.53 363.32h0.6M648.49 369.1h0.6M651.36 368.11h0.6M648.18 372.27h0.6M652.2 368.35h0.6M650.24 372.17h0.6M650.51 366.72h0.6M647.38 370.03h0.6M652.99 369.3h0.6M650.7 374.1h0.6M647.5 367.06h0.6M651.08 371.84h0.6M650.06 369.1h0.6M650.51 367.62h0.6M653.77 366.98h0.6M646.23 368.7h0.6M651.74 368.23h0.6M649.62 366.43h0.6M649.59 366.44h0.6M648.34 365.01h0.6M647.34 373.31h0.6M648.99 369.4h0.6M653.08 368.16h0.6M647.31 369.88h0.6M647.04 369.34h0.6M651.59 366.7h0.6M647.46 372.92h0.6M647.84 366.92h0.6M649.72 368.25h0.6M646.99 372.56h0.6M648.08 369.56h0.6M648.64 368.24h0.6M646.5 370.74h0.6M647.83 371.92h0.6M647.57 367.36h0.6M649.89 369.38h0.6M648.2 368.39h0.6M647.07 368.64h0.6M644.85 368.46h0.6M650.88 371.59h0.6M650.76 368.21h0.6M650.17 368.13h0.6M649.09 368.67h0.6M643.31 370.06h0.6M649.47 371.16h0.6M647.3 370.32h0.6M651.11 363.64h0.6M646.33 368.47h0.6M648.12 368.68h0.6M647.38 372.39h0.6M646.85 364.96h0.6M648.33 365.27h0.6M648.27 368.67h0.6M646.84 369.38h0.6M650.71 372.07h0.6M651.8 372.41h0.6M648.2 373.3h0.6M649.33 373.78h0.6M649.97 363.74h0.6M647.22 369h0.6M650.17 368.64h0.6M651.39 366.49h0.6M647.55 371.15h0.6M649.22 369.22h0.6M650.87 372.13h0.6M647.81 369.2h0.6M646.47 368.37h0.6M650.72 364.87h0.6M650.65 374.41h0.6M649.51 371.42h0.6M651.69 369.08h0.6M650.66 370.29h0.6M647.22 366.26h0.6M647.73 371.43h0.6M648.84 371.45h0.6M649.11 365.71h0.6M651.09 376.38h0.6M649.92 368.65h0.6M651.68 366.7h0.6M649.61 365.42h0.6M649.85 369.78h0.6M648.9 367.27h0.6M647.2 366.46h0.6M651.36 368.56h0.6M651.67 367.31h0.6M649.31 367.85h0.6M648.38 370.8h0.6M645.53 370.12h0.6M650.31 369.25h0.6M649.44 368.49h0.6M650.28 369.38h0.6M647.77 369.09h0.6M650.54 370.24h0.6M649.14 369.52h0.6M648.65 367.71h0.6M646.29 367.92h0.6M650.98 368.39h0.6M647.29 370.89h0.6M649.39 369.41h0.6M649.59 370.87h0.6M649.57 366.96h0.6M651.95 369.74h0.6M647.88 369.2h0.6M651.84 365.96h0.6M651.36 369.12h0.6M652.04 371.31h0.6M648.39 372.03h0.6M651.41 368.59h0.6M649.84 367.83h0.6M651.39 365.9h0.6M650.02 363.77h0.6M651.29 363.79h0.6M647.39 369.3h0.6M648.87 367.81h0.6M647.91 367.55h0.6M646.25 369.2h0.6M650.09 371.13h0.6M648.52 371.97h0.6M649.45 371.49h0.6M649.81 369.23h0.6M649.36 362.37h0.6M650.29 368.95h0.6M653.38 364.88h0.6M651.03 367h0.6M649.66 366.87h0.6M649.77 369.06h0.6M650.52 369.66h0.6M649.31 372.27h0.6M650.1 368.86h0.6M651.23 369.16h0.6M650.02 368.38h0.6M649.7 361.53h0.6M650.9 366.46h0.6M649.44 373.63h0.6M646.67 370.7h0.6M648.82 370.09h0.6M647.3 368.69h0.6M648.72 372.53h0.6M652.44 370.5h0.6M647.49 374.27h0.6M649.07 368.85h0.6M649.13 370.19h0.6M650.63 367.88h0.6M648.07 373.54h0.6M651.52 370.65h0.6M649.76 368.57h0.6M651.1 368.13h0.6M649.65 367.98h0.6M648.21 368.92h0.6M649.52 367.64h0.6M649.08 369.19h0.6M648.81 367.3h0.6M648.64 370.69h0.6M650.87 369.87h0.6M648.81 368.88h0.6M651.77 371.9h0.6M647.74 368.6h0.6M648.57 367.99h0.6M646.54 368.55h0.6M647.37 367.17h0.6M651.1 371.97h0.6M648.38 366.26h0.6M648.75 364.18h0.6M647.81 368.07h0.6M647.17 370.53h0.6M649.41 367.75h0.6M651.62 371.35h0.6M648.38 373.55h0.6M651.66 367.79h0.6M649.96 368.1h0.6M645.97 373.17h0.6M652.25 366.48h0.6M650.85 365.24h0.6M650.95 369.29h0.6M648.11 372.01h0.6M649.37 368.43h0.6M650.83 368.63h0.6M650.61 369.35h0.6M650.21 370.86h0.6M651 366.87h0.6M652.3 369.3h0.6" stroke="#2b35d8" stroke-width="0.6" fill="none" opacity="0.8"/>
<path d="M664.49 366.85h0.6M658.16 368.14h0.6M662.62 367.38h0.6M660.08 365.08h0.6M657.6 369.26h0.6M658.37 364.55h0.6M660.46 366.38h0.6M665.15 367.68h0.6M666.33 369.48h0.6M660.43 367.46h0.6M658.79 369.67h0.6M653.1 371.37h0.6M655.32 368.39h0.6M650.51 370.4h0.6M661.48 369.06h0.6M660.02 367.73h0.6M659.78 371.26h0.6M657.81 369.87h0.6M661.33 367.92h0.6M659.86 369.05h0.6M657.96 374.15h0.6M658.02 372.54h0.6M662.07 363.84h0.6M660.06 370.85h0.6M661.48 366.41h0.6M659.65 365.91h0.6M655.71 368.39h0.6M659.97 372.14h0.6M660.41 370.89h0.6M655.02 366.4h0.6M657.85 372.66h0.6M654.49 365.49h0.6M659.05 371.3h0.6M653.81 368.53h0.6M655.01 372.23h0.6M661.32 369.05h0.6M658.86 368.12h0.6M659.37 367.15h0.6M656.02 366.4h0.6M658.93 366.85h0.6M661.43 363.71h0.6M660.97 369.66h0.6M662.88 367.73h0.6M654.07 366.99h0.6M662.6 367.63h0.6M657.61 367.44h0.6M658.79 368.13h0.6M653.95 367.73h0.6M662.54 371.57h0.6M658.55 367.51h0.6M663.34 367.85h0.6M655.25 368.67h0.6M661.56 371.9h0.6M657.58 369.96h0.6M658.2 371.26h0.6M659.91 369.13h0.6M655.83 368.18h0.6M657.3 360.68h0.6M661.77 368.36h0.6M658.3 367.87h0.6M659.16 369.15h0.6M654.88 369.26h0.6M659.4 368.65h0.6M654.25 368.72h0.6M654.99 369.75h0.6M663.41 370.19h0.6M657.84 367.51h0.6M657.29 369.55h0.6M656.8 367.61h0.6M650.84 367.42h0.6M656.42 367.63h0.6M662.64 365.25h0.6M654.89 370.32h0.6M655.85 368.52h0.6M659.58 368.6h0.6M656.72 370.88h0.6M663.62 365.96h0.6M658.34 370.78h0.6M658.16 366.44h0.6M657.81 370.59h0.6M655.89 369.46h0.6M660.11 367.05h0.6M660.96 369.94h0.6M662.39 370.41h0.6M654.43 371.02h0.6M661.07 370.63h0.6M656.48 370.86h0.6M659.98 365.93h0.6M662.93 366.52h0.6M655.86 369.78h0.6M657.16 369.59h0.6M658.3 369.31h0.6M661.62 368.31h0.6M661.96 370.26h0.6M656.52 370.75h0.6M661.03 368.74h0.6M662.92 371.99h0.6M661.17 365.14h0.6M660.43 368.2h0.6M658.24 369.46h0.6M658.31 372.34h0.6M659.92 368.59h0.6M661.7 370.19h0.6M662.94 369.7h0.6M658.96 368.94h0.6M651.88 365.97h0.6M662.3 367.61h0.6M665.18 372.13h0.6M655.12 369.67h0.6M668.1 366.08h0.6M660.27 368.01h0.6M658.23 368.08h0.6M659.15 370.33h0.6M656.59 369.98h0.6M656.91 369.99h0.6M659.91 366.82h0.6M659.36 366.96h0.6M656.59 371.47h0.6M653.36 370.38h0.6M661.2 367.12h0.6M662.71 370.35h0.6M655.03 370.16h0.6M660.41 366.86h0.6M661.04 370.14h0.6M656.37 364.4h0.6M660.2 366.87h0.6M653.5 368.26h0.6M651.4 368.55h0.6M663.29 361.88h0.6M660.34 366.45h0.6M657.57 366.72h0.6M661.09 368.43h0.6M656.31 365.94h0.6M657.92 371.32h0.6M655.26 369.9h0.6M659.75 364.09h0.6M662.58 368.24h0.6M666.53 371.88h0.6M658.23 368.36h0.6M655.57 365.85h0.6M661.56 367.85h0.6M657.74 368.37h0.6M661.42 370.55h0.6M659.03 368.2h0.6M659.8 373.24h0.6M652.17 366.63h0.6M660.62 368.83h0.6M663.27 371.23h0.6M665.27 366.29h0.6M660.99 367.94h0.6M662.23 368.78h0.6M661.77 366.73h0.6M659.5 367.45h0.6M658.15 367.7h0.6M655.98 371.44h0.6M660.24 371.01h0.6M655.49 364.54h0.6M656.97 368.49h0.6M661.83 370.8h0.6M663.32 371.76h0.6M661.45 368.69h0.6M656.76 370.41h0.6M657.31 366.98h0.6M661.02 368.98h0.6M661.71 366.8h0.6M662.93 369.13h0.6M658.39 367h0.6M655.35 365.89h0.6M663.33 365.07h0.6M661.08 367.92h0.6M657.14 367.75h0.6M658.96 370.71h0.6M660.91 368.49h0.6M654.32 365.03h0.6M664.92 365.86h0.6M654.25 371.62h0.6M654.4 370.74h0.6M662.14 368.95h0.6M661.92 365.25h0.6M655.1 368.56h0.6M659.06 368.46h0.6M660.44 366.86h0.6M652.28 370.16h0.6M658.51 370.54h0.6M665.81 368.24h0.6M660.78 366.47h0.6M662.08 369.15h0.6M660.06 370.63h0.6M655.54 370.23h0.6M660.87 372.09h0.6M653.23 368.95h0.6M666.07 367.11h0.6M658.02 372.78h0.6M667.19 368.2h0.6M656.65 367.51h0.6M657.63 366.85h0.6M656.5 369.26h0.6M659.29 369.7h0.6M658.92 365.91h0.6M661.5 368.99h0.6M657.14 368.19h0.6M660.12 368.73h0.6M658.8 370.4h0.6M662.44 367.63h0.6M658.78 366.15h0.6M658.62 369.76h0.6M661.89 368.77h0.6M658.64 367.05h0.6M659.55 366.12h0.6M659.48 368.65h0.6M656.21 369.63h0.6M658.49 370.05h0.6M657.6 369.86h0.6M664.14 368.6h0.6M661.48 366.97h0.6M657.55 364.5h0.6M658.35 366.14h0.6M659.02 363.97h0.6M656.3 369.06h0.6M659.99 364.8h0.6M658.23 374.5h0.6M661.63 368.77h0.6M650 367.34h0.6M660.78 369.01h0.6M660.71 370.65h0.6M659.54 370.51h0.6M653.77 374.75h0.6M657.97 367.26h0.6M664 369.56h0.6M662.06 366.97h0.6M660.1 370.14h0.6M655.34 368.46h0.6M658.2 368.04h0.6M656.54 366h0.6M660.48 369.05h0.6M662.75 368.14h0.6M656.6 365.56h0.6M659.25 367.9h0.6M665.97 373.2h0.6M663.94 366.15h0.6M654.5 368.49h0.6M656.44 372.06h0.6M659.33 367.68h0.6M659.24 371.44h0.6M656.09 369.98h0.6M654.74 368.53h0.6M656.97 369.51h0.6M659.77 371.26h0.6M661.12 367.07h0.6M654.61 367.16h0.6M657.61 368.22h0.6M656.8 371.25h0.6M661.98 367.74h0.6M657.39 368.22h0.6M658.88 368.58h0.6M653.74 368.1h0.6M653 369.22h0.6M660.99 366.04h0.6M659.43 367.19h0.6M657.17 373.21h0.6M661.98 369.45h0.6M657.7 369.66h0.6M658.49 369.68h0.6M656.11 368.7h0.6M657.47 365.55h0.6M664.62 369.97h0.6M656.19 365.54h0.6M656.52 366.93h0.6M656.76 365.39h0.6M656.36 368.98h0.6M659.95 364.05h0.6M658.81 366.39h0.6M655.59 368.18h0.6M656.94 370.37h0.6M661.21 367.72h0.6M657.29 372.81h0.6M665.11 368.95h0.6M658.71 370.92h0.6M663.59 367.01h0.6M664.81 367.74h0.6M662.44 367.14h0.6M659.14 367.56h0.6M659.3 370.89h0.6M656.05 368.19h0.6M660.68 367.4h0.6M665.31 364.73h0.6M667.1 366.4h0.6M662.48 371.98h0.6M660.46 365.27h0.6M657.94 368.86h0.6M661.04 370.67h0.6M662.95 371.62h0.6M656.11 371.12h0.6M653.37 369.44h0.6M655.18 364.87h0.6M661.99 368.27h0.6M661.91 364.73h0.6M655.02 368.72h0.6M656.85 368.96h0.6M656.91 368.01h0.6M655.54 371.84h0.6M657.73 366.01h0.6M661.32 369.51h0.6M659.76 369.05h0.6M657.69 368.42h0.6M651.48 365.7h0.6M655.05 369.6h0.6M662.96 367.88h0.6M658.36 371.24h0.6M657.95 370.2h0.6M660.15 365.46h0.6M660.07 368.98h0.6M655.05 366.58h0.6M655.12 372.09h0.6M666.04 369.61h0.6M663.86 365.09h0.6M664 372.69h0.6M664.1 366h0.6M662.53 368.03h0.6M662.4 366.83h0.6M658.94 367.3h0.6M660.54 368.24h0.6M662.81 370.17h0.6M660.36 368.4h0.6M658.02 368.7h0.6M661.49 368.69h0.6M659.95 368.44h0.6M658.63 367.11h0.6M652.98 370.45h0.6M660.65 366.23h0.6M665.04 365.39h0.6M662.33 368.9h0.6M660.27 371.11h0.6M662.04 368.4h0.6M655.3 366.12h0.6M659.95 372.16h0.6M661.89 368.28h0.6M660.23 370.08h0.6M664.5 366.38h0.6M661.45 369.04h0.6M656.32 366.5h0.6M663.24 369h0.6M658.35 368.9h0.6M662.25 368.54h0.6M664.23 367.56h0.6M656.42 368.58h0.6M655.87 368.08h0.6M663.38 372.16h0.6M661.13 368.88h0.6M655.84 366.58h0.6M660.26 368.89h0.6M657.03 367.76h0.6M664.33 370.43h0.6M659.24 369.12h0.6M663.28 369.07h0.6M659.49 364.94h0.6M653.1 364.73h0.6M651.62 369.23h0.6M659.93 366.52h0.6M660.55 369.5h0.6" stroke="#2b35d8" stroke-width="0.6" fill="none" opacity="0.8"/>
<path d="M649.49 367.23h0.6M650.08 371.72h0.6M647.94 372.13h0.6M649.39 368.27h0.6M649.28 366.61h0.6M649.26 366.99h0.6M650.11 370.11h0.6M647.57 369.96h0.6M647.38 369.28h0.6M649.55 369.61h0.6M648.04 369.01h0.6M648.91 369.46h0.6M650.03 372.2h0.6M650.84 368.81h0.6M648.36 369.28h0.6M650.17 366.48h0.6M647.94 371.91h0.6M648.12 368.07h0.6M648.26 369.97h0.6M649.14 368.92h0.6M647.43 369.98h0.6M649.31 368.43h0.6M648.88 370.57h0.6M648.14 366.82h0.6M648.37 367.91h0.6M646.31 367.88h0.6M650.29 369.15h0.6M650.99 365.39h0.6M648.56 371.41h0.6M650.8 368.99h0.6M648.17 369.79h0.6M648.02 368.61h0.6M647.44 369.17h0.6M648.6 371.79h0.6M649.66 368.51h0.6M649.41 367.49h0.6M649.2 369.09h0.6M649.22 370.86h0.6M647.04 369.46h0.6M650.2 367.79h0.6M651.19 368.74h0.6M651.27 371.07h0.6M649.96 370h0.6M650.41 368.09h0.6M648.92 366.35h0.6M649.85 368.47h0.6M649.65 370.43h0.6M647.57 370.15h0.6M649.29 369.75h0.6M649.56 369.46h0.6M648.78 370.95h0.6M648.5 367.42h0.6M648.03 370.76h0.6M648.19 372.15h0.6M646.3 367.71h0.6M648.58 369.7h0.6M650.47 369.4h0.6M647.84 370.42h0.6M651.42 365.96h0.6M649.58 369.96h0.6M648.43 368.53h0.6M649.37 369.5h0.6M649.22 367.63h0.6M649.59 368.48h0.6M649.37 368.55h0.6M649.06 370.54h0.6M649.12 370.41h0.6M647.59 369.79h0.6M649.58 368.54h0.6M649.81 365.25h0.6" stroke="#35c86a" stroke-width="0.6" fill="none" opacity="0.95"/>
<path d="M658.94 368.45h0.6M653.42 370.13h0.6M657.29 369.49h0.6M658.27 369.67h0.6M658.97 368.6h0.6M660.07 369.97h0.6M653.37 369.5h0.6M657.24 367.68h0.6M662.02 369.97h0.6M656.18 367.76h0.6M660.67 368.01h0.6M657.78 366.51h0.6M658.59 370.49h0.6M657.67 368.94h0.6M663.06 369.77h0.6M662.26 369.51h0.6M661.47 366.58h0.6M656.63 367.02h0.6M664.12 368.76h0.6M658.4 368.04h0.6M656.04 365.57h0.6M664.14 368.42h0.6M658.77 367.16h0.6M658.68 369.49h0.6M658.66 369.81h0.6M656.81 369.59h0.6M660.98 369.53h0.6M659.68 368.78h0.6M656.48 369.91h0.6M657.74 367.85h0.6M660.43 366.75h0.6M657.53 370.11h0.6M661 368.31h0.6M658.99 369.68h0.6M658.53 368.01h0.6M659.84 369.11h0.6M659.16 370.41h0.6M659.46 368.33h0.6M659.39 371.47h0.6M657.03 368.8h0.6M656.9 369.62h0.6M655.81 369.83h0.6M660.51 367.83h0.6M656.58 367.24h0.6M658.76 367.53h0.6M657.24 368.58h0.6M657.23 370.22h0.6M662.36 365.9h0.6M656.87 369.49h0.6M656.2 368.52h0.6M659.44 370.75h0.6M661.56 368.37h0.6M659.05 368.49h0.6M658.23 367.51h0.6M654.51 368.89h0.6M661.21 369.78h0.6M654.3 369.13h0.6M657.31 369.5h0.6M656.26 370.41h0.6M658.36 369.78h0.6M660.66 366.3h0.6M658.44 371h0.6M658.95 370.34h0.6M659.74 368.26h0.6M659.58 370.3h0.6M662.03 370.6h0.6M656.24 370.3h0.6M655.48 369.11h0.6M658.36 369.85h0.6M659.68 370.55h0.6M657.42 370.21h0.6M659.72 368.92h0.6M655.99 369.98h0.6M659.63 369.95h0.6M658.67 368.67h0.6M659.77 369.51h0.6M660.65 371.3h0.6M657.54 371.72h0.6M651.83 370.86h0.6M657.06 371.76h0.6M656.79 370.55h0.6M656.3 367.74h0.6M660.81 369.95h0.6M657.39 372.25h0.6M658.2 371.08h0.6M656.27 367.96h0.6M658.89 367.67h0.6M659.64 366.13h0.6M659.15 368.23h0.6M656.53 369.47h0.6M658.21 368.46h0.6M660.76 369.21h0.6M659.85 370.63h0.6M658.71 370.09h0.6M657.87 369.87h0.6M659.99 368.18h0.6M655.04 367.66h0.6M656.61 369.91h0.6M658.44 368.64h0.6M660.01 369.84h0.6M662.05 367.94h0.6M660.18 369.8h0.6M656.54 369.36h0.6M656.59 368.9h0.6M659.6 366.72h0.6M656.63 368.14h0.6M658.93 368.03h0.6M659.59 367.81h0.6M657.63 369.88h0.6M659.57 369.13h0.6" stroke="#35c86a" stroke-width="0.6" fill="none" opacity="0.9"/>
<path d="M648.81 370.37h0.6M649.86 369.48h0.6M648.75 368.7h0.6M650.16 369.12h0.6M648.18 369.64h0.6M649.82 368.77h0.6M649.16 368.47h0.6M648.32 370.78h0.6M649.14 369.42h0.6M648.99 369.83h0.6M649.14 368.66h0.6M647.98 371.01h0.6M648.36 370.43h0.6M648.37 370.52h0.6M649.44 369.52h0.6M650.33 369.12h0.6M649 368.9h0.6M648.61 369.22h0.6M648.5 369.23h0.6M650.21 368.44h0.6" stroke="#e8e040" stroke-width="0.6" fill="none" opacity="0.95"/>
<path d="M656.87 368.51h0.6M658.18 369.96h0.6M659.9 369.38h0.6M659.27 370.97h0.6M657.04 368.33h0.6M658.77 369.27h0.6M658.39 368.46h0.6M656.84 369.05h0.6M657.71 368.81h0.6M657.29 370.3h0.6M659.6 370.51h0.6M658.04 369.21h0.6M658.43 369.15h0.6M658.41 369h0.6M655.85 369.14h0.6M659.69 367.47h0.6M658.32 369.6h0.6M660.67 368.87h0.6M659.6 370.43h0.6M660.69 368.57h0.6M657.97 369.98h0.6M659.09 368.64h0.6" stroke="#e8e040" stroke-width="0.6" fill="none" opacity="0.95"/>
<path d="M654.9 353.9L683.9 353.5L683.9 376.6L651 376.8Z" fill="none" stroke="#444" stroke-width="0.7" stroke-linejoin="round"/>
</g>
<g class="tx">
<text class="tn" x="115.3" y="63.9" font-size="4.2" fill="#111" stroke="#111" stroke-width="0.12">B12 RH-CD19-C</text>
<text class="tn" x="115.3" y="68.4" font-size="4.2" fill="#111" stroke="#111" stroke-width="0.12">Gate: R1</text>
<text class="tn" x="114.5" y="135.8" font-size="2.9" fill="#4040f3" text-anchor="middle" transform="rotate(-40 114.5 135.8)">10</text>
<text class="tn" x="123.1" y="135.8" font-size="2.9" fill="#4040f3" text-anchor="middle" transform="rotate(-40 123.1 135.8)">10</text>
<text class="tn" x="131.7" y="135.8" font-size="2.9" fill="#4040f3" text-anchor="middle" transform="rotate(-40 131.7 135.8)">10</text>
<text class="tn" x="140.3" y="135.8" font-size="2.9" fill="#4040f3" text-anchor="middle" transform="rotate(-40 140.3 135.8)">10</text>
<text class="tn" x="148.9" y="135.8" font-size="2.9" fill="#4040f3" text-anchor="middle" transform="rotate(-40 148.9 135.8)">10</text>
<text class="tn" x="157.5" y="135.8" font-size="2.9" fill="#4040f3" text-anchor="middle" transform="rotate(-40 157.5 135.8)">10</text>
<text class="tn" x="166.1" y="135.8" font-size="2.9" fill="#4040f3" text-anchor="middle" transform="rotate(-40 166.1 135.8)">10</text>
<text class="tn" x="174.7" y="135.8" font-size="2.9" fill="#4040f3" text-anchor="middle" transform="rotate(-40 174.7 135.8)">10</text>
<text class="tn" x="112" y="130.4" font-size="3.0" fill="#4040f3" text-anchor="middle" font-weight="bold" transform="rotate(-90 112 130.4)">0</text>
<text class="tn" x="112" y="111.1" font-size="3.0" fill="#4040f3" text-anchor="middle" font-weight="bold" transform="rotate(-90 112 111.1)">2,000</text>
<text class="tn" x="112" y="91.9" font-size="3.0" fill="#4040f3" text-anchor="middle" font-weight="bold" transform="rotate(-90 112 91.9)">4,000</text>
<text class="tn" x="112" y="69.9" font-size="3.0" fill="#4040f3" text-anchor="middle" font-weight="bold" transform="rotate(-90 112 69.9)">5,400</text>
<text class="tn" x="106.8" y="106" font-size="3.4" fill="#222" text-anchor="middle" transform="rotate(-90 106.8 106)">Count</text>
<text class="tn" x="145.4" y="138.6" font-size="2.9" fill="#222" text-anchor="middle">PE-H</text>
<text class="tn" x="156.8" y="91.7" font-size="4.1" fill="#e63548" stroke="#e63548" stroke-width="0.1">M3</text>
<text class="tn" x="157.8" y="96.2" font-size="4.1" fill="#e63548" stroke="#e63548" stroke-width="0.1">1.3%</text>
<text class="tn" x="190.9" y="65.3" font-size="4.2" fill="#111" stroke="#111" stroke-width="0.12">C01 RH-CD19-H3 1&amp;4</text>
<text class="tn" x="190.9" y="69.8" font-size="4.2" fill="#111" stroke="#111" stroke-width="0.12">Gate: R1</text>
<text class="tn" x="190.1" y="136.4" font-size="2.9" fill="#4040f3" text-anchor="middle" transform="rotate(-40 190.1 136.4)">10</text>
<text class="tn" x="198.73" y="136.4" font-size="2.9" fill="#4040f3" text-anchor="middle" transform="rotate(-40 198.73 136.4)">10</text>
<text class="tn" x="207.36" y="136.4" font-size="2.9" fill="#4040f3" text-anchor="middle" transform="rotate(-40 207.36 136.4)">10</text>
<text class="tn" x="215.99" y="136.4" font-size="2.9" fill="#4040f3" text-anchor="middle" transform="rotate(-40 215.99 136.4)">10</text>
<text class="tn" x="224.61" y="136.4" font-size="2.9" fill="#4040f3" text-anchor="middle" transform="rotate(-40 224.61 136.4)">10</text>
<text class="tn" x="233.24" y="136.4" font-size="2.9" fill="#4040f3" text-anchor="middle" transform="rotate(-40 233.24 136.4)">10</text>
<text class="tn" x="241.87" y="136.4" font-size="2.9" fill="#4040f3" text-anchor="middle" transform="rotate(-40 241.87 136.4)">10</text>
<text class="tn" x="250.5" y="136.4" font-size="2.9" fill="#4040f3" text-anchor="middle" transform="rotate(-40 250.5 136.4)">10</text>
<text class="tn" x="187.6" y="130.8" font-size="3.0" fill="#4040f3" text-anchor="middle" font-weight="bold" transform="rotate(-90 187.6 130.8)">0</text>
<text class="tn" x="187.6" y="111.8" font-size="3.0" fill="#4040f3" text-anchor="middle" font-weight="bold" transform="rotate(-90 187.6 111.8)">500</text>
<text class="tn" x="187.6" y="93.1" font-size="3.0" fill="#4040f3" text-anchor="middle" font-weight="bold" transform="rotate(-90 187.6 93.1)">1,000</text>
<text class="tn" x="187.6" y="71.5" font-size="3.0" fill="#4040f3" text-anchor="middle" font-weight="bold" transform="rotate(-90 187.6 71.5)">1,500</text>
<text class="tn" x="182.4" y="107" font-size="3.4" fill="#222" text-anchor="middle" transform="rotate(-90 182.4 107)">Count</text>
<text class="tn" x="221.1" y="139.2" font-size="2.9" fill="#222" text-anchor="middle">PE-H</text>
<text class="tn" x="232.5" y="92.2" font-size="4.1" fill="#e63548" stroke="#e63548" stroke-width="0.1">M3</text>
<text class="tn" x="233.5" y="96.7" font-size="4.1" fill="#e63548" stroke="#e63548" stroke-width="0.1">64.3%</text>
<text class="tn" x="267.3" y="66.4" font-size="4.2" fill="#111" stroke="#111" stroke-width="0.12">C02 RH-CD19-H3 1&amp;20</text>
<text class="tn" x="267.3" y="70.9" font-size="4.2" fill="#111" stroke="#111" stroke-width="0.12">Gate: R1</text>
<text class="tn" x="266.5" y="137.9" font-size="2.9" fill="#4040f3" text-anchor="middle" transform="rotate(-40 266.5 137.9)">10</text>
<text class="tn" x="275.03" y="137.9" font-size="2.9" fill="#4040f3" text-anchor="middle" transform="rotate(-40 275.03 137.9)">10</text>
<text class="tn" x="283.56" y="137.9" font-size="2.9" fill="#4040f3" text-anchor="middle" transform="rotate(-40 283.56 137.9)">10</text>
<text class="tn" x="292.09" y="137.9" font-size="2.9" fill="#4040f3" text-anchor="middle" transform="rotate(-40 292.09 137.9)">10</text>
<text class="tn" x="300.61" y="137.9" font-size="2.9" fill="#4040f3" text-anchor="middle" transform="rotate(-40 300.61 137.9)">10</text>
<text class="tn" x="309.14" y="137.9" font-size="2.9" fill="#4040f3" text-anchor="middle" transform="rotate(-40 309.14 137.9)">10</text>
<text class="tn" x="317.67" y="137.9" font-size="2.9" fill="#4040f3" text-anchor="middle" transform="rotate(-40 317.67 137.9)">10</text>
<text class="tn" x="326.2" y="137.9" font-size="2.9" fill="#4040f3" text-anchor="middle" transform="rotate(-40 326.2 137.9)">10</text>
<text class="tn" x="264" y="132.1" font-size="3.0" fill="#4040f3" text-anchor="middle" font-weight="bold" transform="rotate(-90 264 132.1)">0</text>
<text class="tn" x="264" y="112.8" font-size="3.0" fill="#4040f3" text-anchor="middle" font-weight="bold" transform="rotate(-90 264 112.8)">1,000</text>
<text class="tn" x="264" y="94" font-size="3.0" fill="#4040f3" text-anchor="middle" font-weight="bold" transform="rotate(-90 264 94)">2,000</text>
<text class="tn" x="264" y="75.3" font-size="3.0" fill="#4040f3" text-anchor="middle" font-weight="bold" transform="rotate(-90 264 75.3)">3,200</text>
<text class="tn" x="258.8" y="108.3" font-size="3.4" fill="#222" text-anchor="middle" transform="rotate(-90 258.8 108.3)">Count</text>
<text class="tn" x="297.15" y="140.7" font-size="2.9" fill="#222" text-anchor="middle">PE-H</text>
<text class="tn" x="308" y="93.3" font-size="4.1" fill="#e63548" stroke="#e63548" stroke-width="0.1">M3</text>
<text class="tn" x="309" y="97.8" font-size="4.1" fill="#e63548" stroke="#e63548" stroke-width="0.1">42.9%</text>
<text class="tn" x="344.4" y="65.3" font-size="4.2" fill="#111" stroke="#111" stroke-width="0.12">C03 RH-CD19-H3 1&amp;100</text>
<text class="tn" x="344.4" y="69.8" font-size="4.2" fill="#111" stroke="#111" stroke-width="0.12">Gate: R1</text>
<text class="tn" x="343.6" y="136.4" font-size="2.9" fill="#4040f3" text-anchor="middle" transform="rotate(-40 343.6 136.4)">10</text>
<text class="tn" x="352.17" y="136.4" font-size="2.9" fill="#4040f3" text-anchor="middle" transform="rotate(-40 352.17 136.4)">10</text>
<text class="tn" x="360.74" y="136.4" font-size="2.9" fill="#4040f3" text-anchor="middle" transform="rotate(-40 360.74 136.4)">10</text>
<text class="tn" x="369.31" y="136.4" font-size="2.9" fill="#4040f3" text-anchor="middle" transform="rotate(-40 369.31 136.4)">10</text>
<text class="tn" x="377.89" y="136.4" font-size="2.9" fill="#4040f3" text-anchor="middle" transform="rotate(-40 377.89 136.4)">10</text>
<text class="tn" x="386.46" y="136.4" font-size="2.9" fill="#4040f3" text-anchor="middle" transform="rotate(-40 386.46 136.4)">10</text>
<text class="tn" x="395.03" y="136.4" font-size="2.9" fill="#4040f3" text-anchor="middle" transform="rotate(-40 395.03 136.4)">10</text>
<text class="tn" x="403.6" y="136.4" font-size="2.9" fill="#4040f3" text-anchor="middle" transform="rotate(-40 403.6 136.4)">10</text>
<text class="tn" x="341.1" y="131" font-size="3.0" fill="#4040f3" text-anchor="middle" font-weight="bold" transform="rotate(-90 341.1 131)">0</text>
<text class="tn" x="341.1" y="112.4" font-size="3.0" fill="#4040f3" text-anchor="middle" font-weight="bold" transform="rotate(-90 341.1 112.4)">2,000</text>
<text class="tn" x="341.1" y="93.6" font-size="3.0" fill="#4040f3" text-anchor="middle" font-weight="bold" transform="rotate(-90 341.1 93.6)">4,000</text>
<text class="tn" x="341.1" y="70" font-size="3.0" fill="#4040f3" text-anchor="middle" font-weight="bold" transform="rotate(-90 341.1 70)">5,400</text>
<text class="tn" x="335.9" y="107" font-size="3.4" fill="#222" text-anchor="middle" transform="rotate(-90 335.9 107)">Count</text>
<text class="tn" x="374.4" y="139.2" font-size="2.9" fill="#222" text-anchor="middle">PE-H</text>
<text class="tn" x="385.8" y="92" font-size="4.1" fill="#e63548" stroke="#e63548" stroke-width="0.1">M3</text>
<text class="tn" x="386.8" y="96.5" font-size="4.1" fill="#e63548" stroke="#e63548" stroke-width="0.1">16.6%</text>
<text class="tn" x="152" y="219.87" font-size="3.9" fill="#333">FITC-A-</text>
<text class="tn" x="152" y="225.37" font-size="3.9" fill="#333">100.0</text>
<text class="tn" x="214" y="219.87" font-size="3.9" fill="#333" text-anchor="end">FITC-A+</text>
<text class="tn" x="214" y="225.37" font-size="3.9" fill="#333" text-anchor="end">0.016</text>
<text class="tn" x="146.9" y="220.09" font-size="3.1" fill="#333" text-anchor="end">400</text>
<text class="tn" x="146.9" y="236.09" font-size="3.1" fill="#333" text-anchor="end">300</text>
<text class="tn" x="146.9" y="252.09" font-size="3.1" fill="#333" text-anchor="end">200</text>
<text class="tn" x="146.9" y="269.69" font-size="3.1" fill="#333" text-anchor="end">100</text>
<text class="tn" x="146.9" y="285.38" font-size="3.1" fill="#333" text-anchor="end">0</text>
<text class="tn" x="153.5" y="292.88" font-size="3.1" fill="#333" text-anchor="middle" transform="rotate(-45 153.5 291.8)">10<tspan dy="-1.24" font-size="2.17">0</tspan></text>
<text class="tn" x="171.1" y="292.88" font-size="3.1" fill="#333" text-anchor="middle" transform="rotate(-45 171.1 291.8)">10<tspan dy="-1.24" font-size="2.17">2</tspan></text>
<text class="tn" x="190.6" y="292.88" font-size="3.1" fill="#333" text-anchor="middle" transform="rotate(-45 190.6 291.8)">10<tspan dy="-1.24" font-size="2.17">4</tspan></text>
<text class="tn" x="211" y="292.88" font-size="3.1" fill="#333" text-anchor="middle" transform="rotate(-45 211 291.8)">10<tspan dy="-1.24" font-size="2.17">6</tspan></text>
<text class="tn" x="272.7" y="221.97" font-size="3.9" fill="#333">FITC-A-</text>
<text class="tn" x="272.7" y="227.47" font-size="3.9" fill="#333">32.9</text>
<text class="tn" x="335.4" y="221.97" font-size="3.9" fill="#333" text-anchor="end">FITC-A+</text>
<text class="tn" x="335.4" y="227.47" font-size="3.9" fill="#333" text-anchor="end">67.1</text>
<text class="tn" x="267.6" y="228.59" font-size="3.1" fill="#333" text-anchor="end">60</text>
<text class="tn" x="267.6" y="248.59" font-size="3.1" fill="#333" text-anchor="end">40</text>
<text class="tn" x="267.6" y="269.08" font-size="3.1" fill="#333" text-anchor="end">20</text>
<text class="tn" x="267.6" y="287.88" font-size="3.1" fill="#333" text-anchor="end">0</text>
<text class="tn" x="275.5" y="294.78" font-size="3.1" fill="#333" text-anchor="middle" transform="rotate(-45 275.5 293.7)">10<tspan dy="-1.24" font-size="2.17">0</tspan></text>
<text class="tn" x="295" y="294.78" font-size="3.1" fill="#333" text-anchor="middle" transform="rotate(-45 295 293.7)">10<tspan dy="-1.24" font-size="2.17">2</tspan></text>
<text class="tn" x="314" y="294.78" font-size="3.1" fill="#333" text-anchor="middle" transform="rotate(-45 314 293.7)">10<tspan dy="-1.24" font-size="2.17">4</tspan></text>
<text class="tn" x="336" y="294.78" font-size="3.1" fill="#333" text-anchor="middle" transform="rotate(-45 336 293.7)">10<tspan dy="-1.24" font-size="2.17">6</tspan></text>
<text class="ts" x="544.3" y="53.42" font-size="3.5" fill="#111" font-weight="bold">FITC-A-</text>
<text class="ts" x="544.3" y="56.92" font-size="3.5" fill="#111" font-weight="bold">99.0</text>
<text class="ts" x="594.9" y="53.42" font-size="3.5" fill="#111" text-anchor="end" font-weight="bold">FITC-A+</text>
<text class="ts" x="594.9" y="56.92" font-size="3.5" fill="#111" text-anchor="end" font-weight="bold">0.097</text>
<text class="ts" x="541" y="53.61" font-size="2.6" fill="#111" text-anchor="end" font-weight="bold">300</text>
<text class="ts" x="541" y="71.61" font-size="2.6" fill="#111" text-anchor="end" font-weight="bold">200</text>
<text class="ts" x="541" y="89.41" font-size="2.6" fill="#111" text-anchor="end" font-weight="bold">100</text>
<text class="ts" x="541" y="107.01" font-size="2.6" fill="#111" text-anchor="end" font-weight="bold">0</text>
<text class="ts" x="546.2" y="112.21" font-size="2.6" fill="#111" text-anchor="middle" font-weight="bold">10<tspan dy="-1.04" font-size="1.82">1</tspan></text>
<text class="ts" x="561.8" y="112.21" font-size="2.6" fill="#111" text-anchor="middle" font-weight="bold">10<tspan dy="-1.04" font-size="1.82">3</tspan></text>
<text class="ts" x="577.6" y="112.21" font-size="2.6" fill="#111" text-anchor="middle" font-weight="bold">10<tspan dy="-1.04" font-size="1.82">5</tspan></text>
<text class="ts" x="594.8" y="112.21" font-size="2.6" fill="#111" text-anchor="middle" font-weight="bold">10<tspan dy="-1.04" font-size="1.82">7</tspan></text>
<text class="ts" x="531.4" y="77.95" font-size="3.0" fill="#222" text-anchor="middle" font-weight="bold" transform="rotate(-90 531.4 77.95)">Count</text>
<text class="ts" x="572.45" y="119" font-size="2.9" fill="#222" text-anchor="middle" font-weight="bold">GFP</text>
<text class="ts" x="544.3" y="132.72" font-size="3.5" fill="#111" font-weight="bold">FITC-A-</text>
<text class="ts" x="544.3" y="136.22" font-size="3.5" fill="#111" font-weight="bold">34.3</text>
<text class="ts" x="594.9" y="132.72" font-size="3.5" fill="#111" text-anchor="end" font-weight="bold">FITC-A+</text>
<text class="ts" x="594.9" y="136.22" font-size="3.5" fill="#111" text-anchor="end" font-weight="bold">65.7</text>
<text class="ts" x="541" y="132.91" font-size="2.6" fill="#111" text-anchor="end" font-weight="bold">60</text>
<text class="ts" x="541" y="146.91" font-size="2.6" fill="#111" text-anchor="end" font-weight="bold">40</text>
<text class="ts" x="541" y="160.91" font-size="2.6" fill="#111" text-anchor="end" font-weight="bold">20</text>
<text class="ts" x="541" y="172.91" font-size="2.6" fill="#111" text-anchor="end" font-weight="bold">10</text>
<text class="ts" x="541" y="186.91" font-size="2.6" fill="#111" text-anchor="end" font-weight="bold">0</text>
<text class="ts" x="546.2" y="191.41" font-size="2.6" fill="#111" text-anchor="middle" font-weight="bold">10<tspan dy="-1.04" font-size="1.82">1</tspan></text>
<text class="ts" x="561.8" y="191.41" font-size="2.6" fill="#111" text-anchor="middle" font-weight="bold">10<tspan dy="-1.04" font-size="1.82">3</tspan></text>
<text class="ts" x="577.6" y="191.41" font-size="2.6" fill="#111" text-anchor="middle" font-weight="bold">10<tspan dy="-1.04" font-size="1.82">5</tspan></text>
<text class="ts" x="594.8" y="191.41" font-size="2.6" fill="#111" text-anchor="middle" font-weight="bold">10<tspan dy="-1.04" font-size="1.82">7</tspan></text>
<text class="ts" x="531.4" y="157.2" font-size="3.0" fill="#222" text-anchor="middle" font-weight="bold" transform="rotate(-90 531.4 157.2)">Count</text>
<text class="ts" x="572.45" y="198.2" font-size="2.9" fill="#222" text-anchor="middle" font-weight="bold">GFP</text>
<text class="ts" x="543.5" y="245.83" font-size="3.5" fill="#111" font-weight="bold">FITC-A-</text>
<text class="ts" x="543.5" y="249.33" font-size="3.5" fill="#111" font-weight="bold">98.5</text>
<text class="ts" x="594.7" y="245.83" font-size="3.5" fill="#111" text-anchor="end" font-weight="bold">FITC-A+</text>
<text class="ts" x="594.7" y="249.33" font-size="3.5" fill="#111" text-anchor="end" font-weight="bold">1.48</text>
<text class="ts" x="540.2" y="253.41" font-size="2.6" fill="#111" text-anchor="end" font-weight="bold">300</text>
<text class="ts" x="540.2" y="269.41" font-size="2.6" fill="#111" text-anchor="end" font-weight="bold">200</text>
<text class="ts" x="540.2" y="284.91" font-size="2.6" fill="#111" text-anchor="end" font-weight="bold">100</text>
<text class="ts" x="540.2" y="300.31" font-size="2.6" fill="#111" text-anchor="end" font-weight="bold">0</text>
<text class="ts" x="545" y="304.61" font-size="2.6" fill="#111" text-anchor="middle" font-weight="bold">10<tspan dy="-1.04" font-size="1.82">1</tspan></text>
<text class="ts" x="560.6" y="304.61" font-size="2.6" fill="#111" text-anchor="middle" font-weight="bold">10<tspan dy="-1.04" font-size="1.82">3</tspan></text>
<text class="ts" x="576.4" y="304.61" font-size="2.6" fill="#111" text-anchor="middle" font-weight="bold">10<tspan dy="-1.04" font-size="1.82">5</tspan></text>
<text class="ts" x="593.6" y="304.61" font-size="2.6" fill="#111" text-anchor="middle" font-weight="bold">10<tspan dy="-1.04" font-size="1.82">7</tspan></text>
<text class="ts" x="530.6" y="270.35" font-size="3.0" fill="#222" text-anchor="middle" font-weight="bold" transform="rotate(-90 530.6 270.35)">Count</text>
<text class="ts" x="571.95" y="311.4" font-size="2.9" fill="#222" text-anchor="middle" font-weight="bold">FITC</text>
<text class="ts" x="543.5" y="325.13" font-size="3.5" fill="#111" font-weight="bold">FITC-A-</text>
<text class="ts" x="543.5" y="328.63" font-size="3.5" fill="#111" font-weight="bold">28.4</text>
<text class="ts" x="594.7" y="325.13" font-size="3.5" fill="#111" text-anchor="end" font-weight="bold">FITC-A+</text>
<text class="ts" x="594.7" y="328.63" font-size="3.5" fill="#111" text-anchor="end" font-weight="bold">71.6</text>
<text class="ts" x="540.2" y="323.41" font-size="2.6" fill="#111" text-anchor="end" font-weight="bold">50</text>
<text class="ts" x="540.2" y="334.91" font-size="2.6" fill="#111" text-anchor="end" font-weight="bold">40</text>
<text class="ts" x="540.2" y="346.41" font-size="2.6" fill="#111" text-anchor="end" font-weight="bold">30</text>
<text class="ts" x="540.2" y="357.91" font-size="2.6" fill="#111" text-anchor="end" font-weight="bold">20</text>
<text class="ts" x="540.2" y="368.91" font-size="2.6" fill="#111" text-anchor="end" font-weight="bold">10</text>
<text class="ts" x="540.2" y="380.41" font-size="2.6" fill="#111" text-anchor="end" font-weight="bold">0</text>
<text class="ts" x="545" y="384.61" font-size="2.6" fill="#111" text-anchor="middle" font-weight="bold">10<tspan dy="-1.04" font-size="1.82">1</tspan></text>
<text class="ts" x="560.6" y="384.61" font-size="2.6" fill="#111" text-anchor="middle" font-weight="bold">10<tspan dy="-1.04" font-size="1.82">3</tspan></text>
<text class="ts" x="576.4" y="384.61" font-size="2.6" fill="#111" text-anchor="middle" font-weight="bold">10<tspan dy="-1.04" font-size="1.82">5</tspan></text>
<text class="ts" x="593.6" y="384.61" font-size="2.6" fill="#111" text-anchor="middle" font-weight="bold">10<tspan dy="-1.04" font-size="1.82">7</tspan></text>
<text class="ts" x="530.6" y="350" font-size="3.0" fill="#222" text-anchor="middle" font-weight="bold" transform="rotate(-90 530.6 350)">Count</text>
<text class="ts" x="571.95" y="391.4" font-size="2.9" fill="#222" text-anchor="middle" font-weight="bold">FITC</text>
<text class="tn" x="144.6" y="313.08" font-size="3.1" fill="#333" text-anchor="end">1.2M</text>
<text class="tn" x="144.6" y="330.08" font-size="3.1" fill="#333" text-anchor="end">900K</text>
<text class="tn" x="144.6" y="347.58" font-size="3.1" fill="#333" text-anchor="end">600K</text>
<text class="tn" x="144.6" y="365.08" font-size="3.1" fill="#333" text-anchor="end">300K</text>
<text class="tn" x="144.6" y="381.88" font-size="3.1" fill="#333" text-anchor="end">0</text>
<text class="tn" x="151.25" y="389.83" font-size="3.1" fill="#333" text-anchor="middle" transform="rotate(-45 151.25 388.75)">10<tspan dy="-1.24" font-size="2.17">0</tspan></text>
<text class="tn" x="169.5" y="389.83" font-size="3.1" fill="#333" text-anchor="middle" transform="rotate(-45 169.5 388.75)">10<tspan dy="-1.24" font-size="2.17">2</tspan></text>
<text class="tn" x="190" y="389.83" font-size="3.1" fill="#333" text-anchor="middle" transform="rotate(-45 190 388.75)">10<tspan dy="-1.24" font-size="2.17">4</tspan></text>
<text class="tn" x="210" y="389.83" font-size="3.1" fill="#333" text-anchor="middle" transform="rotate(-45 210 388.75)">10<tspan dy="-1.24" font-size="2.17">6</tspan></text>
<text class="tn" x="199.6" y="313.82" font-size="4.05" fill="#444" text-anchor="middle">FITC-A, SSC-A subset</text>
<text class="tn" x="199.6" y="319.82" font-size="4.05" fill="#444" text-anchor="middle">0.016</text>
<text class="tn" x="265.85" y="313.08" font-size="3.1" fill="#333" text-anchor="end">1.2M</text>
<text class="tn" x="265.85" y="330.08" font-size="3.1" fill="#333" text-anchor="end">900K</text>
<text class="tn" x="265.85" y="347.58" font-size="3.1" fill="#333" text-anchor="end">600K</text>
<text class="tn" x="265.85" y="365.08" font-size="3.1" fill="#333" text-anchor="end">300K</text>
<text class="tn" x="265.85" y="381.88" font-size="3.1" fill="#333" text-anchor="end">0</text>
<text class="tn" x="273" y="389.83" font-size="3.1" fill="#333" text-anchor="middle" transform="rotate(-45 273 388.75)">10<tspan dy="-1.24" font-size="2.17">0</tspan></text>
<text class="tn" x="291.5" y="389.83" font-size="3.1" fill="#333" text-anchor="middle" transform="rotate(-45 291.5 388.75)">10<tspan dy="-1.24" font-size="2.17">2</tspan></text>
<text class="tn" x="311.5" y="389.83" font-size="3.1" fill="#333" text-anchor="middle" transform="rotate(-45 311.5 388.75)">10<tspan dy="-1.24" font-size="2.17">4</tspan></text>
<text class="tn" x="331.5" y="389.83" font-size="3.1" fill="#333" text-anchor="middle" transform="rotate(-45 331.5 388.75)">10<tspan dy="-1.24" font-size="2.17">6</tspan></text>
<text class="tn" x="320.8" y="314.02" font-size="4.05" fill="#444" text-anchor="middle">FITC-A, SSC-A subset</text>
<text class="tn" x="320.8" y="320.02" font-size="4.05" fill="#444" text-anchor="middle">67.0</text>
<text class="ts" x="620" y="50.44" font-size="2.4" fill="#222" text-anchor="end" font-weight="bold">2.0M</text>
<text class="ts" x="620" y="61.34" font-size="2.4" fill="#222" text-anchor="end" font-weight="bold">1.5M</text>
<text class="ts" x="620" y="72.14" font-size="2.4" fill="#222" text-anchor="end" font-weight="bold">1.0M</text>
<text class="ts" x="620" y="83.74" font-size="2.4" fill="#222" text-anchor="end" font-weight="bold">750K</text>
<text class="ts" x="620" y="94.44" font-size="2.4" fill="#222" text-anchor="end" font-weight="bold">500K</text>
<text class="ts" x="620" y="105.24" font-size="2.4" fill="#222" text-anchor="end" font-weight="bold">0</text>
<text class="ts" x="624.6" y="111.94" font-size="2.4" fill="#222" text-anchor="middle" font-weight="bold">10<tspan dy="-0.96" font-size="1.68">1</tspan></text>
<text class="ts" x="640.7" y="111.94" font-size="2.4" fill="#222" text-anchor="middle" font-weight="bold">10<tspan dy="-0.96" font-size="1.68">3</tspan></text>
<text class="ts" x="656.7" y="111.94" font-size="2.4" fill="#222" text-anchor="middle" font-weight="bold">10<tspan dy="-0.96" font-size="1.68">5</tspan></text>
<text class="ts" x="673.3" y="111.94" font-size="2.4" fill="#222" text-anchor="middle" font-weight="bold">10<tspan dy="-0.96" font-size="1.68">7</tspan></text>
<text class="ts" x="608.4" y="77.5" font-size="2.85" fill="#222" text-anchor="middle" font-weight="bold" transform="rotate(-90 608.4 77.5)">SSC-A :: SSC-A</text>
<text class="ts" x="651.1" y="118.8" font-size="2.9" fill="#222" text-anchor="middle" font-weight="bold">GFP</text>
<text class="ts" x="664.8" y="75.75" font-size="3.3" fill="#111" text-anchor="middle" font-weight="bold">FITC</text>
<text class="ts" x="664.8" y="79.25" font-size="3.3" fill="#111" text-anchor="middle" font-weight="bold">0.098</text>
<text class="ts" x="620" y="130.44" font-size="2.4" fill="#222" text-anchor="end" font-weight="bold">2.0M</text>
<text class="ts" x="620" y="141.34" font-size="2.4" fill="#222" text-anchor="end" font-weight="bold">1.5M</text>
<text class="ts" x="620" y="152.14" font-size="2.4" fill="#222" text-anchor="end" font-weight="bold">1.0M</text>
<text class="ts" x="620" y="163.74" font-size="2.4" fill="#222" text-anchor="end" font-weight="bold">750K</text>
<text class="ts" x="620" y="174.44" font-size="2.4" fill="#222" text-anchor="end" font-weight="bold">500K</text>
<text class="ts" x="620" y="185.24" font-size="2.4" fill="#222" text-anchor="end" font-weight="bold">0</text>
<text class="ts" x="624.6" y="191.34" font-size="2.4" fill="#222" text-anchor="middle" font-weight="bold">10<tspan dy="-0.96" font-size="1.68">1</tspan></text>
<text class="ts" x="640.7" y="191.34" font-size="2.4" fill="#222" text-anchor="middle" font-weight="bold">10<tspan dy="-0.96" font-size="1.68">3</tspan></text>
<text class="ts" x="656.7" y="191.34" font-size="2.4" fill="#222" text-anchor="middle" font-weight="bold">10<tspan dy="-0.96" font-size="1.68">5</tspan></text>
<text class="ts" x="673.3" y="191.34" font-size="2.4" fill="#222" text-anchor="middle" font-weight="bold">10<tspan dy="-0.96" font-size="1.68">7</tspan></text>
<text class="ts" x="608.4" y="157.2" font-size="2.85" fill="#222" text-anchor="middle" font-weight="bold" transform="rotate(-90 608.4 157.2)">SSC-A :: SSC-A</text>
<text class="ts" x="651.1" y="198.2" font-size="2.9" fill="#222" text-anchor="middle" font-weight="bold">GFP</text>
<text class="ts" x="664.8" y="155.75" font-size="3.3" fill="#111" text-anchor="middle" font-weight="bold">FITC</text>
<text class="ts" x="664.8" y="159.25" font-size="3.3" fill="#111" text-anchor="middle" font-weight="bold">65.7</text>
<text class="ts" x="623.6" y="245.34" font-size="2.4" fill="#222" text-anchor="end" font-weight="bold">1.5M</text>
<text class="ts" x="623.6" y="262.84" font-size="2.4" fill="#222" text-anchor="end" font-weight="bold">1.0M</text>
<text class="ts" x="623.6" y="280.84" font-size="2.4" fill="#222" text-anchor="end" font-weight="bold">500K</text>
<text class="ts" x="623.6" y="298.84" font-size="2.4" fill="#222" text-anchor="end" font-weight="bold">0</text>
<text class="ts" x="627.8" y="304.54" font-size="2.4" fill="#222" text-anchor="middle" font-weight="bold">10<tspan dy="-0.96" font-size="1.68">1</tspan></text>
<text class="ts" x="643.9" y="304.54" font-size="2.4" fill="#222" text-anchor="middle" font-weight="bold">10<tspan dy="-0.96" font-size="1.68">3</tspan></text>
<text class="ts" x="660.1" y="304.54" font-size="2.4" fill="#222" text-anchor="middle" font-weight="bold">10<tspan dy="-0.96" font-size="1.68">5</tspan></text>
<text class="ts" x="676.8" y="304.54" font-size="2.4" fill="#222" text-anchor="middle" font-weight="bold">10<tspan dy="-0.96" font-size="1.68">7</tspan></text>
<text class="ts" x="614.4" y="270.35" font-size="2.85" fill="#222" text-anchor="middle" font-weight="bold" transform="rotate(-90 614.4 270.35)">SSC-A :: SSC-A</text>
<text class="ts" x="655.2" y="311.4" font-size="2.9" fill="#222" text-anchor="middle" font-weight="bold">FITC</text>
<text class="ts" x="667.5" y="265.65" font-size="3.3" fill="#111" text-anchor="middle" font-weight="bold">FITC</text>
<text class="ts" x="667.5" y="270.05" font-size="3.3" fill="#111" text-anchor="middle" font-weight="bold">1.48</text>
<text class="ts" x="623.6" y="324.34" font-size="2.4" fill="#222" text-anchor="end" font-weight="bold">1.5M</text>
<text class="ts" x="623.6" y="341.84" font-size="2.4" fill="#222" text-anchor="end" font-weight="bold">1.0M</text>
<text class="ts" x="623.6" y="359.84" font-size="2.4" fill="#222" text-anchor="end" font-weight="bold">500K</text>
<text class="ts" x="623.6" y="378.34" font-size="2.4" fill="#222" text-anchor="end" font-weight="bold">0</text>
<text class="ts" x="627.8" y="384.54" font-size="2.4" fill="#222" text-anchor="middle" font-weight="bold">10<tspan dy="-0.96" font-size="1.68">1</tspan></text>
<text class="ts" x="643.9" y="384.54" font-size="2.4" fill="#222" text-anchor="middle" font-weight="bold">10<tspan dy="-0.96" font-size="1.68">3</tspan></text>
<text class="ts" x="660.1" y="384.54" font-size="2.4" fill="#222" text-anchor="middle" font-weight="bold">10<tspan dy="-0.96" font-size="1.68">5</tspan></text>
<text class="ts" x="676.8" y="384.54" font-size="2.4" fill="#222" text-anchor="middle" font-weight="bold">10<tspan dy="-0.96" font-size="1.68">7</tspan></text>
<text class="ts" x="614.4" y="350" font-size="2.85" fill="#222" text-anchor="middle" font-weight="bold" transform="rotate(-90 614.4 350)">SSC-A :: SSC-A</text>
<text class="ts" x="655.2" y="391.4" font-size="2.9" fill="#222" text-anchor="middle" font-weight="bold">FITC</text>
<text class="ts" x="667.5" y="342.75" font-size="3.3" fill="#111" text-anchor="middle" font-weight="bold">FITC</text>
<text class="ts" x="667.5" y="347.15" font-size="3.3" fill="#111" text-anchor="middle" font-weight="bold">71.6</text>
</g>
</svg>
<div class="band" style="left:103.8px;top:7.5px;width:315.4px;height:20.3px;line-height:20.3px;font-size:11.6px;letter-spacing:0.78px"><span class="bt">转导后第<b>2</b>天，<b>CAR-T</b>阳性率<b class="r">64%</b>（病毒载体<b class="r">5</b><span class="r">倍稀释</span>）</span></div>
<div class="band" style="left:147.7px;top:171.2px;width:200.1px;height:22.5px;line-height:22.5px;font-size:11.6px;letter-spacing:0.78px"><span class="bt">转导后第<b>2</b>天<b>CAR-γδT</b>阳性率<b class="r">67%</b></span></div>
<div class="band" style="left:517.2px;top:8.9px;width:210.3px;height:20.2px;line-height:20.2px;font-size:11.6px;letter-spacing:0.78px"><span class="bt">转导后第<b>2</b>天，<b>CAR-NK</b>阳性率<b class="r">68%</b></span></div>
<div class="band" style="left:510.5px;top:199.8px;width:214.7px;height:21.9px;line-height:21.9px;font-size:11.6px;letter-spacing:0.78px"><span class="bt">转导后第<b>21</b>天，<b>CAR-NK</b>阳性率<b class="r">71%</b></span></div>
<div class="pill" style="left:7px;top:75px;width:92.3px;height:27.3px;line-height:27.3px;font-size:13px"><span class="pt">CAR-T</span></div>
<div class="pill" style="left:6.7px;top:274.1px;width:91.6px;height:27.3px;line-height:27.3px;font-size:12.5px"><span class="pt">CAR-γδT</span></div>
<div class="pill" style="left:398px;top:196.3px;width:91.5px;height:27.3px;line-height:27.3px;font-size:13px"><span class="pt">CAR-NK</span></div>
<div class="sl" style="left:116.4px;top:39.8px;font-size:8.85px;">未转导<i>T</i>细胞</div>
<div class="sl" style="left:204.2px;top:39.8px;font-size:8.35px;"><i>1:5</i>稀释</div>
<div class="sl" style="left:281.2px;top:39.3px;font-size:8.35px;"><i>1:25</i>稀释</div>
<div class="sl" style="left:364.5px;top:40.1px;font-size:8.35px;"><i>1:125</i>稀释</div>
<div class="bl" style="left:167px;top:197.6px;font-size:10px;">Control</div>
<div class="bl" style="left:280px;top:197.6px;font-size:9.6px;">转导后第<i>2</i>天</div>
<div class="bl" style="left:570px;top:33.1px;font-size:9.55px;"><i>DAY7-</i>转导后第<i>2</i>天</div>
<div class="bl" style="left:566.6px;top:224.4px;font-size:9.6px;"><i>DAY26-</i>转导后第<i>21</i>天</div>
<div class="cap" style="left:72.1px;top:147px;font-size:11.6px;">图<b>1</b>：不同稀释比例的逆转录病毒载体转导人原代<b>T</b>细胞的转导效率</div>
<div class="cap" style="left:90.8px;top:394.7px;font-size:11.6px;">图<b>2</b>：逆转录病毒载体转导人原代<b>γδT</b>细胞的转导效率</div>
<div class="cap" style="left:455.4px;top:393.5px;font-size:11.6px;">图<b>3</b>：逆转录病毒载体转导人原代<b class="sn">NK</b>细胞的转导效率</div>
</body></html>
